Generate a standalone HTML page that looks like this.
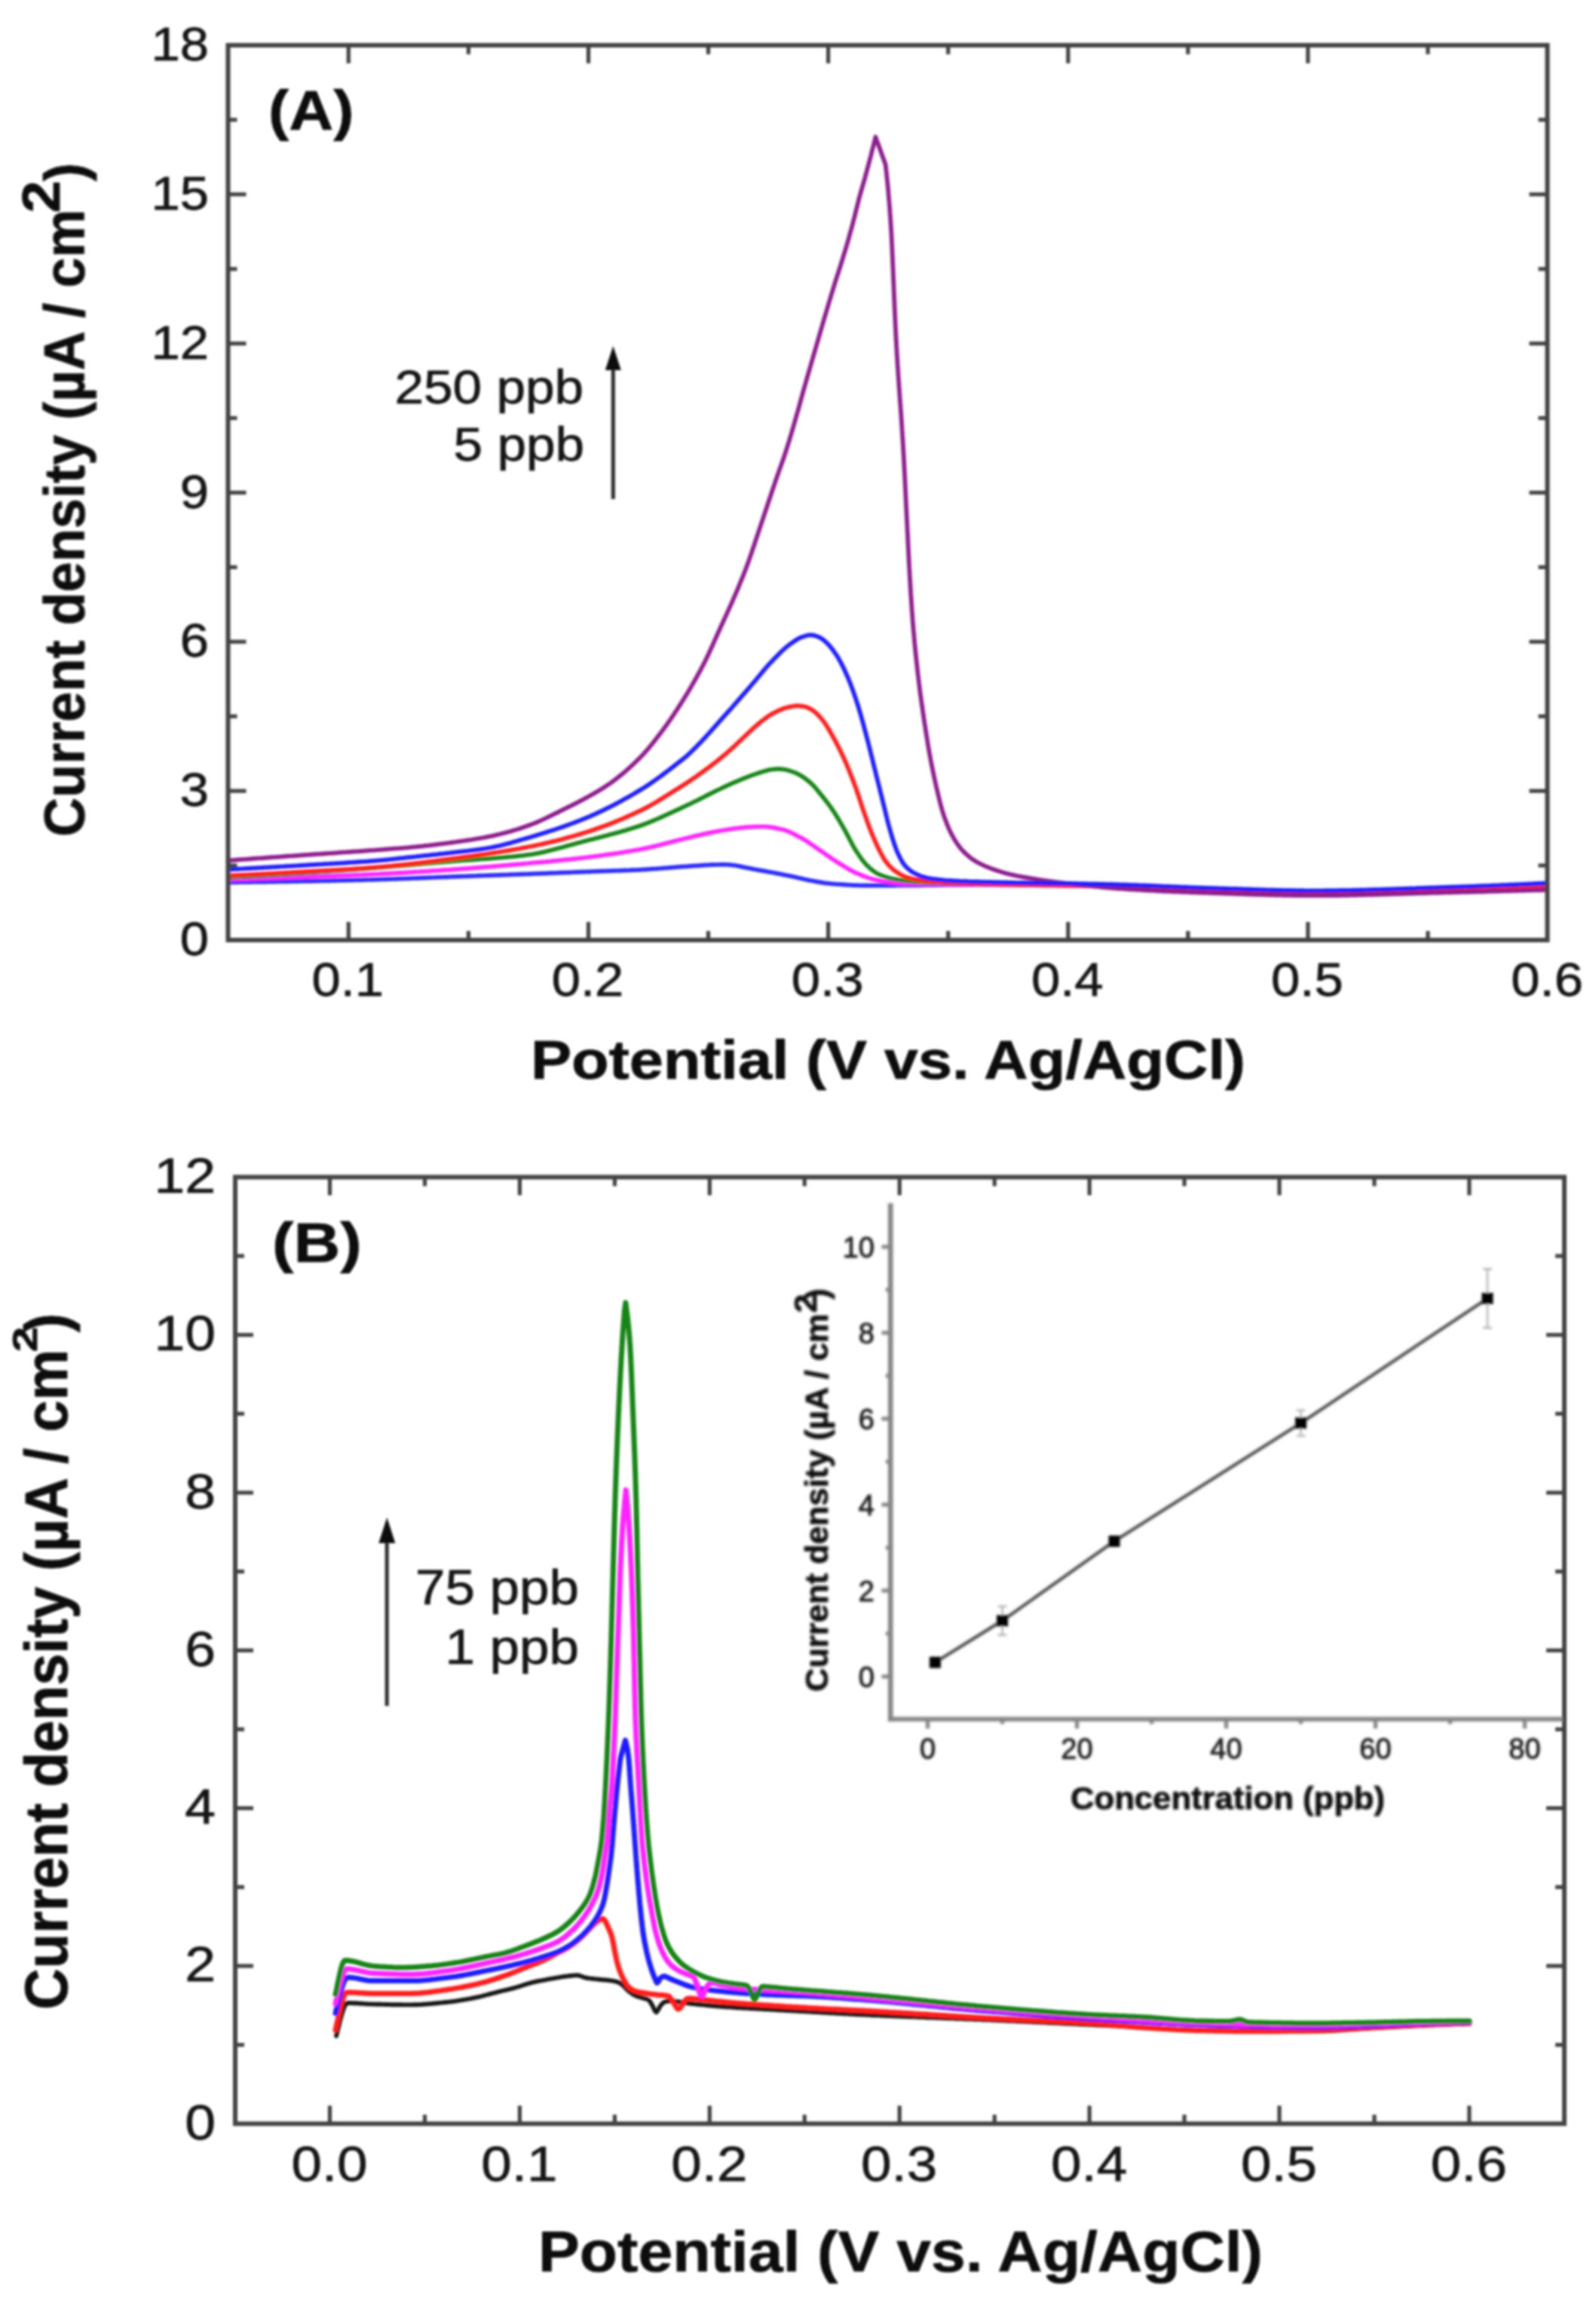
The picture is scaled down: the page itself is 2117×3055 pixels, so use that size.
<!DOCTYPE html>
<html lang="en"><head><meta charset="utf-8"><title>Figure</title>
<style>
html,body{margin:0;padding:0;background:#fff;}
body{width:2117px;height:3055px;overflow:hidden;}
svg{display:block;}
text{font-family:"Liberation Sans",Arial,sans-serif;fill:#141414;stroke:#141414;stroke-width:0.8px;stroke-linejoin:round;}
.b{font-weight:bold;fill:#0a0a0a;stroke:#0a0a0a;stroke-width:0.7px;}
.cv{fill:none;stroke-width:5.7;stroke-linejoin:round;stroke-linecap:round;}
.ax{stroke:#424242;fill:none;}
</style></head><body>
<svg width="2117" height="3055" viewBox="0 0 2117 3055">
<defs><filter id="soft" x="-2%" y="-2%" width="104%" height="104%"><feGaussianBlur stdDeviation="1.55"/></filter><filter id="soft2" x="-5%" y="-5%" width="110%" height="110%"><feGaussianBlur stdDeviation="1.2"/></filter>
<clipPath id="clipB"><rect x="0" y="0" width="2117" height="3030"/></clipPath></defs>
<rect width="2117" height="3055" fill="#fff"/>
<g filter="url(#soft)">
<g id="plotA">
<clipPath id="cA"><rect x="302.5" y="60" width="1750.0" height="1187"/></clipPath><g clip-path="url(#cA)">
<path class="cv" stroke="#2a2aff" d="M302.0,1170.4 L305.0,1170.4 L308.0,1170.3 L311.0,1170.3 L314.0,1170.3 L317.0,1170.2 L320.0,1170.2 L323.0,1170.2 L326.0,1170.1 L329.0,1170.1 L332.0,1170.1 L335.0,1170.0 L338.0,1170.0 L341.0,1169.9 L344.0,1169.9 L347.0,1169.9 L350.0,1169.8 L353.0,1169.8 L356.0,1169.7 L359.0,1169.7 L362.0,1169.6 L365.0,1169.6 L368.0,1169.5 L371.0,1169.5 L374.0,1169.4 L377.0,1169.4 L380.0,1169.3 L383.0,1169.3 L386.0,1169.2 L389.0,1169.2 L392.0,1169.1 L395.0,1169.1 L398.0,1169.0 L401.0,1169.0 L404.0,1168.9 L407.0,1168.9 L410.0,1168.8 L413.0,1168.8 L416.0,1168.7 L419.0,1168.6 L422.0,1168.6 L425.0,1168.5 L428.0,1168.5 L431.0,1168.4 L434.0,1168.3 L437.0,1168.3 L440.0,1168.2 L443.0,1168.1 L446.0,1168.1 L449.0,1168.0 L452.0,1167.9 L455.0,1167.9 L458.0,1167.8 L461.0,1167.7 L464.0,1167.7 L467.0,1167.6 L470.0,1167.5 L473.0,1167.4 L476.0,1167.4 L479.0,1167.3 L482.0,1167.2 L485.0,1167.1 L488.0,1167.0 L491.0,1167.0 L494.0,1166.9 L497.0,1166.8 L500.0,1166.7 L503.0,1166.6 L506.0,1166.5 L509.0,1166.4 L512.0,1166.3 L515.0,1166.2 L518.0,1166.1 L521.0,1166.0 L524.0,1165.9 L526.9,1165.8 L529.9,1165.7 L532.9,1165.6 L535.9,1165.5 L538.9,1165.4 L541.9,1165.3 L544.9,1165.1 L547.9,1165.0 L550.9,1164.9 L553.9,1164.8 L556.9,1164.7 L559.9,1164.6 L562.9,1164.4 L565.9,1164.3 L568.9,1164.2 L571.9,1164.1 L574.9,1164.0 L577.9,1163.8 L580.9,1163.7 L583.9,1163.6 L586.9,1163.5 L589.9,1163.4 L592.9,1163.3 L595.9,1163.2 L598.9,1163.0 L601.9,1162.9 L604.9,1162.8 L607.9,1162.7 L610.9,1162.6 L613.9,1162.5 L616.9,1162.4 L619.9,1162.3 L622.9,1162.2 L625.9,1162.1 L628.9,1162.0 L631.9,1161.9 L634.9,1161.7 L637.9,1161.6 L640.9,1161.5 L643.9,1161.4 L646.9,1161.3 L649.9,1161.2 L652.9,1161.1 L655.9,1161.0 L658.9,1160.9 L661.9,1160.8 L664.9,1160.7 L667.9,1160.6 L670.8,1160.5 L673.8,1160.4 L676.8,1160.2 L679.8,1160.1 L682.8,1160.0 L685.8,1159.9 L688.8,1159.8 L691.8,1159.7 L694.8,1159.6 L697.8,1159.5 L700.8,1159.4 L703.8,1159.3 L706.8,1159.1 L709.8,1159.0 L712.8,1158.9 L715.8,1158.8 L718.8,1158.7 L721.8,1158.6 L724.8,1158.5 L727.8,1158.3 L730.8,1158.2 L733.8,1158.1 L736.8,1158.0 L739.8,1157.9 L742.8,1157.7 L745.8,1157.6 L748.8,1157.5 L751.8,1157.4 L754.8,1157.3 L757.8,1157.2 L760.8,1157.0 L763.8,1156.9 L766.8,1156.8 L769.8,1156.7 L772.8,1156.6 L775.8,1156.5 L778.8,1156.4 L781.8,1156.3 L784.8,1156.1 L787.8,1156.0 L790.8,1155.9 L793.8,1155.8 L796.8,1155.7 L799.8,1155.6 L802.8,1155.5 L805.8,1155.4 L808.8,1155.3 L811.8,1155.2 L814.8,1155.1 L817.7,1155.0 L820.7,1154.9 L823.7,1154.8 L826.7,1154.7 L829.7,1154.6 L832.7,1154.5 L835.7,1154.4 L838.7,1154.2 L841.7,1154.1 L844.7,1154.0 L847.7,1153.8 L850.7,1153.7 L853.7,1153.5 L856.7,1153.3 L859.7,1153.1 L862.7,1152.9 L865.7,1152.7 L868.7,1152.5 L871.7,1152.3 L874.7,1152.0 L877.7,1151.8 L880.6,1151.5 L883.6,1151.3 L886.6,1151.1 L889.6,1150.8 L892.6,1150.6 L895.6,1150.4 L898.6,1150.1 L901.6,1149.9 L904.6,1149.7 L907.6,1149.5 L910.6,1149.3 L913.6,1149.1 L916.5,1148.9 L919.5,1148.7 L922.5,1148.5 L925.5,1148.3 L928.5,1148.1 L931.5,1147.9 L934.5,1147.7 L937.5,1147.5 L940.5,1147.4 L943.5,1147.2 L946.5,1147.1 L949.5,1147.0 L952.5,1147.0 L955.5,1146.9 L958.5,1146.9 L961.5,1146.9 L964.5,1147.0 L967.5,1147.2 L970.5,1147.5 L973.5,1147.8 L976.4,1148.2 L979.4,1148.8 L982.3,1149.4 L985.3,1150.1 L988.2,1150.6 L991.1,1151.2 L994.1,1151.8 L997.0,1152.4 L1000.0,1153.0 L1002.9,1153.5 L1005.9,1154.1 L1008.8,1154.6 L1011.8,1155.1 L1014.7,1155.6 L1017.7,1156.2 L1020.6,1156.7 L1023.6,1157.2 L1026.5,1157.8 L1029.5,1158.4 L1032.4,1158.9 L1035.4,1159.5 L1038.3,1160.1 L1041.2,1160.7 L1044.2,1161.3 L1047.1,1161.9 L1050.1,1162.5 L1053.0,1163.1 L1055.9,1163.8 L1058.9,1164.5 L1061.8,1165.1 L1064.7,1165.8 L1067.6,1166.5 L1070.6,1167.1 L1073.5,1167.7 L1076.4,1168.2 L1079.4,1168.8 L1082.3,1169.4 L1085.3,1169.9 L1088.2,1170.4 L1091.2,1170.9 L1094.2,1171.3 L1097.1,1171.7 L1100.1,1172.0 L1103.1,1172.3 L1106.1,1172.5 L1109.1,1172.8 L1112.1,1173.0 L1115.1,1173.2 L1118.1,1173.4 L1121.0,1173.6 L1124.0,1173.8 L1127.0,1174.0 L1130.0,1174.2 L1133.0,1174.3 L1136.0,1174.4 L1139.0,1174.5 L1142.0,1174.6 L1145.0,1174.7 L1148.0,1174.7 L1151.0,1174.7 L1154.0,1174.7 L1157.0,1174.7 L1160.0,1174.7 L1163.0,1174.7 L1166.0,1174.7 L1169.0,1174.7 L1172.0,1174.6 L1175.0,1174.6 L1178.0,1174.6 L1181.0,1174.6 L1184.0,1174.6 L1187.0,1174.6 L1190.0,1174.5 L1193.0,1174.5 L1196.0,1174.5 L1199.0,1174.5 L1202.0,1174.4 L1205.0,1174.4 L1208.0,1174.4 L1211.0,1174.4 L1214.0,1174.3 L1217.0,1174.3 L1220.0,1174.3 L1223.0,1174.2 L1226.0,1174.2 L1229.0,1174.2 L1232.0,1174.2 L1235.0,1174.1 L1238.0,1174.1 L1241.0,1174.1 L1244.0,1174.1 L1247.0,1174.0 L1250.0,1174.0 L1253.0,1174.0 L1256.0,1174.0 L1259.0,1173.9 L1262.0,1173.9 L1265.0,1173.9 L1268.0,1173.8 L1271.0,1173.8 L1274.0,1173.8 L1277.0,1173.7 L1280.0,1173.7 L1283.0,1173.7 L1286.0,1173.6 L1289.0,1173.6 L1292.0,1173.5 L1295.0,1173.5 L1298.0,1173.5 L1301.0,1173.4 L1304.0,1173.4 L1307.0,1173.3 L1310.0,1173.3 L1313.0,1173.3 L1316.0,1173.2 L1319.0,1173.2 L1322.0,1173.1 L1325.0,1173.1 L1328.0,1173.1 L1331.0,1173.0 L1334.0,1173.0 L1337.0,1172.9 L1340.0,1172.9 L1343.0,1172.9 L1346.0,1172.8 L1349.0,1172.8 L1352.0,1172.8 L1355.0,1172.7 L1358.0,1172.7 L1361.0,1172.7 L1364.0,1172.7 L1367.0,1172.6 L1370.0,1172.6 L1373.0,1172.6 L1376.0,1172.6 L1379.0,1172.6 L1382.0,1172.5 L1385.0,1172.5 L1388.0,1172.5 L1391.0,1172.5 L1394.0,1172.5 L1397.0,1172.5 L1400.0,1172.5 L1403.0,1172.5 L1406.0,1172.5 L1409.0,1172.5 L1412.0,1172.6 L1415.0,1172.6 L1418.0,1172.7 L1421.0,1172.7 L1424.0,1172.8 L1427.0,1172.9 L1430.0,1172.9 L1433.0,1173.0 L1436.0,1173.1 L1439.0,1173.2 L1442.0,1173.3 L1445.0,1173.3 L1448.0,1173.4 L1451.0,1173.5 L1454.0,1173.6 L1457.0,1173.7 L1460.0,1173.8 L1463.0,1173.9 L1466.0,1174.0 L1469.0,1174.1 L1472.0,1174.1 L1475.0,1174.2 L1478.0,1174.3 L1481.0,1174.4 L1484.0,1174.5 L1487.0,1174.6 L1490.0,1174.7 L1493.0,1174.9 L1496.0,1175.0 L1499.0,1175.1 L1502.0,1175.2 L1505.0,1175.3 L1508.0,1175.5 L1511.0,1175.6 L1514.0,1175.7 L1517.0,1175.8 L1520.0,1176.0 L1523.0,1176.1 L1525.9,1176.2 L1528.9,1176.4 L1531.9,1176.5 L1534.9,1176.6 L1537.9,1176.8 L1540.9,1176.9 L1543.9,1177.1 L1546.9,1177.2 L1549.9,1177.3 L1552.9,1177.5 L1555.9,1177.6 L1558.9,1177.7 L1561.9,1177.9 L1564.9,1178.0 L1567.9,1178.1 L1570.9,1178.3 L1573.9,1178.4 L1576.9,1178.5 L1579.9,1178.6 L1582.9,1178.8 L1585.9,1178.9 L1588.9,1179.0 L1591.9,1179.1 L1594.9,1179.2 L1597.9,1179.4 L1600.9,1179.5 L1603.9,1179.6 L1606.9,1179.7 L1609.9,1179.8 L1612.9,1179.9 L1615.9,1180.0 L1618.9,1180.1 L1621.9,1180.1 L1624.9,1180.2 L1627.9,1180.3 L1630.9,1180.4 L1633.9,1180.5 L1636.9,1180.6 L1639.9,1180.7 L1642.9,1180.8 L1645.9,1180.9 L1648.9,1181.0 L1651.9,1181.1 L1654.9,1181.2 L1657.8,1181.3 L1660.8,1181.4 L1663.8,1181.5 L1666.8,1181.6 L1669.8,1181.7 L1672.8,1181.8 L1675.8,1181.8 L1678.8,1181.9 L1681.8,1182.0 L1684.8,1182.1 L1687.8,1182.2 L1690.8,1182.3 L1693.8,1182.3 L1696.8,1182.4 L1699.8,1182.5 L1702.8,1182.5 L1705.8,1182.6 L1708.8,1182.7 L1711.8,1182.7 L1714.8,1182.8 L1717.8,1182.8 L1720.8,1182.8 L1723.8,1182.9 L1726.8,1182.9 L1729.8,1182.9 L1732.8,1183.0 L1735.8,1183.0 L1738.8,1183.0 L1741.8,1183.0 L1744.8,1183.0 L1747.8,1183.0 L1750.8,1183.0 L1753.8,1183.0 L1756.8,1183.0 L1759.8,1182.9 L1762.8,1182.9 L1765.8,1182.9 L1768.8,1182.8 L1771.8,1182.8 L1774.8,1182.8 L1777.8,1182.7 L1780.8,1182.7 L1783.8,1182.6 L1786.8,1182.6 L1789.8,1182.5 L1792.8,1182.4 L1795.8,1182.4 L1798.8,1182.3 L1801.8,1182.2 L1804.8,1182.2 L1807.8,1182.1 L1810.8,1182.0 L1813.8,1181.9 L1816.8,1181.8 L1819.8,1181.8 L1822.8,1181.7 L1825.8,1181.6 L1828.8,1181.5 L1831.8,1181.4 L1834.8,1181.3 L1837.8,1181.2 L1840.8,1181.1 L1843.8,1181.0 L1846.8,1180.9 L1849.8,1180.8 L1852.8,1180.7 L1855.8,1180.6 L1858.8,1180.5 L1861.8,1180.4 L1864.8,1180.3 L1867.8,1180.2 L1870.8,1180.1 L1873.8,1180.0 L1876.8,1179.9 L1879.8,1179.8 L1882.8,1179.7 L1885.8,1179.6 L1888.8,1179.5 L1891.8,1179.4 L1894.8,1179.3 L1897.8,1179.2 L1900.8,1179.1 L1903.8,1179.0 L1906.8,1178.9 L1909.8,1178.8 L1912.8,1178.7 L1915.8,1178.6 L1918.8,1178.5 L1921.8,1178.4 L1924.8,1178.3 L1927.8,1178.2 L1930.8,1178.1 L1933.8,1178.0 L1936.8,1177.9 L1939.7,1177.8 L1942.7,1177.7 L1945.7,1177.6 L1948.7,1177.4 L1951.7,1177.3 L1954.7,1177.2 L1957.7,1177.1 L1960.7,1177.0 L1963.7,1176.9 L1966.7,1176.8 L1969.7,1176.6 L1972.7,1176.5 L1975.7,1176.4 L1978.7,1176.3 L1981.7,1176.1 L1984.7,1176.0 L1987.7,1175.9 L1990.7,1175.8 L1993.7,1175.6 L1996.7,1175.5 L1999.7,1175.4 L2002.7,1175.3 L2005.7,1175.1 L2008.7,1175.0 L2011.7,1174.9 L2014.7,1174.7 L2017.7,1174.6 L2020.7,1174.5 L2023.7,1174.3 L2026.7,1174.2 L2029.7,1174.0 L2032.7,1173.9 L2035.7,1173.8 L2038.7,1173.6 L2041.7,1173.5 L2044.7,1173.3 L2047.7,1173.2 L2050.6,1173.1 L2052.0,1173.0"/>
<path class="cv" stroke="#ff22ff" d="M302.0,1167.0 L305.0,1166.9 L308.0,1166.8 L311.0,1166.7 L314.0,1166.6 L317.0,1166.5 L320.0,1166.4 L323.0,1166.3 L326.0,1166.2 L329.0,1166.1 L332.0,1166.0 L335.0,1165.9 L338.0,1165.8 L341.0,1165.7 L344.0,1165.6 L347.0,1165.4 L350.0,1165.3 L353.0,1165.2 L356.0,1165.1 L359.0,1165.0 L362.0,1164.9 L365.0,1164.8 L368.0,1164.7 L371.0,1164.6 L374.0,1164.5 L377.0,1164.4 L380.0,1164.2 L382.9,1164.1 L385.9,1164.0 L388.9,1163.9 L391.9,1163.8 L394.9,1163.7 L397.9,1163.6 L400.9,1163.5 L403.9,1163.4 L406.9,1163.2 L409.9,1163.1 L412.9,1163.0 L415.9,1162.9 L418.9,1162.8 L421.9,1162.7 L424.9,1162.6 L427.9,1162.5 L430.9,1162.3 L433.9,1162.2 L436.9,1162.1 L439.9,1162.0 L442.9,1161.9 L445.9,1161.8 L448.9,1161.7 L451.9,1161.6 L454.9,1161.4 L457.9,1161.3 L460.9,1161.2 L463.9,1161.1 L466.9,1161.0 L469.9,1160.8 L472.9,1160.7 L475.9,1160.6 L478.9,1160.5 L481.9,1160.3 L484.9,1160.2 L487.9,1160.1 L490.9,1159.9 L493.9,1159.8 L496.9,1159.6 L499.9,1159.5 L502.9,1159.4 L505.9,1159.2 L508.8,1159.1 L511.8,1158.9 L514.8,1158.8 L517.8,1158.6 L520.8,1158.4 L523.8,1158.3 L526.8,1158.1 L529.8,1157.9 L532.8,1157.8 L535.8,1157.6 L538.8,1157.4 L541.8,1157.3 L544.8,1157.1 L547.8,1156.9 L550.8,1156.7 L553.8,1156.5 L556.8,1156.4 L559.8,1156.2 L562.8,1156.0 L565.8,1155.8 L568.7,1155.6 L571.7,1155.4 L574.7,1155.2 L577.7,1155.0 L580.7,1154.8 L583.7,1154.6 L586.7,1154.4 L589.7,1154.2 L592.7,1154.0 L595.7,1153.8 L598.7,1153.6 L601.7,1153.4 L604.7,1153.2 L607.7,1153.0 L610.7,1152.7 L613.6,1152.5 L616.6,1152.3 L619.6,1152.1 L622.6,1151.9 L625.6,1151.6 L628.6,1151.4 L631.6,1151.2 L634.6,1150.9 L637.6,1150.7 L640.6,1150.4 L643.6,1150.2 L646.5,1150.0 L649.5,1149.7 L652.5,1149.5 L655.5,1149.2 L658.5,1149.0 L661.5,1148.7 L664.5,1148.5 L667.5,1148.2 L670.5,1147.9 L673.4,1147.7 L676.4,1147.4 L679.4,1147.1 L682.4,1146.9 L685.4,1146.6 L688.4,1146.3 L691.4,1146.1 L694.4,1145.8 L697.4,1145.5 L700.3,1145.3 L703.3,1145.0 L706.3,1144.7 L709.3,1144.4 L712.3,1144.2 L715.3,1143.9 L718.3,1143.6 L721.3,1143.3 L724.2,1143.1 L727.2,1142.8 L730.2,1142.5 L733.2,1142.2 L736.2,1141.9 L739.2,1141.6 L742.2,1141.3 L745.1,1141.0 L748.1,1140.7 L751.1,1140.4 L754.1,1140.1 L757.1,1139.8 L760.1,1139.4 L763.0,1139.1 L766.0,1138.8 L769.0,1138.4 L772.0,1138.1 L775.0,1137.7 L777.9,1137.3 L780.9,1137.0 L783.9,1136.6 L786.9,1136.2 L789.8,1135.8 L792.8,1135.5 L795.8,1135.1 L798.8,1134.7 L801.7,1134.3 L804.7,1133.8 L807.7,1133.4 L810.7,1133.0 L813.6,1132.6 L816.6,1132.1 L819.6,1131.7 L822.5,1131.2 L825.5,1130.7 L828.4,1130.3 L831.4,1129.8 L834.4,1129.3 L837.3,1128.8 L840.3,1128.3 L843.2,1127.7 L846.2,1127.2 L849.1,1126.7 L852.1,1126.1 L855.0,1125.5 L858.0,1124.9 L860.9,1124.2 L863.8,1123.6 L866.8,1122.9 L869.7,1122.2 L872.6,1121.5 L875.5,1120.7 L878.4,1120.0 L881.3,1119.2 L884.2,1118.5 L887.1,1117.7 L890.0,1117.0 L892.9,1116.3 L895.8,1115.5 L898.8,1114.8 L901.7,1114.1 L904.6,1113.4 L907.5,1112.6 L910.4,1111.9 L913.3,1111.2 L916.2,1110.4 L919.1,1109.7 L922.0,1109.0 L925.0,1108.4 L927.9,1107.7 L930.8,1107.0 L933.7,1106.4 L936.7,1105.7 L939.6,1105.1 L942.5,1104.5 L945.5,1103.9 L948.4,1103.3 L951.4,1102.8 L954.3,1102.2 L957.3,1101.7 L960.2,1101.2 L963.2,1100.7 L966.1,1100.2 L969.1,1099.8 L972.1,1099.4 L975.0,1099.0 L978.0,1098.7 L981.0,1098.3 L984.0,1098.0 L987.0,1097.7 L990.0,1097.4 L993.0,1097.2 L995.9,1097.0 L998.9,1096.8 L1001.9,1096.7 L1004.9,1096.6 L1007.9,1096.5 L1010.9,1096.5 L1013.9,1096.5 L1016.9,1096.7 L1019.9,1097.0 L1022.9,1097.4 L1025.9,1097.9 L1028.8,1098.4 L1031.8,1099.0 L1034.7,1099.7 L1037.6,1100.3 L1040.6,1101.1 L1043.4,1102.0 L1046.2,1103.2 L1049.0,1104.4 L1051.7,1105.7 L1054.4,1107.1 L1057.1,1108.5 L1059.7,1109.9 L1062.4,1111.3 L1065.0,1112.8 L1067.6,1114.3 L1070.2,1115.9 L1072.7,1117.6 L1075.2,1119.3 L1077.6,1121.0 L1080.1,1122.7 L1082.6,1124.5 L1085.0,1126.2 L1087.5,1127.9 L1090.0,1129.5 L1092.5,1131.2 L1094.9,1133.0 L1097.4,1134.7 L1099.8,1136.4 L1102.3,1138.1 L1104.8,1139.8 L1107.3,1141.5 L1109.8,1143.1 L1112.3,1144.7 L1114.8,1146.2 L1117.4,1147.8 L1119.9,1149.4 L1122.5,1150.9 L1125.1,1152.5 L1127.7,1154.0 L1130.3,1155.4 L1132.9,1156.8 L1135.6,1158.0 L1138.3,1159.2 L1141.1,1160.4 L1143.9,1161.5 L1146.7,1162.6 L1149.5,1163.6 L1152.3,1164.6 L1155.1,1165.5 L1158.0,1166.3 L1160.9,1167.0 L1163.9,1167.6 L1166.8,1168.1 L1169.7,1168.7 L1172.7,1169.2 L1175.7,1169.7 L1178.6,1170.1 L1181.6,1170.6 L1184.6,1170.9 L1187.5,1171.3 L1190.5,1171.6 L1193.5,1171.8 L1196.5,1172.0 L1199.5,1172.2 L1202.5,1172.3 L1205.5,1172.3 L1208.5,1172.4 L1211.5,1172.5 L1214.5,1172.5 L1217.5,1172.6 L1220.5,1172.6 L1223.5,1172.7 L1226.5,1172.7 L1229.5,1172.8 L1232.5,1172.8 L1235.5,1172.9 L1238.5,1172.9 L1241.5,1172.9 L1244.5,1173.0 L1247.5,1173.0 L1250.5,1173.0 L1253.5,1173.1 L1256.5,1173.1 L1259.5,1173.1 L1262.5,1173.1 L1265.5,1173.2 L1268.5,1173.2 L1271.5,1173.2 L1274.5,1173.2 L1277.5,1173.3 L1280.5,1173.3 L1283.5,1173.3 L1286.5,1173.4 L1289.5,1173.4 L1292.5,1173.4 L1295.5,1173.4 L1298.5,1173.5 L1301.5,1173.5 L1304.5,1173.6 L1307.5,1173.6 L1310.5,1173.6 L1313.5,1173.7 L1316.5,1173.7 L1319.5,1173.7 L1322.5,1173.8 L1325.5,1173.8 L1328.5,1173.8 L1331.5,1173.9 L1334.5,1173.9 L1337.5,1173.9 L1340.5,1173.9 L1343.5,1174.0 L1346.5,1174.0 L1349.5,1174.0 L1352.5,1174.1 L1355.5,1174.1 L1358.5,1174.1 L1361.5,1174.2 L1364.5,1174.2 L1367.5,1174.2 L1370.5,1174.2 L1373.5,1174.3 L1376.5,1174.3 L1379.5,1174.3 L1382.5,1174.4 L1385.5,1174.4 L1388.5,1174.4 L1391.5,1174.4 L1394.5,1174.5 L1397.5,1174.5 L1400.5,1174.5 L1403.5,1174.6 L1406.5,1174.6 L1409.5,1174.6 L1412.5,1174.7 L1415.5,1174.7 L1418.5,1174.8 L1421.5,1174.8 L1424.5,1174.8 L1427.5,1174.9 L1430.5,1174.9 L1433.5,1175.0 L1436.5,1175.0 L1439.5,1175.0 L1442.5,1175.1 L1445.5,1175.1 L1448.5,1175.2 L1451.5,1175.2 L1454.5,1175.3 L1457.5,1175.3 L1460.5,1175.4 L1463.5,1175.4 L1466.5,1175.5 L1469.5,1175.5 L1472.5,1175.6 L1475.5,1175.7 L1478.5,1175.8 L1481.5,1175.9 L1484.5,1175.9 L1487.5,1176.0 L1490.5,1176.1 L1493.5,1176.3 L1496.5,1176.4 L1499.5,1176.5 L1502.5,1176.6 L1505.5,1176.7 L1508.4,1176.9 L1511.4,1177.0 L1514.4,1177.1 L1517.4,1177.3 L1520.4,1177.4 L1523.4,1177.6 L1526.4,1177.7 L1529.4,1177.9 L1532.4,1178.0 L1535.4,1178.2 L1538.4,1178.3 L1541.4,1178.5 L1544.4,1178.7 L1547.4,1178.8 L1550.4,1179.0 L1553.4,1179.1 L1556.4,1179.3 L1559.4,1179.5 L1562.4,1179.6 L1565.4,1179.8 L1568.4,1179.9 L1571.4,1180.1 L1574.4,1180.2 L1577.4,1180.4 L1580.4,1180.5 L1583.4,1180.7 L1586.4,1180.8 L1589.3,1180.9 L1592.3,1181.1 L1595.3,1181.2 L1598.3,1181.3 L1601.3,1181.4 L1604.3,1181.6 L1607.3,1181.7 L1610.3,1181.8 L1613.3,1181.9 L1616.3,1182.0 L1619.3,1182.1 L1622.3,1182.2 L1625.3,1182.3 L1628.3,1182.4 L1631.3,1182.5 L1634.3,1182.5 L1637.3,1182.6 L1640.3,1182.7 L1643.3,1182.8 L1646.3,1182.9 L1649.3,1183.0 L1652.3,1183.1 L1655.3,1183.2 L1658.3,1183.3 L1661.3,1183.4 L1664.3,1183.5 L1667.3,1183.6 L1670.3,1183.7 L1673.3,1183.8 L1676.3,1183.9 L1679.3,1184.0 L1682.3,1184.0 L1685.3,1184.1 L1688.3,1184.2 L1691.3,1184.3 L1694.3,1184.4 L1697.3,1184.4 L1700.3,1184.5 L1703.3,1184.6 L1706.3,1184.6 L1709.3,1184.7 L1712.3,1184.7 L1715.3,1184.8 L1718.3,1184.8 L1721.3,1184.9 L1724.3,1184.9 L1727.3,1184.9 L1730.3,1184.9 L1733.3,1185.0 L1736.3,1185.0 L1739.3,1185.0 L1742.3,1185.0 L1745.3,1185.0 L1748.3,1185.0 L1751.3,1185.0 L1754.3,1185.0 L1757.3,1185.0 L1760.3,1184.9 L1763.3,1184.9 L1766.3,1184.9 L1769.3,1184.8 L1772.3,1184.8 L1775.3,1184.8 L1778.3,1184.7 L1781.3,1184.7 L1784.3,1184.6 L1787.3,1184.6 L1790.3,1184.5 L1793.3,1184.5 L1796.3,1184.4 L1799.3,1184.4 L1802.3,1184.3 L1805.3,1184.2 L1808.3,1184.2 L1811.3,1184.1 L1814.3,1184.0 L1817.3,1183.9 L1820.3,1183.9 L1823.3,1183.8 L1826.3,1183.7 L1829.3,1183.6 L1832.3,1183.6 L1835.3,1183.5 L1838.3,1183.4 L1841.3,1183.3 L1844.3,1183.2 L1847.3,1183.1 L1850.3,1183.0 L1853.3,1182.9 L1856.3,1182.9 L1859.3,1182.8 L1862.3,1182.7 L1865.3,1182.6 L1868.3,1182.5 L1871.3,1182.4 L1874.3,1182.3 L1877.3,1182.2 L1880.2,1182.1 L1883.2,1182.0 L1886.2,1181.9 L1889.2,1181.8 L1892.2,1181.7 L1895.2,1181.7 L1898.2,1181.6 L1901.2,1181.5 L1904.2,1181.4 L1907.2,1181.3 L1910.2,1181.2 L1913.2,1181.1 L1916.2,1181.0 L1919.2,1181.0 L1922.2,1180.9 L1925.2,1180.8 L1928.2,1180.7 L1931.2,1180.6 L1934.2,1180.5 L1937.2,1180.5 L1940.2,1180.4 L1943.2,1180.3 L1946.2,1180.2 L1949.2,1180.1 L1952.2,1180.0 L1955.2,1179.9 L1958.2,1179.8 L1961.2,1179.7 L1964.2,1179.6 L1967.2,1179.5 L1970.2,1179.4 L1973.2,1179.3 L1976.2,1179.2 L1979.2,1179.1 L1982.2,1179.0 L1985.2,1178.9 L1988.2,1178.8 L1991.2,1178.7 L1994.2,1178.6 L1997.2,1178.5 L2000.2,1178.4 L2003.2,1178.3 L2006.2,1178.2 L2009.2,1178.1 L2012.2,1178.0 L2015.2,1177.9 L2018.2,1177.8 L2021.2,1177.7 L2024.2,1177.5 L2027.2,1177.4 L2030.2,1177.3 L2033.2,1177.2 L2036.2,1177.1 L2039.2,1177.0 L2042.2,1176.9 L2045.2,1176.8 L2048.2,1176.6 L2051.2,1176.5 L2052.0,1176.5"/>
<path class="cv" stroke="#128412" d="M302.0,1164.0 L305.0,1163.9 L308.0,1163.7 L311.0,1163.5 L314.0,1163.4 L317.0,1163.2 L320.0,1163.1 L323.0,1162.9 L326.0,1162.8 L329.0,1162.6 L332.0,1162.4 L335.0,1162.3 L338.0,1162.1 L340.9,1161.9 L343.9,1161.8 L346.9,1161.6 L349.9,1161.4 L352.9,1161.3 L355.9,1161.1 L358.9,1160.9 L361.9,1160.7 L364.9,1160.6 L367.9,1160.4 L370.9,1160.2 L373.9,1160.0 L376.9,1159.8 L379.9,1159.6 L382.9,1159.5 L385.9,1159.3 L388.9,1159.1 L391.9,1158.9 L394.8,1158.7 L397.8,1158.5 L400.8,1158.3 L403.8,1158.1 L406.8,1157.9 L409.8,1157.7 L412.8,1157.5 L415.8,1157.3 L418.8,1157.1 L421.8,1156.9 L424.8,1156.7 L427.8,1156.5 L430.8,1156.3 L433.8,1156.1 L436.8,1155.9 L439.8,1155.7 L442.7,1155.5 L445.7,1155.3 L448.7,1155.1 L451.7,1154.9 L454.7,1154.7 L457.7,1154.4 L460.7,1154.2 L463.7,1154.0 L466.7,1153.8 L469.7,1153.6 L472.7,1153.3 L475.7,1153.1 L478.6,1152.9 L481.6,1152.6 L484.6,1152.4 L487.6,1152.1 L490.6,1151.9 L493.6,1151.7 L496.6,1151.4 L499.6,1151.2 L502.6,1150.9 L505.6,1150.7 L508.5,1150.4 L511.5,1150.2 L514.5,1149.9 L517.5,1149.7 L520.5,1149.4 L523.5,1149.1 L526.5,1148.9 L529.5,1148.6 L532.5,1148.4 L535.4,1148.1 L538.4,1147.8 L541.4,1147.6 L544.4,1147.3 L547.4,1147.1 L550.4,1146.8 L553.4,1146.5 L556.4,1146.3 L559.4,1146.0 L562.3,1145.7 L565.3,1145.5 L568.3,1145.2 L571.3,1145.0 L574.3,1144.7 L577.3,1144.4 L580.3,1144.2 L583.3,1143.9 L586.3,1143.7 L589.2,1143.4 L592.2,1143.2 L595.2,1142.9 L598.2,1142.7 L601.2,1142.4 L604.2,1142.2 L607.2,1141.9 L610.2,1141.7 L613.2,1141.5 L616.2,1141.2 L619.1,1141.0 L622.1,1140.8 L625.1,1140.6 L628.1,1140.4 L631.1,1140.2 L634.1,1139.9 L637.1,1139.7 L640.1,1139.5 L643.1,1139.3 L646.1,1139.1 L649.1,1138.9 L652.1,1138.6 L655.1,1138.4 L658.0,1138.2 L661.0,1138.0 L664.0,1137.7 L667.0,1137.5 L670.0,1137.2 L673.0,1136.9 L676.0,1136.6 L679.0,1136.4 L682.0,1136.1 L684.9,1135.8 L687.9,1135.4 L690.9,1135.1 L693.9,1134.8 L696.9,1134.4 L699.8,1134.0 L702.8,1133.6 L705.8,1133.2 L708.7,1132.7 L711.7,1132.1 L714.7,1131.6 L717.6,1131.0 L720.5,1130.4 L723.5,1129.7 L726.4,1129.0 L729.3,1128.3 L732.2,1127.6 L735.1,1126.8 L738.0,1126.1 L740.9,1125.3 L743.8,1124.5 L746.7,1123.7 L749.6,1122.9 L752.5,1122.1 L755.4,1121.3 L758.3,1120.5 L761.2,1119.7 L764.1,1118.9 L767.0,1118.1 L769.9,1117.4 L772.8,1116.6 L775.7,1115.8 L778.6,1115.1 L781.5,1114.3 L784.4,1113.6 L787.3,1112.9 L790.2,1112.1 L793.1,1111.4 L796.0,1110.6 L798.9,1109.9 L801.8,1109.1 L804.7,1108.4 L807.6,1107.6 L810.5,1106.8 L813.4,1106.1 L816.3,1105.3 L819.2,1104.5 L822.1,1103.7 L825.0,1102.8 L827.9,1102.0 L830.7,1101.2 L833.6,1100.3 L836.5,1099.4 L839.4,1098.5 L842.2,1097.6 L845.1,1096.7 L847.9,1095.7 L850.8,1094.7 L853.6,1093.7 L856.4,1092.7 L859.2,1091.6 L862.0,1090.5 L864.8,1089.3 L867.6,1088.2 L870.3,1087.0 L873.1,1085.8 L875.8,1084.6 L878.6,1083.3 L881.3,1082.1 L884.0,1080.8 L886.8,1079.6 L889.5,1078.3 L892.2,1077.1 L894.9,1075.8 L897.7,1074.6 L900.4,1073.3 L903.1,1072.1 L905.8,1070.8 L908.6,1069.5 L911.3,1068.2 L914.0,1067.0 L916.7,1065.7 L919.4,1064.3 L922.1,1063.0 L924.8,1061.7 L927.5,1060.4 L930.2,1059.0 L932.8,1057.7 L935.5,1056.3 L938.2,1054.9 L940.8,1053.6 L943.5,1052.2 L946.2,1050.9 L948.9,1049.5 L951.6,1048.2 L954.3,1047.0 L957.0,1045.7 L959.7,1044.4 L962.4,1043.1 L965.1,1041.9 L967.9,1040.6 L970.6,1039.4 L973.3,1038.2 L976.1,1037.0 L978.9,1035.9 L981.6,1034.7 L984.4,1033.5 L987.2,1032.4 L989.9,1031.3 L992.7,1030.2 L995.5,1029.1 L998.3,1028.1 L1001.2,1027.1 L1004.0,1026.1 L1006.8,1025.2 L1009.7,1024.3 L1012.6,1023.4 L1015.4,1022.6 L1018.3,1021.8 L1021.2,1021.1 L1024.2,1020.7 L1027.1,1020.3 L1030.1,1020.1 L1033.1,1020.0 L1036.1,1020.2 L1039.1,1020.6 L1042.1,1021.0 L1045.0,1021.7 L1047.9,1022.6 L1050.8,1023.6 L1053.6,1024.6 L1056.4,1025.7 L1059.1,1027.1 L1061.8,1028.6 L1064.4,1030.2 L1066.9,1031.9 L1069.3,1033.7 L1071.7,1035.6 L1074.0,1037.5 L1076.3,1039.5 L1078.5,1041.7 L1080.6,1043.9 L1082.6,1046.3 L1084.5,1048.6 L1086.4,1050.9 L1088.3,1053.3 L1090.2,1055.6 L1092.1,1057.9 L1094.0,1060.3 L1095.8,1062.7 L1097.7,1065.1 L1099.5,1067.5 L1101.3,1069.9 L1103.0,1072.4 L1104.7,1074.9 L1106.4,1077.4 L1108.1,1080.0 L1109.7,1082.5 L1111.2,1085.1 L1112.8,1087.7 L1114.3,1090.3 L1115.8,1092.9 L1117.3,1095.6 L1118.8,1098.2 L1120.3,1100.8 L1121.8,1103.4 L1123.2,1106.1 L1124.6,1108.8 L1126.0,1111.5 L1127.4,1114.1 L1128.8,1116.8 L1130.1,1119.4 L1131.6,1122.0 L1133.0,1124.6 L1134.5,1127.1 L1136.1,1129.5 L1137.7,1132.0 L1139.4,1134.5 L1141.1,1137.0 L1142.8,1139.4 L1144.6,1141.7 L1146.4,1144.0 L1148.3,1146.2 L1150.3,1148.3 L1152.5,1150.4 L1154.7,1152.3 L1157.0,1154.2 L1159.3,1156.0 L1161.7,1157.6 L1164.3,1159.1 L1167.0,1160.3 L1169.7,1161.4 L1172.5,1162.4 L1175.4,1163.4 L1178.2,1164.2 L1181.1,1165.0 L1184.0,1165.7 L1187.0,1166.2 L1189.9,1166.7 L1192.9,1167.2 L1195.8,1167.6 L1198.8,1168.0 L1201.8,1168.4 L1204.8,1168.7 L1207.8,1169.0 L1210.7,1169.3 L1213.7,1169.6 L1216.7,1169.9 L1219.7,1170.1 L1222.7,1170.2 L1225.7,1170.4 L1228.7,1170.5 L1231.7,1170.7 L1234.7,1170.8 L1237.7,1170.9 L1240.7,1171.0 L1243.7,1171.1 L1246.7,1171.2 L1249.7,1171.3 L1252.7,1171.4 L1255.7,1171.5 L1258.7,1171.6 L1261.7,1171.7 L1264.7,1171.8 L1267.7,1171.8 L1270.7,1171.9 L1273.7,1172.0 L1276.7,1172.0 L1279.7,1172.1 L1282.7,1172.2 L1285.7,1172.2 L1288.7,1172.3 L1291.7,1172.3 L1294.7,1172.4 L1297.7,1172.5 L1300.7,1172.5 L1303.7,1172.6 L1306.7,1172.6 L1309.7,1172.7 L1312.7,1172.7 L1315.7,1172.8 L1318.7,1172.8 L1321.7,1172.9 L1324.7,1172.9 L1327.7,1173.0 L1330.7,1173.0 L1333.7,1173.1 L1336.7,1173.1 L1339.7,1173.2 L1342.7,1173.2 L1345.7,1173.2 L1348.7,1173.3 L1351.7,1173.3 L1354.7,1173.4 L1357.7,1173.4 L1360.7,1173.4 L1363.7,1173.5 L1366.7,1173.5 L1369.7,1173.5 L1372.7,1173.6 L1375.7,1173.6 L1378.6,1173.6 L1381.6,1173.7 L1384.6,1173.7 L1387.6,1173.7 L1390.6,1173.8 L1393.6,1173.8 L1396.6,1173.9 L1399.6,1173.9 L1402.6,1173.9 L1405.6,1174.0 L1408.6,1174.0 L1411.6,1174.0 L1414.6,1174.1 L1417.6,1174.1 L1420.6,1174.2 L1423.6,1174.2 L1426.6,1174.3 L1429.6,1174.3 L1432.6,1174.3 L1435.6,1174.4 L1438.6,1174.4 L1441.6,1174.5 L1444.6,1174.5 L1447.6,1174.6 L1450.6,1174.7 L1453.6,1174.7 L1456.6,1174.8 L1459.6,1174.8 L1462.6,1174.9 L1465.6,1175.0 L1468.6,1175.0 L1471.6,1175.1 L1474.6,1175.2 L1477.6,1175.3 L1480.6,1175.4 L1483.6,1175.5 L1486.6,1175.6 L1489.6,1175.7 L1492.6,1175.8 L1495.6,1176.0 L1498.6,1176.1 L1501.6,1176.2 L1504.6,1176.4 L1507.6,1176.5 L1510.6,1176.7 L1513.6,1176.8 L1516.6,1177.0 L1519.6,1177.1 L1522.6,1177.3 L1525.6,1177.4 L1528.6,1177.6 L1531.6,1177.8 L1534.6,1177.9 L1537.6,1178.1 L1540.6,1178.3 L1543.6,1178.4 L1546.6,1178.6 L1549.6,1178.8 L1552.5,1178.9 L1555.5,1179.1 L1558.5,1179.3 L1561.5,1179.4 L1564.5,1179.6 L1567.5,1179.8 L1570.5,1179.9 L1573.5,1180.1 L1576.5,1180.3 L1579.5,1180.4 L1582.5,1180.6 L1585.5,1180.7 L1588.5,1180.9 L1591.5,1181.0 L1594.5,1181.1 L1597.5,1181.3 L1600.5,1181.4 L1603.5,1181.5 L1606.5,1181.6 L1609.5,1181.7 L1612.5,1181.9 L1615.5,1182.0 L1618.5,1182.0 L1621.5,1182.1 L1624.5,1182.2 L1627.5,1182.3 L1630.5,1182.4 L1633.5,1182.5 L1636.5,1182.6 L1639.5,1182.7 L1642.5,1182.8 L1645.5,1182.9 L1648.5,1183.0 L1651.5,1183.1 L1654.5,1183.2 L1657.4,1183.3 L1660.4,1183.4 L1663.4,1183.5 L1666.4,1183.6 L1669.4,1183.7 L1672.4,1183.8 L1675.4,1183.9 L1678.4,1183.9 L1681.4,1184.0 L1684.4,1184.1 L1687.4,1184.2 L1690.4,1184.3 L1693.4,1184.3 L1696.4,1184.4 L1699.4,1184.5 L1702.4,1184.5 L1705.4,1184.6 L1708.4,1184.7 L1711.4,1184.7 L1714.4,1184.8 L1717.4,1184.8 L1720.4,1184.8 L1723.4,1184.9 L1726.4,1184.9 L1729.4,1184.9 L1732.4,1185.0 L1735.4,1185.0 L1738.4,1185.0 L1741.4,1185.0 L1744.4,1185.0 L1747.4,1185.0 L1750.4,1185.0 L1753.4,1185.0 L1756.4,1185.0 L1759.4,1184.9 L1762.4,1184.9 L1765.4,1184.9 L1768.4,1184.9 L1771.4,1184.8 L1774.4,1184.8 L1777.4,1184.7 L1780.4,1184.7 L1783.4,1184.7 L1786.4,1184.6 L1789.4,1184.6 L1792.4,1184.5 L1795.4,1184.4 L1798.4,1184.4 L1801.4,1184.3 L1804.4,1184.3 L1807.4,1184.2 L1810.4,1184.1 L1813.4,1184.0 L1816.4,1184.0 L1819.4,1183.9 L1822.4,1183.8 L1825.4,1183.7 L1828.4,1183.7 L1831.4,1183.6 L1834.4,1183.5 L1837.4,1183.4 L1840.4,1183.3 L1843.4,1183.2 L1846.4,1183.1 L1849.4,1183.1 L1852.4,1183.0 L1855.4,1182.9 L1858.4,1182.8 L1861.4,1182.7 L1864.4,1182.6 L1867.4,1182.5 L1870.4,1182.4 L1873.4,1182.3 L1876.4,1182.2 L1879.4,1182.1 L1882.4,1182.0 L1885.4,1182.0 L1888.4,1181.9 L1891.4,1181.8 L1894.4,1181.7 L1897.4,1181.6 L1900.4,1181.5 L1903.4,1181.4 L1906.4,1181.3 L1909.4,1181.2 L1912.4,1181.2 L1915.4,1181.1 L1918.4,1181.0 L1921.4,1180.9 L1924.4,1180.8 L1927.4,1180.7 L1930.4,1180.7 L1933.4,1180.6 L1936.4,1180.5 L1939.4,1180.4 L1942.4,1180.3 L1945.4,1180.2 L1948.4,1180.1 L1951.4,1180.0 L1954.4,1179.9 L1957.4,1179.8 L1960.4,1179.7 L1963.4,1179.6 L1966.4,1179.5 L1969.4,1179.5 L1972.4,1179.4 L1975.3,1179.3 L1978.3,1179.2 L1981.3,1179.1 L1984.3,1179.0 L1987.3,1178.9 L1990.3,1178.7 L1993.3,1178.6 L1996.3,1178.5 L1999.3,1178.4 L2002.3,1178.3 L2005.3,1178.2 L2008.3,1178.1 L2011.3,1178.0 L2014.3,1177.9 L2017.3,1177.8 L2020.3,1177.7 L2023.3,1177.6 L2026.3,1177.5 L2029.3,1177.4 L2032.3,1177.2 L2035.3,1177.1 L2038.3,1177.0 L2041.3,1176.9 L2044.3,1176.8 L2047.3,1176.7 L2050.3,1176.6 L2052.0,1176.5"/>
<path class="cv" stroke="#ff1a1a" d="M302.0,1161.6 L305.0,1161.5 L308.0,1161.3 L311.0,1161.2 L314.0,1161.0 L317.0,1160.9 L320.0,1160.8 L323.0,1160.6 L326.0,1160.5 L329.0,1160.3 L332.0,1160.2 L335.0,1160.0 L338.0,1159.9 L341.0,1159.7 L344.0,1159.6 L346.9,1159.4 L349.9,1159.3 L352.9,1159.1 L355.9,1159.0 L358.9,1158.8 L361.9,1158.7 L364.9,1158.5 L367.9,1158.3 L370.9,1158.2 L373.9,1158.0 L376.9,1157.9 L379.9,1157.7 L382.9,1157.5 L385.9,1157.4 L388.9,1157.2 L391.9,1157.1 L394.9,1156.9 L397.9,1156.7 L400.9,1156.6 L403.9,1156.4 L406.9,1156.2 L409.9,1156.1 L412.9,1155.9 L415.8,1155.7 L418.8,1155.6 L421.8,1155.4 L424.8,1155.2 L427.8,1155.1 L430.8,1154.9 L433.8,1154.7 L436.8,1154.6 L439.8,1154.4 L442.8,1154.2 L445.8,1154.0 L448.8,1153.9 L451.8,1153.7 L454.8,1153.5 L457.8,1153.3 L460.8,1153.2 L463.8,1153.0 L466.8,1152.8 L469.8,1152.6 L472.8,1152.4 L475.7,1152.2 L478.7,1152.0 L481.7,1151.8 L484.7,1151.6 L487.7,1151.3 L490.7,1151.1 L493.7,1150.9 L496.7,1150.7 L499.7,1150.4 L502.7,1150.2 L505.7,1149.9 L508.7,1149.7 L511.6,1149.4 L514.6,1149.1 L517.6,1148.8 L520.6,1148.5 L523.6,1148.2 L526.6,1147.9 L529.6,1147.6 L532.5,1147.3 L535.5,1147.0 L538.5,1146.7 L541.5,1146.3 L544.5,1146.0 L547.4,1145.6 L550.4,1145.3 L553.4,1144.9 L556.4,1144.6 L559.4,1144.2 L562.3,1143.8 L565.3,1143.5 L568.3,1143.1 L571.3,1142.7 L574.2,1142.3 L577.2,1142.0 L580.2,1141.6 L583.2,1141.2 L586.1,1140.8 L589.1,1140.4 L592.1,1140.0 L595.1,1139.6 L598.0,1139.3 L601.0,1138.9 L604.0,1138.5 L607.0,1138.1 L609.9,1137.7 L612.9,1137.3 L615.9,1136.9 L618.9,1136.5 L621.8,1136.1 L624.8,1135.7 L627.8,1135.3 L630.8,1134.9 L633.7,1134.4 L636.7,1134.0 L639.7,1133.6 L642.6,1133.2 L645.6,1132.7 L648.6,1132.3 L651.5,1131.8 L654.5,1131.4 L657.5,1130.9 L660.4,1130.5 L663.4,1130.0 L666.4,1129.5 L669.3,1129.0 L672.3,1128.6 L675.2,1128.1 L678.2,1127.6 L681.2,1127.1 L684.1,1126.5 L687.1,1126.0 L690.0,1125.5 L693.0,1124.9 L695.9,1124.4 L698.9,1123.8 L701.8,1123.2 L704.8,1122.7 L707.7,1122.1 L710.6,1121.5 L713.6,1120.8 L716.5,1120.2 L719.4,1119.6 L722.4,1118.9 L725.3,1118.2 L728.2,1117.5 L731.1,1116.8 L734.1,1116.1 L737.0,1115.4 L739.9,1114.7 L742.8,1113.9 L745.7,1113.2 L748.6,1112.4 L751.5,1111.6 L754.4,1110.8 L757.3,1110.0 L760.2,1109.2 L763.0,1108.4 L765.9,1107.5 L768.8,1106.7 L771.7,1105.8 L774.6,1104.9 L777.4,1104.0 L780.3,1103.1 L783.1,1102.2 L786.0,1101.3 L788.8,1100.3 L791.7,1099.3 L794.5,1098.3 L797.3,1097.3 L800.2,1096.3 L803.0,1095.2 L805.8,1094.2 L808.6,1093.1 L811.4,1092.0 L814.2,1090.9 L816.9,1089.7 L819.7,1088.6 L822.5,1087.4 L825.3,1086.3 L828.0,1085.1 L830.8,1083.9 L833.5,1082.6 L836.2,1081.4 L839.0,1080.2 L841.7,1078.9 L844.4,1077.6 L847.1,1076.4 L849.9,1075.1 L852.6,1073.7 L855.2,1072.4 L857.9,1071.0 L860.6,1069.6 L863.2,1068.1 L865.8,1066.6 L868.4,1065.1 L871.0,1063.6 L873.6,1062.0 L876.1,1060.5 L878.7,1058.9 L881.3,1057.3 L883.8,1055.7 L886.3,1054.1 L888.9,1052.5 L891.4,1050.9 L894.0,1049.3 L896.5,1047.7 L899.0,1046.1 L901.6,1044.5 L904.1,1042.9 L906.6,1041.3 L909.2,1039.7 L911.7,1038.0 L914.2,1036.4 L916.7,1034.7 L919.2,1033.0 L921.6,1031.3 L924.1,1029.6 L926.6,1027.8 L929.0,1026.1 L931.4,1024.3 L933.9,1022.6 L936.3,1020.8 L938.7,1019.0 L941.1,1017.2 L943.5,1015.4 L945.9,1013.6 L948.3,1011.7 L950.7,1009.9 L953.0,1008.0 L955.4,1006.1 L957.7,1004.2 L960.0,1002.3 L962.3,1000.4 L964.6,998.4 L966.9,996.4 L969.1,994.4 L971.3,992.4 L973.5,990.3 L975.7,988.3 L977.9,986.2 L980.1,984.1 L982.3,982.1 L984.4,980.0 L986.6,978.0 L988.8,975.9 L991.0,973.8 L993.2,971.7 L995.3,969.7 L997.5,967.6 L999.7,965.6 L1001.9,963.6 L1004.2,961.7 L1006.5,959.8 L1008.8,957.9 L1011.1,956.0 L1013.5,954.2 L1015.8,952.4 L1018.3,950.7 L1020.7,949.0 L1023.2,947.5 L1025.8,946.1 L1028.5,944.7 L1031.2,943.4 L1033.9,942.1 L1036.6,941.0 L1039.4,939.9 L1042.2,939.0 L1045.1,938.3 L1048.1,937.6 L1051.0,937.0 L1053.9,936.5 L1056.9,936.2 L1059.9,936.3 L1062.9,936.6 L1065.9,937.1 L1068.8,937.7 L1071.7,938.7 L1074.4,940.1 L1077.1,941.7 L1079.6,943.4 L1082.0,945.4 L1084.2,947.5 L1086.3,949.7 L1088.4,952.0 L1090.4,954.3 L1092.3,956.7 L1094.1,959.2 L1095.8,961.8 L1097.5,964.4 L1099.0,967.0 L1100.6,969.6 L1102.0,972.2 L1103.5,974.8 L1105.0,977.5 L1106.5,980.1 L1107.9,982.7 L1109.3,985.4 L1110.7,988.1 L1112.1,990.8 L1113.5,993.5 L1114.8,996.2 L1116.1,998.9 L1117.4,1001.7 L1118.7,1004.4 L1119.9,1007.2 L1121.2,1009.9 L1122.4,1012.7 L1123.6,1015.5 L1124.7,1018.3 L1125.9,1021.1 L1127.0,1023.9 L1128.1,1026.7 L1129.2,1029.5 L1130.3,1032.3 L1131.4,1035.1 L1132.5,1037.9 L1133.5,1040.8 L1134.6,1043.6 L1135.6,1046.4 L1136.6,1049.3 L1137.6,1052.2 L1138.6,1055.0 L1139.5,1057.9 L1140.4,1060.8 L1141.4,1063.6 L1142.3,1066.5 L1143.2,1069.3 L1144.2,1072.1 L1145.1,1074.9 L1146.1,1077.8 L1147.1,1080.6 L1148.1,1083.4 L1149.1,1086.2 L1150.1,1089.1 L1151.1,1091.9 L1152.1,1094.7 L1153.1,1097.4 L1154.2,1100.2 L1155.3,1103.0 L1156.4,1105.7 L1157.5,1108.5 L1158.7,1111.2 L1159.9,1113.9 L1161.1,1116.6 L1162.3,1119.3 L1163.5,1122.0 L1164.8,1124.7 L1166.2,1127.3 L1167.5,1130.0 L1168.9,1132.6 L1170.3,1135.2 L1171.7,1137.8 L1173.2,1140.3 L1174.8,1142.7 L1176.6,1144.9 L1178.5,1147.2 L1180.5,1149.3 L1182.5,1151.4 L1184.7,1153.4 L1187.0,1155.2 L1189.4,1156.8 L1191.9,1158.5 L1194.5,1160.0 L1197.1,1161.4 L1199.7,1162.7 L1202.5,1163.8 L1205.3,1164.6 L1208.2,1165.3 L1211.1,1166.0 L1214.1,1166.6 L1217.0,1167.1 L1220.0,1167.6 L1222.9,1168.1 L1225.9,1168.5 L1228.9,1168.9 L1231.9,1169.2 L1234.8,1169.4 L1237.8,1169.7 L1240.8,1169.9 L1243.8,1170.1 L1246.8,1170.3 L1249.8,1170.5 L1252.8,1170.6 L1255.8,1170.8 L1258.8,1171.0 L1261.8,1171.1 L1264.8,1171.2 L1267.8,1171.4 L1270.8,1171.5 L1273.8,1171.6 L1276.8,1171.7 L1279.8,1171.8 L1282.8,1171.9 L1285.8,1172.0 L1288.8,1172.1 L1291.8,1172.2 L1294.8,1172.3 L1297.8,1172.4 L1300.8,1172.5 L1303.8,1172.6 L1306.8,1172.7 L1309.7,1172.8 L1312.7,1172.8 L1315.7,1172.9 L1318.7,1173.0 L1321.7,1173.1 L1324.7,1173.1 L1327.7,1173.2 L1330.7,1173.3 L1333.7,1173.3 L1336.7,1173.4 L1339.7,1173.5 L1342.7,1173.5 L1345.7,1173.6 L1348.7,1173.7 L1351.7,1173.7 L1354.7,1173.8 L1357.7,1173.8 L1360.7,1173.9 L1363.7,1173.9 L1366.7,1174.0 L1369.7,1174.0 L1372.7,1174.1 L1375.7,1174.1 L1378.7,1174.2 L1381.7,1174.2 L1384.7,1174.3 L1387.7,1174.3 L1390.7,1174.4 L1393.7,1174.4 L1396.7,1174.5 L1399.7,1174.5 L1402.7,1174.6 L1405.7,1174.6 L1408.7,1174.7 L1411.7,1174.7 L1414.7,1174.8 L1417.7,1174.9 L1420.7,1174.9 L1423.7,1175.0 L1426.7,1175.0 L1429.7,1175.1 L1432.7,1175.2 L1435.7,1175.2 L1438.7,1175.3 L1441.7,1175.3 L1444.7,1175.4 L1447.7,1175.5 L1450.7,1175.6 L1453.7,1175.6 L1456.7,1175.7 L1459.7,1175.8 L1462.7,1175.9 L1465.7,1176.0 L1468.7,1176.1 L1471.7,1176.1 L1474.7,1176.2 L1477.7,1176.3 L1480.7,1176.5 L1483.7,1176.6 L1486.7,1176.7 L1489.7,1176.8 L1492.7,1176.9 L1495.7,1177.1 L1498.7,1177.2 L1501.7,1177.4 L1504.7,1177.5 L1507.7,1177.6 L1510.7,1177.8 L1513.7,1177.9 L1516.7,1178.1 L1519.7,1178.3 L1522.7,1178.4 L1525.7,1178.6 L1528.7,1178.7 L1531.7,1178.9 L1534.6,1179.1 L1537.6,1179.2 L1540.6,1179.4 L1543.6,1179.6 L1546.6,1179.7 L1549.6,1179.9 L1552.6,1180.0 L1555.6,1180.2 L1558.6,1180.4 L1561.6,1180.5 L1564.6,1180.7 L1567.6,1180.8 L1570.6,1181.0 L1573.6,1181.2 L1576.6,1181.3 L1579.6,1181.5 L1582.6,1181.6 L1585.6,1181.7 L1588.6,1181.9 L1591.6,1182.0 L1594.6,1182.2 L1597.6,1182.3 L1600.6,1182.4 L1603.6,1182.5 L1606.6,1182.6 L1609.6,1182.8 L1612.6,1182.9 L1615.5,1183.0 L1618.5,1183.0 L1621.5,1183.1 L1624.5,1183.2 L1627.5,1183.3 L1630.5,1183.4 L1633.5,1183.5 L1636.5,1183.6 L1639.5,1183.7 L1642.5,1183.8 L1645.5,1183.9 L1648.5,1184.0 L1651.5,1184.1 L1654.5,1184.2 L1657.5,1184.3 L1660.5,1184.4 L1663.5,1184.5 L1666.5,1184.6 L1669.5,1184.7 L1672.5,1184.8 L1675.5,1184.9 L1678.5,1185.0 L1681.5,1185.0 L1684.5,1185.1 L1687.5,1185.2 L1690.5,1185.3 L1693.5,1185.3 L1696.5,1185.4 L1699.5,1185.5 L1702.5,1185.5 L1705.5,1185.6 L1708.5,1185.7 L1711.5,1185.7 L1714.5,1185.8 L1717.5,1185.8 L1720.5,1185.9 L1723.5,1185.9 L1726.5,1185.9 L1729.5,1185.9 L1732.5,1186.0 L1735.5,1186.0 L1738.5,1186.0 L1741.5,1186.0 L1744.5,1186.0 L1747.5,1186.0 L1750.5,1186.0 L1753.5,1186.0 L1756.5,1186.0 L1759.5,1185.9 L1762.5,1185.9 L1765.5,1185.9 L1768.5,1185.9 L1771.5,1185.8 L1774.5,1185.8 L1777.5,1185.7 L1780.5,1185.7 L1783.5,1185.7 L1786.5,1185.6 L1789.5,1185.6 L1792.5,1185.5 L1795.5,1185.4 L1798.5,1185.4 L1801.5,1185.3 L1804.5,1185.2 L1807.5,1185.2 L1810.5,1185.1 L1813.5,1185.0 L1816.5,1185.0 L1819.5,1184.9 L1822.5,1184.8 L1825.5,1184.7 L1828.5,1184.7 L1831.5,1184.6 L1834.5,1184.5 L1837.5,1184.4 L1840.5,1184.3 L1843.5,1184.2 L1846.5,1184.1 L1849.5,1184.1 L1852.5,1184.0 L1855.5,1183.9 L1858.5,1183.8 L1861.5,1183.7 L1864.5,1183.6 L1867.5,1183.5 L1870.5,1183.4 L1873.5,1183.3 L1876.5,1183.2 L1879.5,1183.1 L1882.5,1183.0 L1885.5,1183.0 L1888.5,1182.9 L1891.5,1182.8 L1894.5,1182.7 L1897.5,1182.6 L1900.5,1182.5 L1903.5,1182.4 L1906.5,1182.3 L1909.5,1182.2 L1912.5,1182.2 L1915.5,1182.1 L1918.5,1182.0 L1921.5,1181.9 L1924.5,1181.8 L1927.5,1181.7 L1930.4,1181.6 L1933.4,1181.6 L1936.4,1181.5 L1939.4,1181.4 L1942.4,1181.3 L1945.4,1181.2 L1948.4,1181.1 L1951.4,1181.0 L1954.4,1180.9 L1957.4,1180.8 L1960.4,1180.7 L1963.4,1180.6 L1966.4,1180.5 L1969.4,1180.4 L1972.4,1180.4 L1975.4,1180.3 L1978.4,1180.2 L1981.4,1180.1 L1984.4,1180.0 L1987.4,1179.8 L1990.4,1179.7 L1993.4,1179.6 L1996.4,1179.5 L1999.4,1179.4 L2002.4,1179.3 L2005.4,1179.2 L2008.4,1179.1 L2011.4,1179.0 L2014.4,1178.9 L2017.4,1178.8 L2020.4,1178.7 L2023.4,1178.6 L2026.4,1178.5 L2029.4,1178.4 L2032.4,1178.2 L2035.4,1178.1 L2038.4,1178.0 L2041.4,1177.9 L2044.4,1177.8 L2047.4,1177.7 L2050.4,1177.6 L2052.0,1177.5"/>
<path class="cv" stroke="#8c1a8c" d="M302.0,1141.5 L305.0,1141.3 L308.0,1141.1 L311.0,1140.9 L314.0,1140.6 L317.0,1140.4 L320.0,1140.2 L322.9,1140.0 L325.9,1139.8 L328.9,1139.6 L331.9,1139.3 L334.9,1139.1 L337.9,1138.9 L340.9,1138.7 L343.9,1138.5 L346.9,1138.3 L349.9,1138.1 L352.9,1137.8 L355.9,1137.6 L358.9,1137.4 L361.8,1137.2 L364.8,1137.0 L367.8,1136.8 L370.8,1136.6 L373.8,1136.4 L376.8,1136.1 L379.8,1135.9 L382.8,1135.7 L385.8,1135.5 L388.8,1135.3 L391.8,1135.1 L394.8,1134.9 L397.8,1134.7 L400.7,1134.4 L403.7,1134.2 L406.7,1134.0 L409.7,1133.8 L412.7,1133.6 L415.7,1133.4 L418.7,1133.2 L421.7,1133.0 L424.7,1132.8 L427.7,1132.6 L430.7,1132.4 L433.7,1132.2 L436.7,1132.0 L439.7,1131.8 L442.6,1131.6 L445.6,1131.4 L448.6,1131.1 L451.6,1130.9 L454.6,1130.7 L457.6,1130.5 L460.6,1130.3 L463.6,1130.1 L466.6,1129.9 L469.6,1129.7 L472.6,1129.5 L475.6,1129.3 L478.6,1129.1 L481.6,1128.9 L484.5,1128.6 L487.5,1128.4 L490.5,1128.2 L493.5,1128.0 L496.5,1127.8 L499.5,1127.5 L502.5,1127.3 L505.5,1127.1 L508.5,1126.9 L511.5,1126.6 L514.5,1126.4 L517.5,1126.2 L520.4,1126.0 L523.4,1125.7 L526.4,1125.5 L529.4,1125.3 L532.4,1125.0 L535.4,1124.8 L538.4,1124.5 L541.4,1124.3 L544.4,1124.0 L547.4,1123.7 L550.3,1123.5 L553.3,1123.2 L556.3,1122.9 L559.3,1122.6 L562.3,1122.2 L565.3,1121.9 L568.2,1121.6 L571.2,1121.2 L574.2,1120.9 L577.2,1120.5 L580.2,1120.1 L583.1,1119.7 L586.1,1119.4 L589.1,1119.0 L592.1,1118.6 L595.0,1118.2 L598.0,1117.8 L601.0,1117.4 L604.0,1117.0 L606.9,1116.5 L609.9,1116.1 L612.9,1115.7 L615.8,1115.3 L618.8,1114.9 L621.8,1114.4 L624.7,1114.0 L627.7,1113.5 L630.7,1113.0 L633.6,1112.5 L636.6,1112.0 L639.5,1111.5 L642.5,1111.0 L645.4,1110.4 L648.4,1109.8 L651.3,1109.2 L654.3,1108.6 L657.2,1107.9 L660.1,1107.3 L663.0,1106.6 L666.0,1105.8 L668.9,1105.1 L671.8,1104.3 L674.7,1103.5 L677.6,1102.7 L680.4,1101.8 L683.3,1101.0 L686.2,1100.1 L689.0,1099.2 L691.9,1098.2 L694.7,1097.3 L697.6,1096.3 L700.4,1095.3 L703.3,1094.3 L706.1,1093.2 L708.9,1092.1 L711.6,1091.0 L714.4,1089.8 L717.1,1088.5 L719.9,1087.3 L722.6,1086.0 L725.3,1084.7 L728.0,1083.4 L730.7,1082.1 L733.4,1080.8 L736.1,1079.4 L738.8,1078.1 L741.5,1076.7 L744.1,1075.4 L746.8,1074.1 L749.5,1072.7 L752.2,1071.4 L754.9,1070.1 L757.6,1068.8 L760.3,1067.4 L763.0,1066.1 L765.6,1064.7 L768.3,1063.3 L771.0,1061.9 L773.6,1060.5 L776.2,1059.0 L778.9,1057.6 L781.5,1056.1 L784.1,1054.7 L786.7,1053.2 L789.3,1051.7 L791.9,1050.2 L794.5,1048.7 L797.1,1047.1 L799.7,1045.5 L802.2,1043.9 L804.7,1042.2 L807.2,1040.5 L809.7,1038.8 L812.1,1037.1 L814.6,1035.3 L817.0,1033.4 L819.3,1031.6 L821.7,1029.7 L824.0,1027.8 L826.4,1025.9 L828.7,1024.0 L830.9,1022.0 L833.2,1020.0 L835.4,1018.0 L837.7,1015.9 L839.9,1013.9 L842.1,1011.8 L844.2,1009.7 L846.4,1007.6 L848.5,1005.5 L850.6,1003.4 L852.7,1001.2 L854.8,998.9 L856.8,996.7 L858.8,994.4 L860.7,992.1 L862.6,989.8 L864.5,987.4 L866.4,985.1 L868.3,982.7 L870.1,980.3 L872.0,977.9 L873.8,975.6 L875.6,973.2 L877.4,970.8 L879.3,968.4 L881.0,965.9 L882.8,963.5 L884.6,961.1 L886.3,958.6 L888.1,956.1 L889.8,953.7 L891.5,951.2 L893.2,948.7 L894.8,946.2 L896.5,943.7 L898.2,941.2 L899.8,938.6 L901.4,936.1 L903.0,933.6 L904.6,931.0 L906.2,928.5 L907.8,925.9 L909.4,923.3 L911.0,920.8 L912.5,918.2 L914.1,915.6 L915.6,913.0 L917.1,910.4 L918.6,907.8 L920.1,905.2 L921.6,902.6 L923.1,900.0 L924.5,897.3 L926.0,894.7 L927.4,892.0 L928.9,889.4 L930.3,886.7 L931.7,884.1 L933.1,881.4 L934.5,878.7 L935.8,876.0 L937.2,873.3 L938.5,870.6 L939.8,867.8 L941.0,865.1 L942.3,862.4 L943.5,859.6 L944.8,856.9 L946.0,854.1 L947.2,851.4 L948.5,848.6 L949.7,845.9 L950.9,843.2 L952.1,840.4 L953.3,837.7 L954.6,835.0 L955.8,832.2 L957.0,829.5 L958.3,826.8 L959.5,824.1 L960.8,821.3 L962.0,818.6 L963.3,815.9 L964.5,813.1 L965.8,810.4 L967.0,807.7 L968.2,804.9 L969.5,802.2 L970.7,799.4 L971.9,796.7 L973.1,793.9 L974.3,791.2 L975.5,788.4 L976.7,785.6 L977.9,782.8 L979.0,780.1 L980.2,777.3 L981.3,774.5 L982.5,771.7 L983.6,768.9 L984.8,766.2 L985.9,763.3 L987.0,760.5 L988.1,757.7 L989.2,754.9 L990.2,752.1 L991.3,749.3 L992.3,746.4 L993.3,743.6 L994.3,740.7 L995.3,737.9 L996.3,735.0 L997.3,732.2 L998.2,729.3 L999.2,726.5 L1000.2,723.6 L1001.1,720.8 L1002.0,717.9 L1003.0,715.1 L1003.9,712.2 L1004.9,709.4 L1005.8,706.5 L1006.8,703.7 L1007.7,700.8 L1008.7,698.0 L1009.6,695.2 L1010.6,692.3 L1011.5,689.5 L1012.5,686.6 L1013.4,683.8 L1014.4,680.9 L1015.3,678.1 L1016.3,675.2 L1017.2,672.4 L1018.2,669.5 L1019.1,666.7 L1020.1,663.8 L1021.0,661.0 L1022.0,658.2 L1022.9,655.3 L1023.9,652.5 L1024.8,649.6 L1025.8,646.8 L1026.8,644.0 L1027.7,641.1 L1028.7,638.3 L1029.6,635.4 L1030.6,632.6 L1031.6,629.8 L1032.6,627.0 L1033.5,624.2 L1034.6,621.3 L1035.6,618.5 L1036.6,615.7 L1037.6,612.9 L1038.6,610.0 L1039.6,607.2 L1040.6,604.3 L1041.5,601.4 L1042.5,598.5 L1043.4,595.7 L1044.3,592.8 L1045.2,589.9 L1046.1,587.0 L1047.0,584.1 L1047.8,581.3 L1048.7,578.4 L1049.6,575.5 L1050.4,572.6 L1051.3,569.7 L1052.1,566.8 L1052.9,563.9 L1053.8,561.0 L1054.6,558.1 L1055.4,555.3 L1056.2,552.4 L1057.0,549.5 L1057.9,546.6 L1058.7,543.7 L1059.5,540.8 L1060.3,537.9 L1061.1,535.0 L1061.9,532.1 L1062.7,529.2 L1063.5,526.3 L1064.3,523.5 L1065.1,520.6 L1065.9,517.7 L1066.7,514.8 L1067.5,511.9 L1068.4,509.0 L1069.2,506.1 L1070.0,503.3 L1070.8,500.4 L1071.6,497.5 L1072.5,494.6 L1073.3,491.8 L1074.1,488.9 L1075.0,486.0 L1075.8,483.1 L1076.6,480.2 L1077.5,477.3 L1078.3,474.5 L1079.1,471.6 L1080.0,468.7 L1080.8,465.8 L1081.6,462.9 L1082.5,460.0 L1083.3,457.2 L1084.1,454.3 L1085.0,451.4 L1085.8,448.5 L1086.6,445.6 L1087.5,442.8 L1088.3,439.9 L1089.1,437.0 L1090.0,434.1 L1090.8,431.2 L1091.6,428.4 L1092.5,425.5 L1093.3,422.6 L1094.2,419.7 L1095.0,416.9 L1095.9,414.0 L1096.7,411.1 L1097.6,408.2 L1098.4,405.4 L1099.3,402.5 L1100.1,399.6 L1101.0,396.8 L1101.8,393.9 L1102.7,391.0 L1103.6,388.2 L1104.5,385.3 L1105.4,382.5 L1106.2,379.6 L1107.1,376.7 L1108.0,373.9 L1108.9,371.0 L1109.8,368.2 L1110.7,365.3 L1111.7,362.5 L1112.6,359.6 L1113.5,356.7 L1114.4,353.9 L1115.3,351.0 L1116.2,348.1 L1117.1,345.3 L1118.0,342.4 L1118.8,339.5 L1119.7,336.6 L1120.6,333.8 L1121.5,330.9 L1122.3,328.0 L1123.2,325.1 L1124.0,322.2 L1124.9,319.3 L1125.7,316.4 L1126.5,313.5 L1127.3,310.6 L1128.1,307.7 L1128.9,304.8 L1129.7,301.9 L1130.5,298.9 L1131.3,296.0 L1132.0,293.1 L1132.8,290.2 L1133.5,287.3 L1134.3,284.4 L1135.0,281.4 L1135.7,278.5 L1136.5,275.6 L1137.2,272.7 L1137.9,269.8 L1138.6,266.9 L1139.3,263.9 L1139.8,262.0 L1139.8,262.0 L1140.7,259.1 L1141.5,256.2 L1142.3,253.3 L1143.2,250.4 L1144.0,247.5 L1144.8,244.6 L1145.7,241.8 L1146.5,238.9 L1147.3,236.0 L1148.1,233.0 L1148.9,230.1 L1149.7,227.2 L1150.4,224.3 L1151.2,221.4 L1152.0,218.5 L1152.8,215.6 L1153.5,212.7 L1154.3,209.8 L1155.1,206.9 L1155.8,204.0 L1156.5,201.0 L1157.3,198.1 L1158.0,195.2 L1158.8,192.3 L1159.5,189.4 L1160.2,186.5 L1160.9,183.5 L1161.4,181.6 L1161.4,181.6 L1162.4,184.4 L1163.4,187.2 L1164.4,190.1 L1165.5,192.9 L1166.5,195.7 L1167.5,198.5 L1168.5,201.4 L1169.5,204.2 L1170.5,207.0 L1171.6,209.8 L1172.6,212.7 L1173.6,215.5 L1174.6,218.3 L1174.6,218.3 L1174.6,218.3 L1175.0,221.4 L1175.3,224.4 L1175.7,227.4 L1176.0,230.5 L1176.3,233.5 L1176.6,236.5 L1176.9,239.6 L1177.2,242.6 L1177.5,245.6 L1177.8,248.6 L1178.1,251.6 L1178.4,254.6 L1178.6,257.7 L1178.9,260.7 L1179.1,263.7 L1179.4,266.7 L1179.6,269.8 L1179.9,272.9 L1180.1,276.1 L1180.4,279.5 L1180.6,282.9 L1180.9,286.4 L1181.1,290.0 L1181.4,293.7 L1181.6,297.6 L1181.9,301.6 L1182.1,305.8 L1182.4,310.3 L1182.6,315.0 L1182.9,320.0 L1183.1,325.1 L1183.4,330.4 L1183.6,335.9 L1183.9,341.5 L1184.1,347.3 L1184.4,353.1 L1184.6,359.1 L1184.9,365.1 L1185.1,371.1 L1185.4,377.2 L1185.6,383.2 L1185.9,389.3 L1186.1,395.4 L1186.4,401.4 L1186.6,407.3 L1186.9,413.1 L1187.1,418.9 L1187.4,424.5 L1187.6,429.9 L1187.9,435.3 L1188.1,440.4 L1188.4,445.3 L1188.6,450.0 L1188.9,454.6 L1189.1,459.0 L1189.4,463.3 L1189.6,467.5 L1189.9,471.7 L1190.1,475.8 L1190.4,479.8 L1190.6,483.7 L1190.9,487.6 L1191.1,491.4 L1191.4,495.2 L1191.6,498.9 L1191.9,502.6 L1192.1,506.2 L1192.4,509.8 L1192.6,513.4 L1192.9,516.9 L1193.1,520.4 L1193.4,523.9 L1193.6,527.4 L1193.9,531.0 L1194.1,534.5 L1194.4,538.0 L1194.6,541.5 L1194.9,545.0 L1195.1,548.6 L1195.4,552.2 L1195.6,555.8 L1195.9,559.5 L1196.1,563.2 L1196.4,566.9 L1196.6,570.7 L1196.9,574.6 L1197.1,578.5 L1197.4,582.5 L1197.6,586.5 L1197.9,590.7 L1198.1,594.9 L1198.4,599.2 L1198.6,603.6 L1198.9,608.1 L1199.1,612.8 L1199.4,617.5 L1199.6,622.3 L1199.9,627.3 L1200.1,632.2 L1200.4,637.3 L1200.6,642.3 L1200.9,647.4 L1201.1,652.5 L1201.4,657.7 L1201.6,662.8 L1201.9,667.9 L1202.1,672.9 L1202.4,678.0 L1202.6,682.9 L1202.9,688.0 L1203.1,693.1 L1203.4,698.2 L1203.6,703.4 L1203.9,708.5 L1204.1,713.7 L1204.4,718.8 L1204.6,723.9 L1204.9,728.9 L1205.1,733.8 L1205.4,738.7 L1205.6,743.5 L1205.9,748.1 L1206.1,752.7 L1206.4,757.2 L1206.6,761.6 L1206.9,766.0 L1207.1,770.3 L1207.4,774.6 L1207.6,778.8 L1207.9,782.9 L1208.1,787.0 L1208.4,790.9 L1208.6,794.8 L1208.9,798.5 L1209.1,802.1 L1209.4,805.7 L1209.6,809.2 L1209.9,812.7 L1210.1,816.1 L1210.4,819.5 L1210.6,822.7 L1210.9,826.0 L1211.1,829.1 L1211.4,832.2 L1211.6,835.2 L1211.9,838.2 L1212.2,841.1 L1212.4,844.1 L1212.7,847.0 L1213.0,850.0 L1213.2,853.0 L1213.5,855.9 L1213.8,858.9 L1214.1,861.8 L1214.4,864.8 L1214.7,867.8 L1215.0,870.7 L1215.3,873.7 L1215.6,876.7 L1216.0,879.6 L1216.3,882.6 L1216.6,885.5 L1216.9,888.5 L1217.3,891.5 L1217.6,894.4 L1218.0,897.4 L1218.3,900.3 L1218.7,903.3 L1219.0,906.3 L1219.4,909.2 L1219.8,912.2 L1220.1,915.1 L1220.5,918.1 L1220.9,921.0 L1221.3,924.0 L1221.7,926.9 L1222.1,929.9 L1222.5,932.8 L1222.9,935.8 L1223.4,938.7 L1223.8,941.7 L1224.2,944.6 L1224.7,947.6 L1225.1,950.5 L1225.5,953.5 L1226.0,956.5 L1226.4,959.4 L1226.9,962.4 L1227.4,965.3 L1227.8,968.3 L1228.3,971.2 L1228.7,974.2 L1229.2,977.1 L1229.7,980.1 L1230.2,983.0 L1230.6,986.0 L1231.1,988.9 L1231.6,991.9 L1232.1,994.8 L1232.6,997.7 L1233.2,1000.7 L1233.7,1003.6 L1234.2,1006.5 L1234.8,1009.4 L1235.3,1012.3 L1235.9,1015.3 L1236.5,1018.2 L1237.1,1021.1 L1237.7,1024.0 L1238.3,1026.9 L1238.9,1029.8 L1239.5,1032.7 L1240.2,1035.6 L1240.8,1038.6 L1241.5,1041.5 L1242.1,1044.4 L1242.8,1047.2 L1243.5,1050.2 L1244.2,1053.1 L1244.9,1056.0 L1245.6,1058.9 L1246.3,1061.8 L1247.0,1064.7 L1247.8,1067.5 L1248.5,1070.4 L1249.3,1073.2 L1250.1,1076.0 L1251.0,1078.8 L1251.9,1081.6 L1252.8,1084.4 L1253.8,1087.1 L1254.9,1089.9 L1255.9,1092.7 L1257.0,1095.4 L1258.2,1098.1 L1259.4,1100.8 L1260.6,1103.4 L1261.9,1106.1 L1263.3,1108.7 L1264.7,1111.2 L1266.2,1113.7 L1267.7,1116.3 L1269.4,1118.7 L1271.0,1121.1 L1272.8,1123.5 L1274.6,1125.8 L1276.5,1128.0 L1278.6,1130.1 L1280.7,1132.1 L1282.9,1134.1 L1285.1,1136.1 L1287.4,1137.9 L1289.8,1139.7 L1292.2,1141.3 L1294.8,1142.9 L1297.3,1144.3 L1300.0,1145.7 L1302.7,1147.0 L1305.4,1148.3 L1308.1,1149.5 L1310.9,1150.6 L1313.6,1151.7 L1316.4,1152.8 L1319.3,1153.7 L1322.1,1154.7 L1324.9,1155.6 L1327.8,1156.5 L1330.7,1157.4 L1333.6,1158.2 L1336.5,1159.0 L1339.4,1159.7 L1342.3,1160.4 L1345.2,1161.0 L1348.1,1161.7 L1351.1,1162.3 L1354.0,1162.8 L1357.0,1163.4 L1359.9,1163.9 L1362.9,1164.4 L1365.8,1164.9 L1368.8,1165.3 L1371.7,1165.8 L1374.7,1166.3 L1377.7,1166.8 L1380.6,1167.2 L1383.6,1167.7 L1386.6,1168.1 L1389.5,1168.6 L1392.5,1169.0 L1395.5,1169.4 L1398.4,1169.8 L1401.4,1170.2 L1404.4,1170.5 L1407.4,1170.9 L1410.4,1171.2 L1413.3,1171.6 L1416.3,1171.9 L1419.3,1172.2 L1422.3,1172.5 L1425.3,1172.9 L1428.2,1173.2 L1431.2,1173.5 L1434.2,1173.8 L1437.2,1174.1 L1440.2,1174.4 L1443.2,1174.7 L1446.2,1175.1 L1449.1,1175.4 L1452.1,1175.8 L1455.1,1176.1 L1458.1,1176.5 L1461.0,1176.9 L1464.0,1177.2 L1467.0,1177.5 L1470.0,1177.7 L1473.0,1178.0 L1476.0,1178.2 L1479.0,1178.4 L1482.0,1178.6 L1485.0,1178.8 L1487.9,1179.0 L1490.9,1179.2 L1493.9,1179.4 L1496.9,1179.6 L1499.9,1179.8 L1502.9,1180.0 L1505.9,1180.2 L1508.9,1180.4 L1511.9,1180.5 L1514.9,1180.7 L1517.9,1180.9 L1520.9,1181.1 L1523.9,1181.2 L1526.9,1181.4 L1529.9,1181.5 L1532.9,1181.7 L1535.9,1181.8 L1538.9,1182.0 L1541.9,1182.1 L1544.9,1182.3 L1547.8,1182.4 L1550.8,1182.5 L1553.8,1182.7 L1556.8,1182.8 L1559.8,1182.9 L1562.8,1183.0 L1565.8,1183.2 L1568.8,1183.3 L1571.8,1183.4 L1574.8,1183.5 L1577.8,1183.6 L1580.8,1183.8 L1583.8,1183.9 L1586.8,1184.0 L1589.8,1184.1 L1592.8,1184.2 L1595.8,1184.3 L1598.8,1184.4 L1601.8,1184.5 L1604.8,1184.6 L1607.8,1184.7 L1610.8,1184.8 L1613.8,1184.9 L1616.8,1185.0 L1619.8,1185.1 L1622.8,1185.2 L1625.8,1185.3 L1628.8,1185.4 L1631.8,1185.5 L1634.8,1185.6 L1637.8,1185.7 L1640.8,1185.8 L1643.8,1185.9 L1646.8,1186.0 L1649.8,1186.1 L1652.8,1186.2 L1655.8,1186.3 L1658.8,1186.4 L1661.8,1186.5 L1664.8,1186.6 L1667.8,1186.6 L1670.8,1186.7 L1673.8,1186.8 L1676.8,1186.9 L1679.8,1187.0 L1682.8,1187.1 L1685.8,1187.2 L1688.8,1187.2 L1691.8,1187.3 L1694.8,1187.4 L1697.8,1187.4 L1700.8,1187.5 L1703.8,1187.6 L1706.8,1187.6 L1709.8,1187.7 L1712.8,1187.7 L1715.8,1187.8 L1718.8,1187.8 L1721.8,1187.9 L1724.8,1187.9 L1727.8,1187.9 L1730.8,1188.0 L1733.8,1188.0 L1736.8,1188.0 L1739.8,1188.0 L1742.8,1188.0 L1745.8,1188.0 L1748.8,1188.0 L1751.8,1188.0 L1754.8,1188.0 L1757.8,1187.9 L1760.8,1187.9 L1763.8,1187.9 L1766.8,1187.9 L1769.8,1187.8 L1772.8,1187.8 L1775.8,1187.8 L1778.8,1187.7 L1781.8,1187.7 L1784.8,1187.6 L1787.8,1187.6 L1790.8,1187.5 L1793.8,1187.4 L1796.8,1187.4 L1799.8,1187.3 L1802.7,1187.2 L1805.7,1187.2 L1808.7,1187.1 L1811.7,1187.0 L1814.7,1187.0 L1817.7,1186.9 L1820.7,1186.8 L1823.7,1186.7 L1826.7,1186.6 L1829.7,1186.6 L1832.7,1186.5 L1835.7,1186.4 L1838.7,1186.3 L1841.7,1186.2 L1844.7,1186.1 L1847.7,1186.0 L1850.7,1185.9 L1853.7,1185.9 L1856.7,1185.8 L1859.7,1185.7 L1862.7,1185.6 L1865.7,1185.5 L1868.7,1185.4 L1871.7,1185.3 L1874.7,1185.2 L1877.7,1185.1 L1880.7,1185.0 L1883.7,1184.9 L1886.7,1184.9 L1889.7,1184.8 L1892.7,1184.7 L1895.7,1184.6 L1898.7,1184.5 L1901.7,1184.4 L1904.7,1184.3 L1907.7,1184.3 L1910.7,1184.2 L1913.7,1184.1 L1916.7,1184.0 L1919.7,1184.0 L1922.7,1183.9 L1925.7,1183.8 L1928.7,1183.7 L1931.7,1183.7 L1934.7,1183.6 L1937.7,1183.5 L1940.7,1183.4 L1943.7,1183.4 L1946.7,1183.3 L1949.7,1183.2 L1952.7,1183.1 L1955.7,1183.1 L1958.7,1183.0 L1961.7,1182.9 L1964.7,1182.8 L1967.7,1182.8 L1970.7,1182.7 L1973.7,1182.6 L1976.7,1182.5 L1979.7,1182.4 L1982.7,1182.4 L1985.7,1182.3 L1988.7,1182.2 L1991.7,1182.1 L1994.7,1182.0 L1997.7,1182.0 L2000.7,1181.9 L2003.7,1181.8 L2006.7,1181.7 L2009.7,1181.6 L2012.7,1181.6 L2015.7,1181.5 L2018.7,1181.4 L2021.7,1181.3 L2024.7,1181.2 L2027.7,1181.2 L2030.7,1181.1 L2033.7,1181.0 L2036.7,1180.9 L2039.7,1180.8 L2042.7,1180.8 L2045.7,1180.7 L2048.7,1180.6 L2051.7,1180.5 L2052.0,1180.5"/>
<path class="cv" stroke="#1a1aff" d="M302.0,1153.5 L305.0,1153.3 L308.0,1153.2 L311.0,1153.0 L314.0,1152.9 L317.0,1152.7 L320.0,1152.5 L323.0,1152.4 L326.0,1152.2 L329.0,1152.1 L332.0,1151.9 L335.0,1151.7 L337.9,1151.6 L340.9,1151.4 L343.9,1151.2 L346.9,1151.1 L349.9,1150.9 L352.9,1150.7 L355.9,1150.6 L358.9,1150.4 L361.9,1150.2 L364.9,1150.1 L367.9,1149.9 L370.9,1149.7 L373.9,1149.5 L376.9,1149.4 L379.9,1149.2 L382.9,1149.0 L385.9,1148.8 L388.9,1148.7 L391.9,1148.5 L394.9,1148.3 L397.9,1148.1 L400.8,1147.9 L403.8,1147.8 L406.8,1147.6 L409.8,1147.4 L412.8,1147.2 L415.8,1147.1 L418.8,1146.9 L421.8,1146.7 L424.8,1146.5 L427.8,1146.4 L430.8,1146.2 L433.8,1146.0 L436.8,1145.9 L439.8,1145.7 L442.8,1145.5 L445.8,1145.3 L448.8,1145.1 L451.8,1145.0 L454.8,1144.8 L457.7,1144.6 L460.7,1144.4 L463.7,1144.2 L466.7,1144.0 L469.7,1143.8 L472.7,1143.6 L475.7,1143.4 L478.7,1143.2 L481.7,1143.0 L484.7,1142.8 L487.7,1142.6 L490.7,1142.3 L493.7,1142.1 L496.7,1141.9 L499.6,1141.6 L502.6,1141.4 L505.6,1141.1 L508.6,1140.9 L511.6,1140.6 L514.6,1140.3 L517.6,1140.0 L520.6,1139.7 L523.5,1139.4 L526.5,1139.0 L529.5,1138.7 L532.5,1138.4 L535.5,1138.1 L538.5,1137.7 L541.4,1137.4 L544.4,1137.1 L547.4,1136.8 L550.4,1136.5 L553.4,1136.1 L556.3,1135.8 L559.3,1135.5 L562.3,1135.2 L565.3,1134.9 L568.3,1134.6 L571.3,1134.2 L574.2,1133.9 L577.2,1133.6 L580.2,1133.3 L583.2,1132.9 L586.2,1132.6 L589.2,1132.3 L592.1,1131.9 L595.1,1131.6 L598.1,1131.2 L601.1,1130.9 L604.1,1130.5 L607.0,1130.2 L610.0,1129.8 L613.0,1129.5 L616.0,1129.2 L619.0,1128.8 L621.9,1128.5 L624.9,1128.1 L627.9,1127.7 L630.9,1127.4 L633.8,1127.0 L636.8,1126.6 L639.8,1126.1 L642.8,1125.7 L645.7,1125.2 L648.7,1124.7 L651.6,1124.2 L654.6,1123.6 L657.5,1123.0 L660.5,1122.4 L663.4,1121.7 L666.3,1121.0 L669.2,1120.3 L672.1,1119.5 L675.0,1118.7 L677.9,1117.9 L680.8,1117.1 L683.7,1116.3 L686.6,1115.4 L689.5,1114.6 L692.3,1113.8 L695.2,1112.9 L698.1,1112.1 L701.0,1111.2 L703.9,1110.4 L706.7,1109.5 L709.6,1108.7 L712.5,1107.8 L715.4,1106.9 L718.2,1106.0 L721.1,1105.1 L723.9,1104.2 L726.8,1103.3 L729.7,1102.4 L732.5,1101.5 L735.4,1100.6 L738.2,1099.6 L741.1,1098.6 L743.9,1097.7 L746.7,1096.7 L749.6,1095.7 L752.4,1094.7 L755.2,1093.6 L758.0,1092.6 L760.9,1091.6 L763.7,1090.5 L766.5,1089.4 L769.3,1088.3 L772.0,1087.2 L774.8,1086.1 L777.6,1084.9 L780.4,1083.8 L783.1,1082.6 L785.9,1081.4 L788.6,1080.1 L791.4,1078.9 L794.1,1077.6 L796.8,1076.4 L799.5,1075.1 L802.2,1073.8 L804.9,1072.4 L807.6,1071.1 L810.3,1069.7 L813.0,1068.4 L815.6,1067.0 L818.3,1065.6 L820.9,1064.1 L823.6,1062.7 L826.2,1061.3 L828.8,1059.8 L831.5,1058.3 L834.1,1056.9 L836.7,1055.4 L839.3,1053.9 L841.9,1052.4 L844.5,1050.8 L847.0,1049.3 L849.6,1047.7 L852.2,1046.2 L854.7,1044.6 L857.3,1042.9 L859.8,1041.3 L862.3,1039.6 L864.8,1037.9 L867.2,1036.2 L869.7,1034.5 L872.1,1032.7 L874.6,1031.0 L877.0,1029.2 L879.4,1027.4 L881.8,1025.6 L884.2,1023.8 L886.6,1022.0 L889.0,1020.1 L891.4,1018.3 L893.7,1016.5 L896.1,1014.6 L898.5,1012.8 L900.8,1010.9 L903.2,1009.1 L905.6,1007.2 L907.9,1005.3 L910.2,1003.3 L912.5,1001.3 L914.7,999.3 L916.9,997.2 L919.1,995.1 L921.2,993.0 L923.3,990.9 L925.5,988.7 L927.5,986.5 L929.6,984.4 L931.7,982.2 L933.7,980.0 L935.8,977.8 L937.8,975.5 L939.8,973.3 L941.8,971.1 L943.8,968.8 L945.8,966.6 L947.8,964.4 L949.8,962.1 L951.8,959.9 L953.8,957.6 L955.8,955.4 L957.8,953.2 L959.8,950.9 L961.8,948.7 L963.8,946.5 L965.8,944.2 L967.8,942.0 L969.8,939.8 L971.8,937.5 L973.8,935.2 L975.8,933.0 L977.7,930.7 L979.7,928.5 L981.7,926.2 L983.7,923.9 L985.6,921.7 L987.6,919.4 L989.6,917.1 L991.5,914.9 L993.5,912.6 L995.4,910.3 L997.4,908.0 L999.3,905.8 L1001.3,903.5 L1003.2,901.2 L1005.2,898.8 L1007.1,896.5 L1009.0,894.2 L1010.9,891.9 L1012.8,889.6 L1014.7,887.3 L1016.6,885.0 L1018.6,882.8 L1020.6,880.6 L1022.7,878.5 L1024.7,876.3 L1026.8,874.1 L1028.9,872.0 L1031.0,869.8 L1033.1,867.7 L1035.2,865.6 L1037.3,863.5 L1039.5,861.5 L1041.7,859.5 L1044.0,857.6 L1046.3,855.7 L1048.6,854.0 L1051.1,852.3 L1053.5,850.6 L1056.0,849.0 L1058.6,847.5 L1061.2,846.1 L1063.9,845.0 L1066.8,844.1 L1069.6,843.2 L1072.5,842.5 L1075.5,842.3 L1078.5,842.6 L1081.4,843.4 L1084.3,844.4 L1087.1,845.5 L1089.8,847.1 L1092.3,848.9 L1094.6,850.9 L1096.9,853.0 L1099.0,855.2 L1101.1,857.5 L1103.0,859.9 L1104.9,862.3 L1106.6,864.8 L1108.4,867.3 L1110.0,869.8 L1111.7,872.4 L1113.2,875.1 L1114.7,877.7 L1116.1,880.4 L1117.5,883.2 L1118.9,885.9 L1120.1,888.6 L1121.4,891.4 L1122.6,894.2 L1123.9,896.9 L1125.1,899.7 L1126.2,902.5 L1127.4,905.3 L1128.5,908.2 L1129.5,911.0 L1130.6,913.9 L1131.6,916.7 L1132.6,919.6 L1133.6,922.5 L1134.6,925.3 L1135.5,928.2 L1136.4,931.1 L1137.4,933.9 L1138.3,936.8 L1139.2,939.7 L1140.0,942.6 L1140.9,945.5 L1141.7,948.4 L1142.6,951.3 L1143.4,954.3 L1144.2,957.2 L1145.0,960.1 L1145.8,963.0 L1146.5,965.9 L1147.3,968.8 L1148.1,971.7 L1148.8,974.6 L1149.6,977.5 L1150.4,980.4 L1151.1,983.3 L1151.9,986.3 L1152.6,989.2 L1153.4,992.1 L1154.1,995.0 L1154.8,997.9 L1155.5,1000.9 L1156.3,1003.8 L1157.0,1006.7 L1157.7,1009.6 L1158.4,1012.5 L1159.1,1015.4 L1159.8,1018.3 L1160.6,1021.2 L1161.3,1024.2 L1162.0,1027.1 L1162.7,1030.0 L1163.5,1032.9 L1164.2,1035.8 L1164.9,1038.7 L1165.6,1041.6 L1166.4,1044.5 L1167.1,1047.4 L1167.8,1050.4 L1168.5,1053.3 L1169.3,1056.2 L1170.0,1059.1 L1170.7,1062.0 L1171.4,1064.9 L1172.2,1067.9 L1172.9,1070.8 L1173.6,1073.7 L1174.3,1076.6 L1175.0,1079.5 L1175.7,1082.4 L1176.4,1085.3 L1177.1,1088.2 L1177.9,1091.1 L1178.6,1094.0 L1179.4,1096.8 L1180.2,1099.6 L1181.0,1102.5 L1181.8,1105.3 L1182.7,1108.2 L1183.5,1111.1 L1184.4,1113.9 L1185.3,1116.7 L1186.2,1119.5 L1187.2,1122.3 L1188.2,1125.1 L1189.2,1127.8 L1190.3,1130.4 L1191.5,1133.1 L1192.8,1135.8 L1194.1,1138.4 L1195.5,1141.0 L1196.9,1143.5 L1198.5,1145.9 L1200.2,1148.1 L1202.2,1150.2 L1204.3,1152.2 L1206.5,1154.1 L1208.8,1155.9 L1211.3,1157.5 L1213.9,1158.8 L1216.6,1160.1 L1219.3,1161.3 L1222.1,1162.4 L1224.9,1163.3 L1227.8,1164.1 L1230.7,1164.7 L1233.6,1165.2 L1236.6,1165.7 L1239.6,1166.1 L1242.5,1166.5 L1245.5,1166.9 L1248.5,1167.2 L1251.5,1167.5 L1254.5,1167.8 L1257.4,1168.0 L1260.4,1168.2 L1263.4,1168.4 L1266.4,1168.6 L1269.4,1168.7 L1272.4,1168.9 L1275.4,1169.0 L1278.4,1169.1 L1281.4,1169.2 L1284.4,1169.4 L1287.4,1169.5 L1290.4,1169.6 L1293.4,1169.7 L1296.4,1169.7 L1299.4,1169.8 L1302.4,1169.9 L1305.4,1170.0 L1308.4,1170.1 L1311.4,1170.2 L1314.4,1170.2 L1317.4,1170.3 L1320.4,1170.4 L1323.4,1170.4 L1326.4,1170.5 L1329.4,1170.6 L1332.4,1170.7 L1335.4,1170.7 L1338.4,1170.8 L1341.4,1170.8 L1344.4,1170.9 L1347.4,1171.0 L1350.4,1171.0 L1353.4,1171.1 L1356.4,1171.1 L1359.4,1171.2 L1362.4,1171.2 L1365.4,1171.3 L1368.4,1171.3 L1371.4,1171.4 L1374.4,1171.4 L1377.4,1171.5 L1380.4,1171.5 L1383.4,1171.6 L1386.4,1171.6 L1389.4,1171.7 L1392.4,1171.7 L1395.4,1171.7 L1398.4,1171.8 L1401.4,1171.8 L1404.4,1171.9 L1407.4,1171.9 L1410.4,1172.0 L1413.4,1172.0 L1416.4,1172.1 L1419.4,1172.1 L1422.4,1172.1 L1425.4,1172.2 L1428.4,1172.2 L1431.4,1172.3 L1434.4,1172.3 L1437.4,1172.4 L1440.4,1172.4 L1443.4,1172.5 L1446.4,1172.6 L1449.4,1172.6 L1452.4,1172.7 L1455.4,1172.7 L1458.4,1172.8 L1461.4,1172.9 L1464.4,1172.9 L1467.4,1173.0 L1470.4,1173.1 L1473.4,1173.2 L1476.4,1173.2 L1479.4,1173.3 L1482.4,1173.4 L1485.4,1173.5 L1488.4,1173.6 L1491.4,1173.7 L1494.4,1173.8 L1497.4,1173.9 L1500.4,1174.0 L1503.4,1174.1 L1506.3,1174.2 L1509.3,1174.3 L1512.3,1174.5 L1515.3,1174.6 L1518.3,1174.7 L1521.3,1174.8 L1524.3,1174.9 L1527.3,1175.1 L1530.3,1175.2 L1533.3,1175.3 L1536.3,1175.4 L1539.3,1175.5 L1542.3,1175.7 L1545.3,1175.8 L1548.3,1175.9 L1551.3,1176.0 L1554.3,1176.2 L1557.3,1176.3 L1560.3,1176.4 L1563.3,1176.5 L1566.3,1176.7 L1569.3,1176.8 L1572.3,1176.9 L1575.3,1177.0 L1578.3,1177.2 L1581.3,1177.3 L1584.3,1177.4 L1587.3,1177.5 L1590.3,1177.6 L1593.3,1177.7 L1596.3,1177.8 L1599.3,1177.9 L1602.3,1178.0 L1605.3,1178.1 L1608.3,1178.2 L1611.3,1178.3 L1614.3,1178.4 L1617.3,1178.5 L1620.3,1178.6 L1623.3,1178.7 L1626.3,1178.8 L1629.3,1178.9 L1632.3,1179.0 L1635.3,1179.1 L1638.3,1179.1 L1641.3,1179.2 L1644.3,1179.3 L1647.3,1179.4 L1650.2,1179.5 L1653.2,1179.6 L1656.2,1179.7 L1659.2,1179.8 L1662.2,1179.9 L1665.2,1180.0 L1668.2,1180.1 L1671.2,1180.2 L1674.2,1180.3 L1677.2,1180.4 L1680.2,1180.5 L1683.2,1180.5 L1686.2,1180.6 L1689.2,1180.7 L1692.2,1180.8 L1695.2,1180.9 L1698.2,1180.9 L1701.2,1181.0 L1704.2,1181.1 L1707.2,1181.1 L1710.2,1181.2 L1713.2,1181.2 L1716.2,1181.3 L1719.2,1181.3 L1722.2,1181.4 L1725.2,1181.4 L1728.2,1181.4 L1731.2,1181.5 L1734.2,1181.5 L1737.2,1181.5 L1740.2,1181.5 L1743.2,1181.5 L1746.2,1181.5 L1749.2,1181.5 L1752.2,1181.5 L1755.2,1181.5 L1758.2,1181.4 L1761.2,1181.4 L1764.2,1181.4 L1767.2,1181.4 L1770.2,1181.3 L1773.2,1181.3 L1776.2,1181.2 L1779.2,1181.2 L1782.2,1181.1 L1785.2,1181.1 L1788.2,1181.0 L1791.2,1181.0 L1794.2,1180.9 L1797.2,1180.8 L1800.2,1180.8 L1803.2,1180.7 L1806.2,1180.6 L1809.2,1180.6 L1812.2,1180.5 L1815.2,1180.4 L1818.2,1180.3 L1821.2,1180.2 L1824.2,1180.1 L1827.2,1180.0 L1830.2,1180.0 L1833.2,1179.9 L1836.2,1179.8 L1839.2,1179.7 L1842.2,1179.6 L1845.2,1179.5 L1848.2,1179.4 L1851.2,1179.3 L1854.2,1179.2 L1857.2,1179.1 L1860.2,1179.0 L1863.2,1178.9 L1866.2,1178.8 L1869.2,1178.7 L1872.2,1178.6 L1875.2,1178.5 L1878.2,1178.4 L1881.2,1178.2 L1884.2,1178.1 L1887.2,1178.0 L1890.2,1177.9 L1893.2,1177.8 L1896.2,1177.7 L1899.2,1177.6 L1902.2,1177.5 L1905.2,1177.4 L1908.2,1177.3 L1911.2,1177.2 L1914.2,1177.1 L1917.2,1177.0 L1920.2,1176.9 L1923.2,1176.8 L1926.2,1176.7 L1929.2,1176.6 L1932.1,1176.5 L1935.1,1176.4 L1938.1,1176.3 L1941.1,1176.2 L1944.1,1176.1 L1947.1,1176.0 L1950.1,1175.9 L1953.1,1175.8 L1956.1,1175.7 L1959.1,1175.5 L1962.1,1175.4 L1965.1,1175.3 L1968.1,1175.2 L1971.1,1175.1 L1974.1,1175.0 L1977.1,1174.8 L1980.1,1174.7 L1983.1,1174.6 L1986.1,1174.5 L1989.1,1174.3 L1992.1,1174.2 L1995.1,1174.1 L1998.1,1174.0 L2001.1,1173.8 L2004.1,1173.7 L2007.1,1173.6 L2010.1,1173.4 L2013.1,1173.3 L2016.1,1173.2 L2019.1,1173.0 L2022.1,1172.9 L2025.1,1172.8 L2028.1,1172.6 L2031.1,1172.5 L2034.1,1172.3 L2037.1,1172.2 L2040.1,1172.1 L2043.1,1171.9 L2046.1,1171.8 L2049.0,1171.6 L2052.0,1171.5"/>
</g>
<rect class="ax" x="302.5" y="60" width="1750.0" height="1187" stroke-width="6"/>
<line x1="462.3" y1="1247.0" x2="462.3" y2="1223.0" stroke="#424242" stroke-width="5.2"/>
<line x1="462.3" y1="60.0" x2="462.3" y2="84.0" stroke="#424242" stroke-width="5.2"/>
<line x1="621.4" y1="1247.0" x2="621.4" y2="1235.0" stroke="#424242" stroke-width="5.2"/>
<line x1="621.4" y1="60.0" x2="621.4" y2="72.0" stroke="#424242" stroke-width="5.2"/>
<line x1="780.5" y1="1247.0" x2="780.5" y2="1223.0" stroke="#424242" stroke-width="5.2"/>
<line x1="780.5" y1="60.0" x2="780.5" y2="84.0" stroke="#424242" stroke-width="5.2"/>
<line x1="939.5" y1="1247.0" x2="939.5" y2="1235.0" stroke="#424242" stroke-width="5.2"/>
<line x1="939.5" y1="60.0" x2="939.5" y2="72.0" stroke="#424242" stroke-width="5.2"/>
<line x1="1098.6" y1="1247.0" x2="1098.6" y2="1223.0" stroke="#424242" stroke-width="5.2"/>
<line x1="1098.6" y1="60.0" x2="1098.6" y2="84.0" stroke="#424242" stroke-width="5.2"/>
<line x1="1257.7" y1="1247.0" x2="1257.7" y2="1235.0" stroke="#424242" stroke-width="5.2"/>
<line x1="1257.7" y1="60.0" x2="1257.7" y2="72.0" stroke="#424242" stroke-width="5.2"/>
<line x1="1416.8" y1="1247.0" x2="1416.8" y2="1223.0" stroke="#424242" stroke-width="5.2"/>
<line x1="1416.8" y1="60.0" x2="1416.8" y2="84.0" stroke="#424242" stroke-width="5.2"/>
<line x1="1575.8" y1="1247.0" x2="1575.8" y2="1235.0" stroke="#424242" stroke-width="5.2"/>
<line x1="1575.8" y1="60.0" x2="1575.8" y2="72.0" stroke="#424242" stroke-width="5.2"/>
<line x1="1734.9" y1="1247.0" x2="1734.9" y2="1223.0" stroke="#424242" stroke-width="5.2"/>
<line x1="1734.9" y1="60.0" x2="1734.9" y2="84.0" stroke="#424242" stroke-width="5.2"/>
<line x1="1894.0" y1="1247.0" x2="1894.0" y2="1235.0" stroke="#424242" stroke-width="5.2"/>
<line x1="1894.0" y1="60.0" x2="1894.0" y2="72.0" stroke="#424242" stroke-width="5.2"/>
<line x1="302.5" y1="1148.1" x2="314.5" y2="1148.1" stroke="#424242" stroke-width="5.2"/>
<line x1="2052.5" y1="1148.1" x2="2040.5" y2="1148.1" stroke="#424242" stroke-width="5.2"/>
<line x1="302.5" y1="1049.2" x2="326.5" y2="1049.2" stroke="#424242" stroke-width="5.2"/>
<line x1="2052.5" y1="1049.2" x2="2028.5" y2="1049.2" stroke="#424242" stroke-width="5.2"/>
<line x1="302.5" y1="950.2" x2="314.5" y2="950.2" stroke="#424242" stroke-width="5.2"/>
<line x1="2052.5" y1="950.2" x2="2040.5" y2="950.2" stroke="#424242" stroke-width="5.2"/>
<line x1="302.5" y1="851.3" x2="326.5" y2="851.3" stroke="#424242" stroke-width="5.2"/>
<line x1="2052.5" y1="851.3" x2="2028.5" y2="851.3" stroke="#424242" stroke-width="5.2"/>
<line x1="302.5" y1="752.4" x2="314.5" y2="752.4" stroke="#424242" stroke-width="5.2"/>
<line x1="2052.5" y1="752.4" x2="2040.5" y2="752.4" stroke="#424242" stroke-width="5.2"/>
<line x1="302.5" y1="653.5" x2="326.5" y2="653.5" stroke="#424242" stroke-width="5.2"/>
<line x1="2052.5" y1="653.5" x2="2028.5" y2="653.5" stroke="#424242" stroke-width="5.2"/>
<line x1="302.5" y1="554.6" x2="314.5" y2="554.6" stroke="#424242" stroke-width="5.2"/>
<line x1="2052.5" y1="554.6" x2="2040.5" y2="554.6" stroke="#424242" stroke-width="5.2"/>
<line x1="302.5" y1="455.7" x2="326.5" y2="455.7" stroke="#424242" stroke-width="5.2"/>
<line x1="2052.5" y1="455.7" x2="2028.5" y2="455.7" stroke="#424242" stroke-width="5.2"/>
<line x1="302.5" y1="356.8" x2="314.5" y2="356.8" stroke="#424242" stroke-width="5.2"/>
<line x1="2052.5" y1="356.8" x2="2040.5" y2="356.8" stroke="#424242" stroke-width="5.2"/>
<line x1="302.5" y1="257.8" x2="326.5" y2="257.8" stroke="#424242" stroke-width="5.2"/>
<line x1="2052.5" y1="257.8" x2="2028.5" y2="257.8" stroke="#424242" stroke-width="5.2"/>
<line x1="302.5" y1="158.9" x2="314.5" y2="158.9" stroke="#424242" stroke-width="5.2"/>
<line x1="2052.5" y1="158.9" x2="2040.5" y2="158.9" stroke="#424242" stroke-width="5.2"/>
<text transform="translate(277,1267.0) scale(1.1,1)" font-size="62.5" text-anchor="end">0</text>
<text transform="translate(277,1069.2) scale(1.1,1)" font-size="62.5" text-anchor="end">3</text>
<text transform="translate(277,871.3) scale(1.1,1)" font-size="62.5" text-anchor="end">6</text>
<text transform="translate(277,673.5) scale(1.1,1)" font-size="62.5" text-anchor="end">9</text>
<text transform="translate(277,475.7) scale(1.1,1)" font-size="62.5" text-anchor="end">12</text>
<text transform="translate(277,277.8) scale(1.1,1)" font-size="62.5" text-anchor="end">15</text>
<text transform="translate(277,80.0) scale(1.1,1)" font-size="62.5" text-anchor="end">18</text>
<text transform="translate(461.3,1321) scale(1.1,1)" font-size="62.5" text-anchor="middle">0.1</text>
<text transform="translate(779.5,1321) scale(1.1,1)" font-size="62.5" text-anchor="middle">0.2</text>
<text transform="translate(1097.6,1321) scale(1.1,1)" font-size="62.5" text-anchor="middle">0.3</text>
<text transform="translate(1415.8,1321) scale(1.1,1)" font-size="62.5" text-anchor="middle">0.4</text>
<text transform="translate(1733.9,1321) scale(1.1,1)" font-size="62.5" text-anchor="middle">0.5</text>
<text transform="translate(2052.1,1321) scale(1.1,1)" font-size="62.5" text-anchor="middle">0.6</text>
<text class="b" transform="translate(356,172) scale(1.09,1)" font-size="75">(A)</text>
<text transform="translate(774,535) scale(1.10,1)" font-size="63" text-anchor="end">250 ppb</text>
<text transform="translate(775,610.5) scale(1.10,1)" font-size="63" text-anchor="end">5 ppb</text>
<line x1="813.3" y1="662.0" x2="813.3" y2="485.0" stroke="#333" stroke-width="5.2"/>
<polygon points="813.3,459 823.8,491 802.8,491" fill="#0a0a0a"/>
<text class="b" x="704" y="1431" font-size="72" textLength="948" lengthAdjust="spacingAndGlyphs">Potential (V vs. Ag/AgCl)</text>
<text class="b" transform="translate(111.5,1110) rotate(-90)" font-size="76" textLength="832.5" lengthAdjust="spacingAndGlyphs">Current density (µA / cm</text>
<text class="b" transform="translate(79,282.5) rotate(-90)" font-size="71" textLength="43" lengthAdjust="spacingAndGlyphs">2</text>
<text class="b" transform="translate(111.5,240.5) rotate(-90)" font-size="76" textLength="24.5" lengthAdjust="spacingAndGlyphs">)</text>
</g>
<g id="plotB">
<path class="cv" style="stroke-width:5.9" stroke="#141414" d="M446.0,2700.7 L446.8,2697.8 L447.5,2694.8 L448.2,2691.9 L449.0,2689.0 L449.7,2686.1 L450.4,2683.2 L451.1,2680.3 L451.9,2677.4 L452.7,2674.6 L453.5,2671.8 L454.3,2669.0 L455.2,2666.3 L456.2,2663.6 L457.3,2661.1 L458.6,2658.8 L460.3,2657.1 L463.1,2657.0 L466.1,2657.1 L469.1,2657.2 L472.1,2657.3 L475.1,2657.5 L478.1,2657.7 L481.1,2657.9 L484.0,2658.1 L487.0,2658.3 L490.0,2658.4 L493.0,2658.5 L496.0,2658.6 L499.0,2658.7 L502.0,2658.8 L505.0,2658.8 L508.0,2658.9 L511.0,2659.0 L514.0,2659.0 L517.0,2659.1 L520.0,2659.2 L523.0,2659.2 L526.0,2659.3 L529.0,2659.3 L532.0,2659.3 L535.0,2659.4 L538.0,2659.4 L541.0,2659.4 L544.0,2659.4 L547.0,2659.4 L550.0,2659.3 L553.0,2659.3 L556.0,2659.1 L559.0,2659.0 L562.0,2658.8 L565.0,2658.6 L568.0,2658.3 L571.0,2658.1 L574.0,2657.8 L577.0,2657.5 L579.9,2657.2 L582.9,2656.9 L585.9,2656.6 L588.9,2656.3 L591.9,2656.0 L594.9,2655.7 L597.9,2655.3 L600.8,2655.0 L603.8,2654.6 L606.8,2654.1 L609.7,2653.7 L612.7,2653.2 L615.7,2652.7 L618.6,2652.2 L621.6,2651.6 L624.5,2651.1 L627.5,2650.5 L630.4,2649.9 L633.4,2649.3 L636.3,2648.7 L639.2,2648.0 L642.1,2647.2 L645.0,2646.5 L647.9,2645.7 L650.8,2644.9 L653.7,2644.1 L656.6,2643.4 L659.5,2642.6 L662.4,2641.9 L665.3,2641.2 L668.3,2640.5 L671.2,2639.8 L674.1,2639.1 L677.0,2638.4 L679.9,2637.6 L682.8,2636.8 L685.7,2636.0 L688.6,2635.2 L691.5,2634.2 L694.3,2633.3 L697.2,2632.4 L700.0,2631.5 L702.9,2630.6 L705.8,2629.8 L708.7,2629.1 L711.6,2628.5 L714.5,2627.9 L717.5,2627.3 L720.4,2626.8 L723.4,2626.3 L726.3,2625.7 L729.3,2625.2 L732.3,2624.7 L735.2,2624.2 L738.2,2623.7 L741.1,2623.1 L744.1,2622.6 L747.0,2622.1 L750.0,2621.7 L753.0,2621.4 L755.9,2621.0 L758.9,2620.7 L761.9,2620.4 L764.9,2620.3 L767.9,2620.5 L770.8,2621.5 L773.6,2622.6 L776.4,2623.5 L779.4,2624.0 L782.3,2624.4 L785.3,2624.8 L788.3,2625.1 L791.3,2625.4 L794.2,2625.7 L797.2,2626.0 L800.2,2626.2 L803.2,2626.5 L806.2,2626.8 L809.2,2627.2 L812.1,2627.6 L815.1,2628.2 L818.0,2628.9 L820.9,2629.9 L823.6,2631.6 L826.0,2633.5 L828.4,2635.6 L830.5,2637.9 L832.5,2640.0 L834.6,2641.9 L837.0,2643.7 L839.4,2645.4 L841.9,2646.8 L844.6,2647.9 L847.4,2648.9 L850.2,2649.8 L853.1,2650.7 L856.0,2651.3 L858.9,2652.2 L861.7,2654.4 L863.5,2657.2 L865.0,2659.8 L866.6,2662.9 L867.8,2665.6 L869.0,2668.0 L870.6,2669.3 L873.6,2665.2 L874.9,2662.5 L876.3,2660.3 L878.3,2658.2 L880.4,2656.2 L882.8,2655.2 L885.7,2654.7 L888.7,2654.5 L891.7,2654.5 L894.7,2654.7 L897.7,2655.1 L900.6,2655.5 L903.6,2656.0 L906.6,2656.5 L909.5,2657.0 L912.5,2657.4 L915.5,2657.7 L918.5,2658.0 L921.4,2658.4 L924.4,2658.7 L927.4,2659.0 L930.4,2659.3 L933.4,2659.6 L936.4,2659.9 L939.3,2660.2 L942.3,2660.5 L945.3,2660.8 L948.3,2661.0 L951.3,2661.3 L954.3,2661.5 L957.3,2661.8 L960.3,2662.0 L963.3,2662.2 L966.3,2662.4 L969.2,2662.6 L972.2,2662.8 L975.2,2663.0 L978.2,2663.2 L981.2,2663.3 L984.2,2663.5 L987.2,2663.7 L990.2,2663.9 L993.2,2664.0 L996.2,2664.2 L999.2,2664.4 L1002.2,2664.5 L1005.2,2664.7 L1008.2,2664.9 L1011.2,2665.1 L1014.2,2665.2 L1017.2,2665.4 L1020.2,2665.6 L1023.2,2665.8 L1026.1,2665.9 L1029.1,2666.1 L1032.1,2666.3 L1035.1,2666.5 L1038.1,2666.6 L1041.1,2666.8 L1044.1,2667.0 L1047.1,2667.1 L1050.1,2667.3 L1053.1,2667.5 L1056.1,2667.6 L1059.1,2667.8 L1062.1,2668.0 L1065.1,2668.1 L1068.1,2668.3 L1071.1,2668.5 L1074.1,2668.6 L1077.1,2668.8 L1080.1,2669.0 L1083.1,2669.1 L1086.1,2669.3 L1089.0,2669.5 L1092.0,2669.7 L1095.0,2669.8 L1098.0,2670.0 L1101.0,2670.2 L1104.0,2670.3 L1107.0,2670.5 L1110.0,2670.7 L1113.0,2670.9 L1116.0,2671.0 L1119.0,2671.2 L1122.0,2671.4 L1125.0,2671.5 L1128.0,2671.7 L1131.0,2671.8 L1134.0,2672.0 L1137.0,2672.2 L1140.0,2672.3 L1143.0,2672.5 L1146.0,2672.6 L1149.0,2672.7 L1152.0,2672.9 L1154.9,2673.0 L1157.9,2673.2 L1160.9,2673.3 L1163.9,2673.4 L1166.9,2673.6 L1169.9,2673.7 L1172.9,2673.8 L1175.9,2674.0 L1178.9,2674.1 L1181.9,2674.2 L1184.9,2674.4 L1187.9,2674.5 L1190.9,2674.6 L1193.9,2674.7 L1196.9,2674.9 L1199.9,2675.0 L1202.9,2675.1 L1205.9,2675.2 L1208.9,2675.3 L1211.9,2675.4 L1214.9,2675.6 L1217.9,2675.7 L1220.9,2675.8 L1223.9,2675.9 L1226.9,2676.0 L1229.9,2676.2 L1232.9,2676.3 L1235.9,2676.4 L1238.9,2676.5 L1241.9,2676.6 L1244.9,2676.7 L1247.9,2676.8 L1250.9,2677.0 L1253.9,2677.1 L1256.9,2677.2 L1259.9,2677.3 L1262.9,2677.4 L1265.9,2677.6 L1268.9,2677.7 L1271.9,2677.8 L1274.8,2677.9 L1277.8,2678.0 L1280.8,2678.2 L1283.8,2678.3 L1286.8,2678.4 L1289.8,2678.5 L1292.8,2678.7 L1295.8,2678.8 L1298.8,2678.9 L1301.8,2679.0 L1304.8,2679.2 L1307.8,2679.3 L1310.8,2679.4 L1313.8,2679.6 L1316.8,2679.7 L1319.8,2679.8 L1322.8,2680.0 L1325.8,2680.1 L1328.8,2680.3 L1331.8,2680.4 L1334.8,2680.5 L1337.8,2680.7 L1340.8,2680.8 L1343.8,2680.9 L1346.8,2681.1 L1349.8,2681.2 L1352.8,2681.4 L1355.8,2681.5 L1358.8,2681.6 L1361.8,2681.8 L1364.8,2681.9 L1367.8,2682.1 L1370.8,2682.2 L1373.8,2682.3 L1376.7,2682.5 L1379.7,2682.6 L1382.7,2682.8 L1385.7,2682.9 L1388.7,2683.1 L1391.7,2683.2 L1394.7,2683.3 L1397.7,2683.5 L1400.7,2683.6 L1403.7,2683.8 L1406.7,2683.9 L1409.7,2684.0 L1412.7,2684.2 L1415.7,2684.3 L1418.7,2684.5 L1421.7,2684.6 L1424.7,2684.8 L1427.7,2684.9 L1430.7,2685.0 L1433.7,2685.2 L1436.7,2685.3 L1439.7,2685.5 L1442.7,2685.6 L1445.7,2685.8 L1448.7,2685.9 L1451.7,2686.0 L1454.7,2686.2 L1457.7,2686.3 L1460.7,2686.5 L1463.6,2686.6 L1466.6,2686.8 L1469.6,2686.9 L1472.6,2687.1 L1475.6,2687.3 L1478.6,2687.4 L1481.6,2687.6 L1484.6,2687.8 L1487.6,2687.9 L1490.6,2688.1 L1493.6,2688.3 L1496.6,2688.4 L1499.6,2688.6 L1502.6,2688.8 L1505.6,2688.9 L1508.6,2689.1 L1511.6,2689.3 L1514.6,2689.4 L1517.6,2689.6 L1520.6,2689.8 L1523.6,2689.9 L1526.6,2690.1 L1529.5,2690.3 L1532.5,2690.4 L1535.5,2690.6 L1538.5,2690.7 L1541.5,2690.9 L1544.5,2691.0 L1547.5,2691.2 L1550.5,2691.3 L1553.5,2691.5 L1556.5,2691.6 L1559.5,2691.7 L1562.5,2691.9 L1565.5,2692.0 L1568.5,2692.1 L1571.5,2692.2 L1574.5,2692.3 L1577.5,2692.4 L1580.5,2692.5 L1583.5,2692.6 L1586.5,2692.7 L1589.5,2692.8 L1592.5,2692.8 L1595.5,2692.9 L1598.5,2693.0 L1601.5,2693.0 L1604.5,2693.1 L1607.5,2693.1 L1610.5,2693.2 L1613.5,2693.2 L1616.5,2693.3 L1619.5,2693.3 L1622.5,2693.4 L1625.5,2693.4 L1628.5,2693.5 L1631.5,2693.5 L1634.5,2693.6 L1637.5,2693.6 L1640.5,2693.6 L1643.5,2693.7 L1646.5,2693.7 L1649.5,2693.8 L1652.5,2693.8 L1655.5,2693.9 L1658.5,2693.9 L1661.5,2693.9 L1664.5,2694.0 L1667.5,2694.0 L1670.5,2694.0 L1673.5,2694.1 L1676.5,2694.1 L1679.5,2694.1 L1682.5,2694.2 L1685.5,2694.2 L1688.5,2694.2 L1691.5,2694.3 L1694.5,2694.3 L1697.5,2694.3 L1700.5,2694.3 L1703.5,2694.4 L1706.5,2694.4 L1709.5,2694.4 L1712.5,2694.4 L1715.5,2694.4 L1718.5,2694.4 L1721.5,2694.5 L1724.5,2694.5 L1727.5,2694.5 L1730.5,2694.5 L1733.5,2694.5 L1736.5,2694.5 L1739.5,2694.5 L1742.5,2694.5 L1745.5,2694.5 L1748.5,2694.5 L1751.5,2694.4 L1754.5,2694.3 L1757.5,2694.2 L1760.5,2694.1 L1763.5,2694.0 L1766.5,2693.8 L1769.5,2693.7 L1772.5,2693.5 L1775.5,2693.3 L1778.4,2693.1 L1781.4,2692.9 L1784.4,2692.7 L1787.4,2692.5 L1790.4,2692.3 L1793.4,2692.1 L1796.4,2691.9 L1799.4,2691.7 L1802.4,2691.5 L1805.4,2691.3 L1808.4,2691.1 L1811.4,2690.9 L1814.4,2690.7 L1817.4,2690.5 L1820.4,2690.4 L1823.4,2690.2 L1826.3,2690.0 L1829.3,2689.9 L1832.3,2689.7 L1835.3,2689.5 L1838.3,2689.4 L1841.3,2689.2 L1844.3,2689.0 L1847.3,2688.9 L1850.3,2688.7 L1853.3,2688.5 L1856.3,2688.3 L1859.3,2688.2 L1862.3,2688.0 L1865.3,2687.9 L1868.3,2687.7 L1871.3,2687.5 L1874.3,2687.4 L1877.3,2687.2 L1880.3,2687.1 L1883.3,2686.9 L1886.3,2686.8 L1889.3,2686.7 L1892.3,2686.5 L1895.3,2686.4 L1898.2,2686.3 L1901.2,2686.2 L1904.2,2686.0 L1907.2,2685.9 L1910.2,2685.8 L1913.2,2685.7 L1916.2,2685.6 L1919.2,2685.5 L1922.2,2685.4 L1925.2,2685.3 L1928.2,2685.1 L1931.2,2685.0 L1934.2,2684.9 L1937.2,2684.9 L1940.2,2684.8 L1943.2,2684.7 L1946.2,2684.6 L1949.0,2684.5"/>
<path class="cv" style="stroke-width:7.0" stroke="#ff1a1a" d="M445.0,2693.0 L445.7,2690.0 L446.3,2687.1 L447.0,2684.1 L447.6,2681.2 L448.3,2678.3 L448.9,2675.3 L449.5,2672.4 L450.2,2669.5 L450.9,2666.6 L451.5,2663.8 L452.2,2660.9 L453.0,2658.1 L453.7,2655.3 L454.6,2652.5 L455.5,2649.8 L456.5,2647.3 L457.7,2644.9 L459.3,2643.2 L461.9,2643.0 L464.9,2643.1 L467.9,2643.2 L470.9,2643.3 L473.9,2643.5 L476.9,2643.7 L479.9,2643.8 L482.9,2644.0 L485.9,2644.2 L488.9,2644.3 L491.9,2644.4 L494.9,2644.4 L497.9,2644.4 L500.9,2644.4 L503.9,2644.4 L506.9,2644.4 L509.9,2644.4 L512.9,2644.4 L515.9,2644.4 L518.9,2644.4 L521.9,2644.4 L524.9,2644.4 L527.9,2644.4 L530.9,2644.4 L533.9,2644.4 L536.9,2644.4 L539.9,2644.4 L542.9,2644.4 L545.9,2644.4 L548.9,2644.3 L551.9,2644.2 L554.9,2644.1 L557.9,2643.9 L560.9,2643.6 L563.8,2643.3 L566.8,2643.0 L569.8,2642.6 L572.8,2642.2 L575.8,2641.8 L578.7,2641.4 L581.7,2641.0 L584.7,2640.6 L587.6,2640.1 L590.6,2639.7 L593.6,2639.3 L596.5,2638.8 L599.5,2638.4 L602.5,2637.9 L605.4,2637.4 L608.4,2636.9 L611.4,2636.4 L614.3,2635.8 L617.2,2635.2 L620.2,2634.6 L623.1,2634.0 L626.1,2633.4 L629.0,2632.7 L631.9,2632.1 L634.8,2631.4 L637.7,2630.6 L640.7,2629.9 L643.6,2629.1 L646.4,2628.3 L649.3,2627.4 L652.2,2626.6 L655.1,2625.7 L657.9,2624.7 L660.8,2623.8 L663.6,2622.9 L666.5,2621.9 L669.3,2620.9 L672.2,2620.0 L675.0,2618.9 L677.8,2617.8 L680.6,2616.7 L683.4,2615.6 L686.1,2614.4 L688.9,2613.3 L691.7,2612.1 L694.5,2611.0 L697.2,2609.9 L700.0,2608.8 L702.8,2607.7 L705.6,2606.7 L708.4,2605.6 L711.2,2604.5 L714.0,2603.4 L716.8,2602.2 L719.6,2601.1 L722.3,2599.8 L725.0,2598.5 L727.7,2597.1 L730.4,2595.7 L733.0,2594.3 L735.7,2592.8 L738.3,2591.4 L740.9,2590.0 L743.6,2588.6 L746.3,2587.3 L748.9,2585.9 L751.6,2584.4 L754.2,2582.9 L756.7,2581.2 L759.2,2579.5 L761.7,2577.7 L764.0,2575.8 L766.4,2573.9 L768.6,2571.9 L770.9,2569.9 L773.1,2567.8 L775.2,2565.6 L777.3,2563.4 L779.3,2561.1 L781.4,2559.0 L783.4,2556.9 L785.6,2554.8 L787.7,2552.7 L789.9,2550.7 L792.1,2548.9 L794.6,2547.2 L797.1,2546.0 L799.9,2545.3 L802.9,2548.4 L804.3,2551.4 L805.5,2554.1 L806.7,2556.8 L808.0,2559.6 L809.3,2562.5 L810.4,2565.4 L811.4,2568.5 L812.2,2571.6 L812.9,2574.9 L813.5,2578.0 L814.1,2580.9 L814.6,2583.8 L815.1,2586.7 L815.7,2589.7 L816.3,2592.6 L816.9,2595.5 L817.5,2598.4 L818.1,2601.1 L818.8,2603.9 L819.6,2606.7 L820.4,2609.5 L821.3,2612.2 L822.3,2614.9 L823.3,2617.6 L824.5,2620.3 L825.7,2622.9 L827.0,2625.5 L828.4,2628.0 L829.9,2630.6 L831.4,2633.0 L833.0,2635.2 L835.1,2637.1 L837.4,2638.8 L839.8,2640.3 L842.5,2641.3 L845.4,2642.1 L848.3,2642.7 L851.3,2643.2 L854.2,2643.7 L857.2,2644.2 L860.2,2644.7 L863.1,2645.1 L866.1,2645.5 L869.1,2645.8 L872.0,2646.2 L875.0,2646.4 L878.0,2646.6 L881.0,2646.9 L884.0,2647.3 L887.0,2648.0 L889.6,2650.8 L891.3,2653.3 L892.9,2655.7 L894.7,2658.5 L896.1,2661.2 L897.6,2663.5 L899.4,2665.2 L902.2,2663.8 L904.0,2660.9 L905.5,2658.2 L907.0,2655.9 L908.8,2653.8 L910.8,2651.8 L913.1,2650.9 L916.1,2651.0 L919.0,2651.2 L922.0,2651.5 L925.0,2651.8 L928.0,2652.2 L931.0,2652.5 L934.0,2652.8 L936.9,2653.1 L939.9,2653.4 L942.9,2653.7 L945.9,2654.0 L948.9,2654.4 L951.9,2654.7 L954.8,2655.0 L957.8,2655.3 L960.8,2655.6 L963.8,2655.9 L966.8,2656.2 L969.8,2656.5 L972.8,2656.7 L975.8,2657.0 L978.7,2657.2 L981.7,2657.5 L984.7,2657.7 L987.7,2657.9 L990.7,2658.2 L993.7,2658.4 L996.7,2658.6 L999.7,2658.8 L1002.7,2659.1 L1005.7,2659.3 L1008.7,2659.5 L1011.6,2659.7 L1014.6,2659.9 L1017.6,2660.1 L1020.6,2660.3 L1023.6,2660.5 L1026.6,2660.7 L1029.6,2660.9 L1032.6,2661.1 L1035.6,2661.3 L1038.6,2661.5 L1041.6,2661.7 L1044.6,2661.9 L1047.6,2662.1 L1050.6,2662.3 L1053.6,2662.4 L1056.6,2662.6 L1059.5,2662.8 L1062.5,2663.0 L1065.5,2663.1 L1068.5,2663.3 L1071.5,2663.5 L1074.5,2663.7 L1077.5,2663.8 L1080.5,2664.0 L1083.5,2664.1 L1086.5,2664.3 L1089.5,2664.4 L1092.5,2664.6 L1095.5,2664.8 L1098.5,2664.9 L1101.5,2665.1 L1104.5,2665.2 L1107.5,2665.3 L1110.5,2665.5 L1113.5,2665.6 L1116.5,2665.8 L1119.5,2665.9 L1122.5,2666.1 L1125.5,2666.2 L1128.5,2666.4 L1131.4,2666.5 L1134.4,2666.7 L1137.4,2666.8 L1140.4,2667.0 L1143.4,2667.1 L1146.4,2667.3 L1149.4,2667.5 L1152.4,2667.6 L1155.4,2667.8 L1158.4,2668.0 L1161.4,2668.1 L1164.4,2668.3 L1167.4,2668.5 L1170.4,2668.7 L1173.4,2668.8 L1176.4,2669.0 L1179.4,2669.2 L1182.4,2669.4 L1185.4,2669.5 L1188.4,2669.7 L1191.4,2669.9 L1194.3,2670.1 L1197.3,2670.3 L1200.3,2670.5 L1203.3,2670.6 L1206.3,2670.8 L1209.3,2671.0 L1212.3,2671.2 L1215.3,2671.4 L1218.3,2671.6 L1221.3,2671.8 L1224.3,2671.9 L1227.3,2672.1 L1230.3,2672.3 L1233.3,2672.5 L1236.3,2672.7 L1239.3,2672.9 L1242.3,2673.1 L1245.3,2673.2 L1248.2,2673.4 L1251.2,2673.6 L1254.2,2673.8 L1257.2,2674.0 L1260.2,2674.2 L1263.2,2674.3 L1266.2,2674.5 L1269.2,2674.7 L1272.2,2674.9 L1275.2,2675.0 L1278.2,2675.2 L1281.2,2675.4 L1284.2,2675.6 L1287.2,2675.7 L1290.2,2675.9 L1293.2,2676.1 L1296.2,2676.2 L1299.2,2676.4 L1302.2,2676.6 L1305.1,2676.7 L1308.1,2676.9 L1311.1,2677.0 L1314.1,2677.2 L1317.1,2677.3 L1320.1,2677.5 L1323.1,2677.6 L1326.1,2677.8 L1329.1,2677.9 L1332.1,2678.1 L1335.1,2678.2 L1338.1,2678.3 L1341.1,2678.5 L1344.1,2678.6 L1347.1,2678.8 L1350.1,2678.9 L1353.1,2679.0 L1356.1,2679.2 L1359.1,2679.3 L1362.1,2679.4 L1365.1,2679.6 L1368.1,2679.7 L1371.1,2679.8 L1374.1,2680.0 L1377.1,2680.1 L1380.1,2680.2 L1383.1,2680.4 L1386.1,2680.5 L1389.1,2680.6 L1392.1,2680.8 L1395.0,2680.9 L1398.0,2681.1 L1401.0,2681.2 L1404.0,2681.4 L1407.0,2681.5 L1410.0,2681.7 L1413.0,2681.8 L1416.0,2682.0 L1419.0,2682.1 L1422.0,2682.3 L1425.0,2682.4 L1428.0,2682.6 L1431.0,2682.8 L1434.0,2682.9 L1437.0,2683.1 L1440.0,2683.3 L1443.0,2683.5 L1446.0,2683.7 L1449.0,2683.9 L1452.0,2684.1 L1455.0,2684.3 L1457.9,2684.5 L1460.9,2684.7 L1463.9,2685.0 L1466.9,2685.2 L1469.9,2685.5 L1472.9,2685.8 L1475.9,2686.1 L1478.9,2686.4 L1481.9,2686.7 L1484.8,2686.9 L1487.8,2687.2 L1490.8,2687.5 L1493.8,2687.8 L1496.8,2688.1 L1499.8,2688.4 L1502.8,2688.6 L1505.7,2688.9 L1508.7,2689.1 L1511.7,2689.3 L1514.7,2689.5 L1517.7,2689.7 L1520.7,2689.9 L1523.7,2690.1 L1526.7,2690.3 L1529.7,2690.5 L1532.7,2690.7 L1535.7,2690.9 L1538.7,2691.1 L1541.7,2691.3 L1544.7,2691.4 L1547.7,2691.6 L1550.7,2691.8 L1553.6,2691.9 L1556.6,2692.1 L1559.6,2692.3 L1562.6,2692.4 L1565.6,2692.6 L1568.6,2692.7 L1571.6,2692.8 L1574.6,2692.9 L1577.6,2693.1 L1580.6,2693.2 L1583.6,2693.3 L1586.6,2693.4 L1589.6,2693.4 L1592.6,2693.5 L1595.6,2693.6 L1598.6,2693.6 L1601.6,2693.7 L1604.6,2693.8 L1607.6,2693.8 L1610.6,2693.9 L1613.6,2694.0 L1616.6,2694.0 L1619.6,2694.1 L1622.6,2694.1 L1625.6,2694.2 L1628.6,2694.2 L1631.6,2694.3 L1634.6,2694.3 L1637.6,2694.4 L1640.6,2694.4 L1643.6,2694.5 L1646.6,2694.5 L1649.6,2694.5 L1652.6,2694.5 L1655.6,2694.6 L1658.6,2694.6 L1661.6,2694.6 L1664.6,2694.6 L1667.6,2694.6 L1670.6,2694.6 L1673.6,2694.6 L1676.6,2694.6 L1679.6,2694.6 L1682.6,2694.5 L1685.6,2694.5 L1688.6,2694.5 L1691.6,2694.4 L1694.6,2694.4 L1697.6,2694.4 L1700.6,2694.3 L1703.6,2694.3 L1706.6,2694.2 L1709.6,2694.2 L1712.6,2694.1 L1715.6,2694.1 L1718.6,2694.0 L1721.6,2694.0 L1724.6,2693.9 L1727.6,2693.8 L1730.6,2693.8 L1733.6,2693.7 L1736.6,2693.6 L1739.6,2693.6 L1742.6,2693.5 L1745.6,2693.4 L1748.6,2693.3 L1751.6,2693.2 L1754.6,2693.1 L1757.6,2693.0 L1760.6,2692.9 L1763.6,2692.7 L1766.6,2692.6 L1769.6,2692.4 L1772.6,2692.3 L1775.6,2692.1 L1778.6,2692.0 L1781.6,2691.8 L1784.5,2691.6 L1787.5,2691.4 L1790.5,2691.2 L1793.5,2691.1 L1796.5,2690.9 L1799.5,2690.7 L1802.5,2690.5 L1805.5,2690.4 L1808.5,2690.2 L1811.5,2690.0 L1814.5,2689.9 L1817.5,2689.7 L1820.5,2689.6 L1823.5,2689.4 L1826.5,2689.3 L1829.5,2689.1 L1832.5,2689.0 L1835.5,2688.8 L1838.5,2688.6 L1841.5,2688.5 L1844.5,2688.3 L1847.5,2688.2 L1850.5,2688.0 L1853.4,2687.9 L1856.4,2687.7 L1859.4,2687.6 L1862.4,2687.4 L1865.4,2687.3 L1868.4,2687.1 L1871.4,2687.0 L1874.4,2686.8 L1877.4,2686.7 L1880.4,2686.5 L1883.4,2686.4 L1886.4,2686.3 L1889.4,2686.2 L1892.4,2686.0 L1895.4,2685.9 L1898.4,2685.8 L1901.4,2685.7 L1904.4,2685.5 L1907.4,2685.4 L1910.4,2685.3 L1913.4,2685.2 L1916.4,2685.1 L1919.4,2685.0 L1922.4,2684.9 L1925.4,2684.8 L1928.4,2684.7 L1931.4,2684.6 L1934.4,2684.5 L1937.4,2684.4 L1940.4,2684.3 L1943.4,2684.2 L1946.4,2684.1 L1949.0,2684.0"/>
<path class="cv" style="stroke-width:7.0" stroke="#1a1aff" d="M445.0,2670.7 L445.7,2667.8 L446.4,2664.8 L447.2,2661.9 L447.9,2659.0 L448.6,2656.1 L449.3,2653.2 L450.0,2650.3 L450.7,2647.4 L451.5,2644.5 L452.2,2641.7 L453.0,2638.9 L453.8,2636.1 L454.7,2633.3 L455.7,2630.6 L456.7,2628.0 L458.0,2625.6 L459.5,2623.7 L461.8,2623.0 L464.8,2623.2 L467.8,2623.5 L470.7,2623.9 L473.7,2624.4 L476.6,2625.0 L479.6,2625.6 L482.5,2626.2 L485.5,2626.7 L488.4,2627.2 L491.4,2627.5 L494.4,2627.6 L497.4,2627.6 L500.4,2627.6 L503.4,2627.6 L506.4,2627.6 L509.4,2627.6 L512.4,2627.6 L515.4,2627.6 L518.4,2627.6 L521.4,2627.6 L524.4,2627.6 L527.4,2627.6 L530.4,2627.6 L533.4,2627.6 L536.4,2627.6 L539.4,2627.6 L542.4,2627.6 L545.4,2627.6 L548.4,2627.6 L551.4,2627.5 L554.4,2627.4 L557.4,2627.2 L560.4,2627.0 L563.4,2626.7 L566.4,2626.5 L569.3,2626.2 L572.3,2625.8 L575.3,2625.5 L578.3,2625.1 L581.3,2624.8 L584.2,2624.4 L587.2,2624.0 L590.2,2623.6 L593.2,2623.3 L596.2,2622.9 L599.1,2622.5 L602.1,2622.1 L605.1,2621.7 L608.0,2621.2 L611.0,2620.7 L614.0,2620.2 L616.9,2619.6 L619.9,2619.1 L622.8,2618.5 L625.8,2618.0 L628.7,2617.4 L631.6,2616.8 L634.6,2616.2 L637.5,2615.6 L640.5,2615.0 L643.4,2614.4 L646.3,2613.9 L649.3,2613.3 L652.2,2612.7 L655.2,2612.1 L658.1,2611.5 L661.1,2610.9 L664.0,2610.3 L666.9,2609.6 L669.9,2609.0 L672.8,2608.4 L675.7,2607.7 L678.7,2607.1 L681.6,2606.4 L684.5,2605.7 L687.4,2605.0 L690.3,2604.3 L693.3,2603.6 L696.2,2602.9 L699.1,2602.1 L702.0,2601.3 L704.9,2600.5 L707.8,2599.7 L710.6,2598.9 L713.5,2598.0 L716.4,2597.1 L719.3,2596.2 L722.1,2595.3 L725.0,2594.4 L727.8,2593.5 L730.7,2592.5 L733.5,2591.5 L736.3,2590.5 L739.1,2589.4 L741.9,2588.2 L744.6,2586.9 L747.3,2585.5 L750.0,2584.1 L752.6,2582.5 L755.2,2581.0 L757.7,2579.3 L760.2,2577.5 L762.6,2575.7 L765.0,2573.8 L767.3,2571.8 L769.5,2569.8 L771.8,2567.8 L774.0,2565.7 L776.1,2563.5 L778.2,2561.3 L780.2,2559.0 L782.2,2556.7 L784.1,2554.3 L785.9,2551.9 L787.8,2549.5 L789.5,2547.0 L791.2,2544.4 L792.7,2541.7 L794.2,2539.0 L795.6,2536.2 L796.9,2533.4 L798.1,2530.5 L799.2,2527.5 L800.2,2524.5 L801.0,2521.3 L801.8,2518.2 L802.4,2515.1 L802.9,2512.0 L803.5,2509.0 L804.0,2506.1 L804.5,2503.1 L805.0,2500.1 L805.5,2497.1 L806.0,2494.1 L806.4,2491.1 L806.9,2488.1 L807.3,2485.1 L807.7,2482.1 L808.2,2479.1 L808.6,2476.1 L809.0,2473.1 L809.4,2470.1 L809.8,2467.1 L810.2,2464.0 L810.6,2461.0 L810.9,2457.9 L811.2,2454.7 L811.5,2451.6 L811.8,2448.6 L812.1,2445.5 L812.3,2442.5 L812.6,2439.3 L812.8,2436.1 L813.1,2432.9 L813.3,2429.7 L813.6,2426.5 L813.8,2423.4 L814.1,2420.3 L814.3,2417.3 L814.6,2414.4 L814.8,2411.4 L815.1,2408.4 L815.3,2405.4 L815.6,2402.4 L815.9,2399.5 L816.2,2396.5 L816.4,2393.5 L816.7,2390.5 L817.0,2387.6 L817.2,2384.6 L817.5,2381.6 L817.8,2378.6 L818.1,2375.7 L818.4,2372.7 L818.7,2369.8 L819.0,2366.8 L819.3,2363.9 L819.6,2360.9 L819.9,2357.9 L820.3,2355.0 L820.6,2352.0 L820.9,2349.1 L821.3,2346.1 L821.6,2343.2 L822.0,2340.2 L822.3,2337.3 L822.7,2334.3 L823.0,2332.0 L823.0,2332.0 L823.8,2329.1 L824.6,2326.2 L825.4,2323.3 L826.2,2320.4 L827.0,2317.5 L827.8,2314.7 L828.6,2311.8 L829.4,2308.9 L829.5,2308.6 L829.5,2308.6 L832.2,2319.8 L832.6,2322.8 L833.0,2325.9 L833.4,2328.9 L833.8,2331.9 L834.2,2335.4 L834.4,2338.6 L834.7,2341.9 L834.9,2345.4 L835.2,2349.1 L835.4,2352.8 L835.7,2356.6 L835.9,2360.3 L836.2,2363.9 L836.4,2367.3 L836.7,2370.5 L836.9,2373.8 L837.2,2376.9 L837.4,2380.1 L837.7,2383.3 L837.9,2386.4 L838.2,2389.6 L838.4,2392.7 L838.7,2395.9 L838.9,2399.1 L839.2,2402.2 L839.4,2405.5 L839.7,2408.7 L839.9,2412.0 L840.2,2415.4 L840.4,2418.7 L840.7,2422.1 L840.9,2425.5 L841.2,2428.9 L841.4,2432.3 L841.7,2435.8 L841.9,2439.2 L842.2,2442.6 L842.4,2446.0 L842.7,2449.4 L842.9,2452.9 L843.2,2456.3 L843.4,2459.8 L843.7,2463.2 L843.9,2466.5 L844.2,2469.8 L844.4,2473.1 L844.7,2476.3 L844.9,2479.5 L845.2,2482.7 L845.4,2485.9 L845.7,2489.0 L845.9,2492.1 L846.2,2495.2 L846.4,2498.2 L846.7,2501.2 L846.9,2504.1 L847.2,2507.1 L847.4,2510.1 L847.7,2513.1 L848.0,2516.1 L848.2,2519.0 L848.5,2522.0 L848.7,2525.0 L849.0,2527.9 L849.3,2530.8 L849.6,2533.8 L849.9,2536.7 L850.2,2539.7 L850.5,2542.7 L850.8,2545.6 L851.1,2548.6 L851.5,2551.5 L851.8,2554.4 L852.2,2557.4 L852.5,2560.2 L852.9,2563.1 L853.3,2565.9 L853.8,2568.8 L854.3,2571.7 L854.8,2574.6 L855.3,2577.5 L855.9,2580.3 L856.5,2583.2 L857.1,2586.1 L857.7,2589.0 L858.4,2591.8 L859.1,2594.7 L859.8,2597.6 L860.5,2600.4 L861.3,2603.2 L862.1,2606.0 L863.0,2608.8 L863.9,2611.6 L864.8,2614.4 L865.8,2617.2 L866.8,2619.9 L867.9,2622.6 L869.1,2625.2 L870.3,2628.3 L871.4,2630.4 L873.5,2628.5 L874.7,2625.7 L876.0,2624.1 L878.3,2622.4 L880.9,2621.5 L883.9,2622.3 L886.6,2623.8 L889.2,2625.0 L892.0,2626.2 L894.8,2627.4 L897.5,2628.5 L900.3,2629.6 L903.1,2630.7 L905.9,2631.8 L908.7,2632.9 L911.5,2633.9 L914.3,2634.9 L917.2,2635.7 L920.1,2636.4 L923.0,2637.0 L926.0,2637.5 L928.9,2638.0 L931.9,2638.5 L934.8,2638.9 L937.8,2639.3 L940.8,2639.7 L943.8,2640.0 L946.7,2640.4 L949.7,2640.7 L952.7,2641.0 L955.7,2641.3 L958.7,2641.6 L961.7,2641.9 L964.7,2642.2 L967.6,2642.5 L970.6,2642.7 L973.6,2643.0 L976.6,2643.2 L979.6,2643.5 L982.6,2643.7 L985.6,2643.9 L988.6,2644.2 L991.6,2644.4 L994.6,2644.6 L997.5,2644.7 L1000.5,2644.9 L1003.5,2645.1 L1006.5,2645.3 L1009.5,2645.4 L1012.5,2645.6 L1015.5,2645.7 L1018.5,2645.9 L1021.5,2646.0 L1024.5,2646.1 L1027.5,2646.3 L1030.5,2646.4 L1033.5,2646.5 L1036.5,2646.6 L1039.5,2646.7 L1042.5,2646.8 L1045.5,2646.9 L1048.5,2647.0 L1051.5,2647.1 L1054.5,2647.2 L1057.5,2647.3 L1060.5,2647.4 L1063.5,2647.5 L1066.5,2647.6 L1069.5,2647.7 L1072.5,2647.8 L1075.5,2647.9 L1078.5,2648.1 L1081.5,2648.2 L1084.5,2648.4 L1087.5,2648.6 L1090.5,2648.7 L1093.4,2648.9 L1096.4,2649.1 L1099.4,2649.3 L1102.4,2649.5 L1105.4,2649.7 L1108.4,2649.9 L1111.4,2650.1 L1114.4,2650.3 L1117.4,2650.5 L1120.4,2650.8 L1123.4,2651.0 L1126.4,2651.2 L1129.4,2651.4 L1132.4,2651.7 L1135.3,2651.9 L1138.3,2652.1 L1141.3,2652.3 L1144.3,2652.6 L1147.3,2652.8 L1150.3,2653.0 L1153.3,2653.3 L1156.3,2653.5 L1159.3,2653.7 L1162.3,2654.0 L1165.3,2654.2 L1168.2,2654.5 L1171.2,2654.7 L1174.2,2655.0 L1177.2,2655.3 L1180.2,2655.5 L1183.2,2655.8 L1186.2,2656.1 L1189.2,2656.4 L1192.1,2656.6 L1195.1,2656.9 L1198.1,2657.2 L1201.1,2657.5 L1204.1,2657.8 L1207.1,2658.1 L1210.1,2658.4 L1213.1,2658.7 L1216.0,2659.0 L1219.0,2659.3 L1222.0,2659.6 L1225.0,2659.8 L1228.0,2660.1 L1231.0,2660.4 L1233.9,2660.7 L1236.9,2661.0 L1239.9,2661.3 L1242.9,2661.6 L1245.9,2661.9 L1248.9,2662.2 L1251.9,2662.5 L1254.8,2662.8 L1257.8,2663.1 L1260.8,2663.4 L1263.8,2663.7 L1266.8,2664.0 L1269.8,2664.2 L1272.8,2664.5 L1275.7,2664.8 L1278.7,2665.1 L1281.7,2665.4 L1284.7,2665.6 L1287.7,2665.9 L1290.7,2666.1 L1293.7,2666.4 L1296.7,2666.7 L1299.7,2666.9 L1302.6,2667.2 L1305.6,2667.4 L1308.6,2667.6 L1311.6,2667.9 L1314.6,2668.1 L1317.6,2668.4 L1320.6,2668.6 L1323.6,2668.8 L1326.6,2669.1 L1329.6,2669.3 L1332.5,2669.6 L1335.5,2669.8 L1338.5,2670.0 L1341.5,2670.3 L1344.5,2670.5 L1347.5,2670.7 L1350.5,2671.0 L1353.5,2671.2 L1356.5,2671.4 L1359.5,2671.6 L1362.5,2671.9 L1365.5,2672.1 L1368.4,2672.3 L1371.4,2672.5 L1374.4,2672.8 L1377.4,2673.0 L1380.4,2673.2 L1383.4,2673.4 L1386.4,2673.6 L1389.4,2673.9 L1392.4,2674.1 L1395.4,2674.3 L1398.4,2674.5 L1401.4,2674.7 L1404.3,2674.9 L1407.3,2675.1 L1410.3,2675.3 L1413.3,2675.5 L1416.3,2675.7 L1419.3,2675.9 L1422.3,2676.1 L1425.3,2676.3 L1428.3,2676.5 L1431.3,2676.7 L1434.3,2676.9 L1437.3,2677.1 L1440.3,2677.3 L1443.3,2677.5 L1446.3,2677.7 L1449.2,2677.9 L1452.2,2678.1 L1455.2,2678.3 L1458.2,2678.5 L1461.2,2678.6 L1464.2,2678.8 L1467.2,2679.0 L1470.2,2679.2 L1473.2,2679.4 L1476.2,2679.6 L1479.2,2679.8 L1482.2,2680.0 L1485.2,2680.1 L1488.2,2680.3 L1491.2,2680.5 L1494.2,2680.7 L1497.2,2680.9 L1500.1,2681.1 L1503.1,2681.3 L1506.1,2681.4 L1509.1,2681.6 L1512.1,2681.8 L1515.1,2682.0 L1518.1,2682.2 L1521.1,2682.3 L1524.1,2682.5 L1527.1,2682.7 L1530.1,2682.9 L1533.1,2683.0 L1536.1,2683.2 L1539.1,2683.4 L1542.1,2683.5 L1545.1,2683.7 L1548.1,2683.8 L1551.1,2684.0 L1554.1,2684.1 L1557.1,2684.3 L1560.1,2684.4 L1563.1,2684.6 L1566.0,2684.7 L1569.0,2684.8 L1572.0,2685.0 L1575.0,2685.1 L1578.0,2685.2 L1581.0,2685.3 L1584.0,2685.5 L1587.0,2685.6 L1590.0,2685.7 L1593.0,2685.8 L1596.0,2685.9 L1599.0,2686.0 L1602.0,2686.1 L1605.0,2686.2 L1608.0,2686.2 L1611.0,2686.3 L1614.0,2686.4 L1617.0,2686.5 L1620.0,2686.6 L1623.0,2686.7 L1626.0,2686.8 L1629.0,2686.9 L1632.0,2687.0 L1635.0,2687.1 L1638.0,2687.1 L1641.0,2687.2 L1644.0,2687.3 L1647.0,2687.4 L1650.0,2687.5 L1653.0,2687.6 L1656.0,2687.6 L1659.0,2687.7 L1662.0,2687.8 L1665.0,2687.9 L1668.0,2688.0 L1671.0,2688.0 L1674.0,2688.1 L1677.0,2688.2 L1680.0,2688.2 L1683.0,2688.3 L1686.0,2688.4 L1689.0,2688.4 L1692.0,2688.5 L1695.0,2688.5 L1698.0,2688.6 L1701.0,2688.6 L1704.0,2688.7 L1707.0,2688.7 L1710.0,2688.8 L1713.0,2688.8 L1716.0,2688.8 L1719.0,2688.9 L1722.0,2688.9 L1725.0,2688.9 L1728.0,2689.0 L1731.0,2689.0 L1734.0,2689.0 L1737.0,2689.0 L1740.0,2689.0 L1743.0,2689.0 L1746.0,2689.0 L1749.0,2689.0 L1752.0,2688.9 L1755.0,2688.9 L1758.0,2688.9 L1761.0,2688.8 L1764.0,2688.7 L1767.0,2688.7 L1770.0,2688.6 L1773.0,2688.5 L1776.0,2688.4 L1779.0,2688.3 L1782.0,2688.2 L1785.0,2688.1 L1788.0,2688.0 L1791.0,2687.9 L1794.0,2687.8 L1797.0,2687.7 L1800.0,2687.6 L1803.0,2687.5 L1806.0,2687.4 L1809.0,2687.3 L1812.0,2687.2 L1815.0,2687.1 L1818.0,2687.0 L1821.0,2686.9 L1824.0,2686.8 L1826.9,2686.7 L1829.9,2686.6 L1832.9,2686.5 L1835.9,2686.3 L1838.9,2686.2 L1841.9,2686.1 L1844.9,2686.0 L1847.9,2685.8 L1850.9,2685.7 L1853.9,2685.6 L1856.9,2685.4 L1859.9,2685.3 L1862.9,2685.2 L1865.9,2685.0 L1868.9,2684.9 L1871.9,2684.8 L1874.9,2684.7 L1877.9,2684.5 L1880.9,2684.4 L1883.9,2684.3 L1886.9,2684.2 L1889.9,2684.1 L1892.9,2684.0 L1895.9,2683.9 L1898.9,2683.8 L1901.9,2683.7 L1904.9,2683.6 L1907.9,2683.5 L1910.9,2683.5 L1913.9,2683.4 L1916.9,2683.3 L1919.9,2683.2 L1922.9,2683.1 L1925.9,2683.0 L1928.9,2683.0 L1931.9,2682.9 L1934.9,2682.8 L1937.9,2682.7 L1940.9,2682.7 L1943.9,2682.6 L1946.9,2682.5 L1949.0,2682.5"/>
<path class="cv" style="stroke-width:7.0" stroke="#ff22ff" d="M445.0,2658.0 L445.7,2655.1 L446.4,2652.1 L447.1,2649.2 L447.8,2646.3 L448.5,2643.3 L449.2,2640.4 L449.9,2637.5 L450.6,2634.7 L451.3,2631.8 L452.1,2628.9 L452.8,2626.1 L453.7,2623.3 L454.5,2620.6 L455.5,2618.0 L456.6,2615.4 L457.9,2613.2 L459.7,2611.8 L462.7,2611.9 L465.7,2612.2 L468.7,2612.6 L471.6,2613.1 L474.6,2613.8 L477.5,2614.4 L480.4,2615.1 L483.3,2615.7 L486.3,2616.4 L489.2,2616.9 L492.2,2617.3 L495.2,2617.5 L498.2,2617.7 L501.2,2617.8 L504.1,2618.0 L507.1,2618.1 L510.1,2618.2 L513.1,2618.3 L516.1,2618.4 L519.1,2618.6 L522.1,2618.6 L525.1,2618.7 L528.1,2618.8 L531.1,2618.9 L534.1,2618.9 L537.1,2619.0 L540.1,2619.0 L543.1,2619.0 L546.1,2619.0 L549.1,2618.9 L552.1,2618.8 L555.1,2618.7 L558.1,2618.5 L561.1,2618.3 L564.1,2618.0 L567.1,2617.7 L570.1,2617.3 L573.1,2617.0 L576.0,2616.6 L579.0,2616.2 L582.0,2615.8 L584.9,2615.4 L587.9,2615.0 L590.9,2614.6 L593.9,2614.2 L596.8,2613.8 L599.8,2613.4 L602.8,2612.9 L605.7,2612.4 L608.7,2611.9 L611.6,2611.3 L614.6,2610.7 L617.5,2610.1 L620.5,2609.5 L623.4,2608.9 L626.3,2608.2 L629.3,2607.6 L632.2,2606.9 L635.1,2606.3 L638.0,2605.6 L641.0,2605.0 L643.9,2604.4 L646.8,2603.7 L649.8,2603.1 L652.7,2602.5 L655.6,2601.9 L658.6,2601.2 L661.5,2600.6 L664.4,2600.0 L667.4,2599.3 L670.3,2598.6 L673.2,2597.9 L676.1,2597.2 L679.1,2596.5 L682.0,2595.8 L684.9,2595.0 L687.8,2594.2 L690.7,2593.4 L693.5,2592.5 L696.4,2591.7 L699.3,2590.8 L702.1,2589.9 L705.0,2589.0 L707.9,2588.0 L710.7,2587.1 L713.5,2586.1 L716.4,2585.1 L719.2,2584.1 L722.0,2583.1 L724.8,2582.0 L727.7,2581.0 L730.5,2579.9 L733.2,2578.7 L736.0,2577.5 L738.7,2576.2 L741.4,2574.7 L744.0,2573.1 L746.5,2571.4 L748.9,2569.5 L751.3,2567.7 L753.6,2565.7 L755.9,2563.7 L758.1,2561.7 L760.3,2559.6 L762.5,2557.5 L764.6,2555.2 L766.6,2553.0 L768.6,2550.7 L770.5,2548.4 L772.4,2546.0 L774.3,2543.5 L776.0,2541.1 L777.8,2538.5 L779.4,2536.0 L781.0,2533.4 L782.6,2530.8 L784.1,2528.1 L785.5,2525.5 L787.0,2522.7 L788.3,2520.0 L789.6,2517.2 L790.8,2514.3 L791.9,2511.4 L793.0,2508.4 L793.9,2505.4 L794.8,2502.4 L795.6,2499.4 L796.3,2496.4 L797.0,2493.4 L797.7,2490.4 L798.3,2487.4 L798.9,2484.3 L799.5,2481.2 L799.9,2478.1 L800.4,2475.1 L800.9,2472.1 L801.3,2469.1 L801.7,2466.1 L802.1,2463.2 L802.6,2460.3 L803.0,2457.4 L803.5,2454.4 L804.0,2451.4 L804.4,2448.4 L804.9,2445.2 L805.3,2442.1 L805.6,2438.9 L805.9,2435.7 L806.2,2432.5 L806.4,2429.2 L806.7,2425.7 L806.9,2422.1 L807.2,2418.4 L807.4,2414.7 L807.7,2411.0 L807.9,2407.5 L808.2,2404.1 L808.4,2400.9 L808.7,2398.0 L808.9,2395.2 L809.2,2392.3 L809.5,2389.3 L809.9,2386.4 L810.2,2383.4 L810.5,2380.4 L810.8,2377.3 L811.1,2374.2 L811.4,2371.1 L811.6,2367.9 L811.9,2364.5 L812.1,2360.6 L812.4,2356.4 L812.6,2352.0 L812.9,2347.2 L813.1,2342.3 L813.4,2337.2 L813.6,2332.1 L813.9,2326.9 L814.1,2321.7 L814.4,2316.6 L814.6,2311.5 L814.9,2306.2 L815.1,2300.8 L815.4,2295.3 L815.6,2289.5 L815.9,2283.4 L816.1,2277.0 L816.4,2270.1 L816.6,2262.7 L816.9,2255.0 L817.1,2247.1 L817.4,2239.1 L817.6,2231.0 L817.9,2223.1 L818.1,2215.5 L818.4,2208.1 L818.6,2201.0 L818.9,2194.1 L819.1,2187.2 L819.4,2180.4 L819.6,2173.7 L819.9,2166.9 L820.1,2160.1 L820.4,2153.2 L820.6,2146.1 L820.9,2138.7 L821.1,2131.3 L821.4,2123.7 L821.6,2116.2 L821.9,2108.8 L822.1,2101.5 L822.4,2094.5 L822.6,2087.8 L822.9,2081.5 L823.1,2075.7 L823.4,2070.4 L823.6,2065.3 L823.9,2060.3 L824.1,2055.4 L824.4,2050.6 L824.6,2046.0 L824.9,2041.5 L825.1,2037.1 L825.4,2032.9 L825.6,2028.8 L825.9,2024.9 L826.1,2021.3 L826.4,2017.8 L826.6,2014.6 L826.9,2011.5 L827.1,2008.7 L827.4,2005.9 L827.5,2005.0 L827.5,2005.0 L827.8,2002.0 L828.1,1999.0 L828.3,1996.0 L828.6,1993.1 L828.9,1990.1 L829.2,1987.1 L829.5,1984.1 L829.8,1981.1 L830.0,1978.1 L830.2,1976.5 L830.2,1976.5 L830.6,1979.7 L831.0,1982.8 L831.3,1985.9 L831.6,1989.0 L831.9,1992.0 L832.2,1995.1 L832.4,1998.1 L832.7,2001.2 L832.9,2004.2 L833.2,2007.4 L833.4,2010.8 L833.7,2014.3 L833.9,2017.9 L834.2,2021.8 L834.4,2025.7 L834.7,2029.8 L834.9,2034.0 L835.2,2038.4 L835.4,2042.9 L835.7,2047.5 L835.9,2052.3 L836.2,2057.2 L836.4,2062.2 L836.7,2067.3 L836.9,2072.5 L837.2,2078.0 L837.4,2083.6 L837.7,2089.4 L837.9,2095.5 L838.2,2101.8 L838.4,2108.4 L838.7,2115.2 L838.9,2122.2 L839.2,2129.5 L839.4,2137.1 L839.7,2144.9 L839.9,2153.0 L840.2,2161.7 L840.4,2171.7 L840.7,2182.7 L840.9,2194.4 L841.2,2206.6 L841.4,2219.0 L841.7,2231.2 L841.9,2243.1 L842.2,2254.3 L842.4,2264.6 L842.7,2273.6 L842.9,2281.1 L843.2,2287.8 L843.4,2294.1 L843.7,2300.0 L843.9,2305.6 L844.2,2311.0 L844.4,2316.0 L844.7,2320.9 L844.9,2325.6 L845.2,2330.1 L845.4,2334.5 L845.7,2338.8 L845.9,2343.1 L846.2,2347.4 L846.4,2351.6 L846.7,2355.9 L846.9,2360.3 L847.2,2364.8 L847.4,2369.4 L847.7,2374.1 L847.9,2378.9 L848.2,2383.7 L848.4,2388.5 L848.7,2393.2 L848.9,2398.0 L849.2,2402.7 L849.4,2407.4 L849.7,2411.9 L849.9,2416.3 L850.2,2420.6 L850.4,2424.7 L850.7,2428.7 L850.9,2432.4 L851.2,2436.0 L851.4,2439.3 L851.7,2442.3 L851.9,2445.2 L852.2,2448.1 L852.5,2451.1 L852.8,2454.0 L853.1,2456.9 L853.4,2459.8 L853.7,2462.8 L854.1,2465.7 L854.4,2468.7 L854.7,2471.7 L855.1,2474.6 L855.4,2477.5 L855.8,2480.5 L856.2,2483.4 L856.6,2486.4 L856.9,2489.3 L857.3,2492.3 L857.7,2495.2 L858.2,2498.1 L858.6,2501.1 L859.0,2504.0 L859.5,2506.9 L859.9,2509.9 L860.4,2512.8 L860.9,2515.7 L861.3,2518.7 L861.8,2521.6 L862.3,2524.5 L862.9,2527.4 L863.4,2530.4 L863.9,2533.3 L864.4,2536.3 L865.0,2539.2 L865.5,2542.2 L866.1,2545.1 L866.6,2548.0 L867.2,2550.9 L867.7,2553.8 L868.3,2556.7 L868.9,2559.5 L869.6,2562.4 L870.3,2565.1 L871.1,2568.0 L871.9,2570.8 L872.7,2573.6 L873.6,2576.4 L874.5,2579.2 L875.4,2581.9 L876.5,2584.6 L877.6,2587.2 L878.8,2589.9 L880.1,2592.5 L881.5,2595.1 L882.9,2597.6 L884.5,2600.1 L886.1,2602.4 L888.0,2604.5 L890.0,2606.6 L892.2,2608.6 L894.5,2610.4 L896.9,2612.1 L899.4,2613.6 L902.0,2615.0 L904.7,2616.3 L907.4,2617.4 L910.2,2618.5 L913.0,2619.7 L915.8,2620.6 L918.6,2621.8 L921.3,2624.6 L922.5,2627.8 L923.5,2630.5 L924.7,2633.4 L925.7,2636.4 L926.6,2639.3 L927.4,2642.1 L928.4,2644.8 L929.4,2647.1 L931.0,2648.3 L933.9,2643.7 L935.0,2640.8 L936.1,2638.1 L937.3,2635.8 L938.9,2633.6 L940.7,2631.4 L942.8,2630.2 L945.8,2630.4 L948.7,2631.0 L951.6,2631.8 L954.5,2632.6 L957.4,2633.2 L960.4,2633.8 L963.3,2634.4 L966.3,2635.0 L969.2,2635.6 L972.1,2636.1 L975.1,2636.7 L978.1,2637.1 L981.0,2637.5 L984.0,2637.8 L987.0,2638.1 L990.0,2638.3 L993.0,2638.6 L996.0,2638.8 L999.0,2639.0 L1002.0,2639.1 L1004.9,2639.3 L1007.9,2639.5 L1010.9,2639.6 L1013.9,2639.8 L1016.9,2640.0 L1019.9,2640.2 L1022.9,2640.4 L1025.9,2640.5 L1028.9,2640.7 L1031.9,2640.9 L1034.9,2641.1 L1037.9,2641.3 L1040.9,2641.5 L1043.9,2641.6 L1046.9,2641.8 L1049.9,2642.0 L1052.9,2642.2 L1055.9,2642.4 L1058.9,2642.6 L1061.8,2642.7 L1064.8,2642.9 L1067.8,2643.1 L1070.8,2643.4 L1073.8,2643.6 L1076.8,2643.8 L1079.8,2644.0 L1082.8,2644.2 L1085.8,2644.5 L1088.8,2644.7 L1091.8,2645.0 L1094.8,2645.2 L1097.7,2645.4 L1100.7,2645.7 L1103.7,2645.9 L1106.7,2646.2 L1109.7,2646.4 L1112.7,2646.7 L1115.7,2647.0 L1118.7,2647.2 L1121.7,2647.5 L1124.6,2647.7 L1127.6,2648.0 L1130.6,2648.3 L1133.6,2648.5 L1136.6,2648.8 L1139.6,2649.1 L1142.6,2649.3 L1145.6,2649.6 L1148.6,2649.9 L1151.5,2650.1 L1154.5,2650.4 L1157.5,2650.7 L1160.5,2651.0 L1163.5,2651.2 L1166.5,2651.5 L1169.5,2651.8 L1172.5,2652.1 L1175.4,2652.4 L1178.4,2652.7 L1181.4,2652.9 L1184.4,2653.2 L1187.4,2653.5 L1190.4,2653.8 L1193.4,2654.1 L1196.3,2654.4 L1199.3,2654.7 L1202.3,2655.0 L1205.3,2655.3 L1208.3,2655.6 L1211.3,2655.9 L1214.2,2656.2 L1217.2,2656.5 L1220.2,2656.8 L1223.2,2657.1 L1226.2,2657.4 L1229.2,2657.7 L1232.2,2658.0 L1235.1,2658.3 L1238.1,2658.6 L1241.1,2658.9 L1244.1,2659.2 L1247.1,2659.5 L1250.1,2659.8 L1253.1,2660.1 L1256.0,2660.4 L1259.0,2660.7 L1262.0,2661.0 L1265.0,2661.3 L1268.0,2661.6 L1271.0,2661.8 L1274.0,2662.1 L1276.9,2662.4 L1279.9,2662.7 L1282.9,2662.9 L1285.9,2663.2 L1288.9,2663.5 L1291.9,2663.7 L1294.9,2664.0 L1297.9,2664.3 L1300.9,2664.5 L1303.8,2664.8 L1306.8,2665.0 L1309.8,2665.2 L1312.8,2665.5 L1315.8,2665.7 L1318.8,2666.0 L1321.8,2666.2 L1324.8,2666.5 L1327.8,2666.7 L1330.8,2666.9 L1333.7,2667.2 L1336.7,2667.4 L1339.7,2667.6 L1342.7,2667.9 L1345.7,2668.1 L1348.7,2668.3 L1351.7,2668.6 L1354.7,2668.8 L1357.7,2669.0 L1360.7,2669.2 L1363.7,2669.5 L1366.6,2669.7 L1369.6,2669.9 L1372.6,2670.1 L1375.6,2670.3 L1378.6,2670.6 L1381.6,2670.8 L1384.6,2671.0 L1387.6,2671.2 L1390.6,2671.4 L1393.6,2671.6 L1396.6,2671.8 L1399.6,2672.1 L1402.6,2672.3 L1405.5,2672.5 L1408.5,2672.7 L1411.5,2672.9 L1414.5,2673.1 L1417.5,2673.3 L1420.5,2673.5 L1423.5,2673.7 L1426.5,2673.9 L1429.5,2674.1 L1432.5,2674.3 L1435.5,2674.5 L1438.5,2674.7 L1441.5,2674.9 L1444.5,2675.1 L1447.5,2675.3 L1450.4,2675.5 L1453.4,2675.7 L1456.4,2675.9 L1459.4,2676.0 L1462.4,2676.2 L1465.4,2676.4 L1468.4,2676.6 L1471.4,2676.8 L1474.4,2677.0 L1477.4,2677.2 L1480.4,2677.4 L1483.4,2677.6 L1486.4,2677.8 L1489.4,2678.0 L1492.4,2678.2 L1495.3,2678.4 L1498.3,2678.6 L1501.3,2678.8 L1504.3,2679.0 L1507.3,2679.2 L1510.3,2679.4 L1513.3,2679.6 L1516.3,2679.8 L1519.3,2680.0 L1522.3,2680.2 L1525.3,2680.4 L1528.3,2680.5 L1531.3,2680.7 L1534.3,2680.9 L1537.3,2681.1 L1540.3,2681.3 L1543.3,2681.4 L1546.2,2681.6 L1549.2,2681.8 L1552.2,2681.9 L1555.2,2682.1 L1558.2,2682.2 L1561.2,2682.4 L1564.2,2682.6 L1567.2,2682.7 L1570.2,2682.8 L1573.2,2683.0 L1576.2,2683.1 L1579.2,2683.2 L1582.2,2683.4 L1585.2,2683.5 L1588.2,2683.6 L1591.2,2683.7 L1594.2,2683.8 L1597.2,2683.9 L1600.2,2684.0 L1603.2,2684.1 L1606.2,2684.2 L1609.2,2684.3 L1612.2,2684.4 L1615.2,2684.5 L1618.2,2684.6 L1621.2,2684.6 L1624.2,2684.7 L1627.2,2684.8 L1630.2,2684.9 L1633.2,2685.0 L1636.2,2685.1 L1639.2,2685.2 L1642.2,2685.3 L1645.2,2685.4 L1648.2,2685.4 L1651.2,2685.5 L1654.2,2685.6 L1657.2,2685.7 L1660.2,2685.8 L1663.2,2685.8 L1666.2,2685.9 L1669.2,2686.0 L1672.2,2686.1 L1675.2,2686.1 L1678.2,2686.2 L1681.2,2686.3 L1684.2,2686.3 L1687.2,2686.4 L1690.2,2686.5 L1693.2,2686.5 L1696.2,2686.6 L1699.2,2686.6 L1702.2,2686.7 L1705.2,2686.7 L1708.2,2686.8 L1711.2,2686.8 L1714.2,2686.8 L1717.2,2686.9 L1720.2,2686.9 L1723.2,2686.9 L1726.2,2686.9 L1729.2,2687.0 L1732.2,2687.0 L1735.2,2687.0 L1738.2,2687.0 L1741.2,2687.0 L1744.2,2687.0 L1747.2,2687.0 L1750.2,2687.0 L1753.2,2686.9 L1756.2,2686.9 L1759.2,2686.8 L1762.2,2686.8 L1765.2,2686.7 L1768.1,2686.6 L1771.1,2686.5 L1774.1,2686.4 L1777.1,2686.3 L1780.1,2686.3 L1783.1,2686.2 L1786.1,2686.0 L1789.1,2685.9 L1792.1,2685.8 L1795.1,2685.7 L1798.1,2685.6 L1801.1,2685.5 L1804.1,2685.4 L1807.1,2685.3 L1810.1,2685.2 L1813.1,2685.1 L1816.1,2685.0 L1819.1,2685.0 L1822.1,2684.9 L1825.1,2684.8 L1828.1,2684.7 L1831.1,2684.6 L1834.1,2684.6 L1837.1,2684.5 L1840.1,2684.4 L1843.1,2684.3 L1846.1,2684.2 L1849.1,2684.1 L1852.1,2684.0 L1855.1,2684.0 L1858.1,2683.9 L1861.1,2683.8 L1864.1,2683.7 L1867.1,2683.6 L1870.1,2683.5 L1873.1,2683.5 L1876.1,2683.4 L1879.1,2683.3 L1882.1,2683.2 L1885.1,2683.2 L1888.1,2683.1 L1891.1,2683.0 L1894.1,2683.0 L1897.1,2682.9 L1900.1,2682.9 L1903.1,2682.8 L1906.1,2682.7 L1909.1,2682.7 L1912.1,2682.6 L1915.1,2682.6 L1918.1,2682.5 L1921.1,2682.4 L1924.1,2682.4 L1927.1,2682.3 L1930.1,2682.3 L1933.1,2682.2 L1936.1,2682.2 L1939.1,2682.1 L1942.1,2682.1 L1945.1,2682.1 L1948.1,2682.0 L1949.0,2682.0"/>
<path class="cv" style="stroke-width:7.0" stroke="#128412" d="M445.0,2645.6 L445.6,2642.6 L446.3,2639.7 L446.9,2636.7 L447.5,2633.7 L448.1,2630.8 L448.7,2627.9 L449.3,2625.0 L449.9,2622.1 L450.6,2619.2 L451.2,2616.3 L451.9,2613.5 L452.6,2610.7 L453.4,2608.0 L454.3,2605.3 L455.3,2602.9 L456.7,2600.9 L458.9,2600.5 L461.9,2600.7 L464.9,2601.2 L467.9,2601.7 L470.8,2602.4 L473.7,2603.1 L476.6,2603.9 L479.5,2604.8 L482.4,2605.6 L485.3,2606.3 L488.2,2607.0 L491.1,2607.5 L494.1,2607.9 L497.1,2608.2 L500.1,2608.4 L503.1,2608.7 L506.0,2608.9 L509.0,2609.1 L512.0,2609.3 L515.0,2609.5 L518.0,2609.6 L521.0,2609.8 L524.0,2609.9 L527.0,2609.9 L530.0,2610.0 L533.0,2610.0 L536.0,2610.0 L539.0,2609.9 L542.0,2609.8 L545.0,2609.7 L548.0,2609.6 L551.0,2609.4 L554.0,2609.2 L557.0,2609.0 L560.0,2608.8 L563.0,2608.6 L566.0,2608.3 L569.0,2608.1 L571.9,2607.9 L574.9,2607.6 L577.9,2607.3 L580.9,2607.0 L583.9,2606.6 L586.9,2606.2 L589.8,2605.8 L592.8,2605.4 L595.8,2604.9 L598.7,2604.5 L601.7,2604.0 L604.7,2603.5 L607.6,2603.1 L610.6,2602.6 L613.6,2602.1 L616.5,2601.5 L619.5,2600.9 L622.4,2600.3 L625.3,2599.7 L628.3,2599.1 L631.2,2598.5 L634.1,2597.9 L637.1,2597.3 L640.0,2596.6 L642.9,2596.0 L645.9,2595.4 L648.8,2594.9 L651.8,2594.3 L654.7,2593.8 L657.7,2593.2 L660.6,2592.7 L663.6,2592.1 L666.5,2591.5 L669.4,2590.8 L672.4,2590.0 L675.2,2589.2 L678.1,2588.3 L681.0,2587.3 L683.8,2586.2 L686.6,2585.2 L689.4,2584.1 L692.2,2583.0 L695.0,2582.0 L697.8,2580.9 L700.6,2579.9 L703.4,2578.8 L706.2,2577.7 L709.0,2576.6 L711.8,2575.5 L714.6,2574.4 L717.4,2573.2 L720.1,2572.0 L722.9,2570.8 L725.6,2569.5 L728.3,2568.3 L731.0,2567.0 L733.7,2565.6 L736.4,2564.1 L739.0,2562.6 L741.6,2561.0 L744.1,2559.2 L746.5,2557.4 L748.8,2555.5 L751.1,2553.5 L753.4,2551.5 L755.6,2549.4 L757.8,2547.3 L759.9,2545.1 L762.0,2542.9 L764.0,2540.7 L766.0,2538.4 L767.9,2536.0 L769.8,2533.6 L771.7,2531.2 L773.5,2528.8 L775.2,2526.3 L776.9,2523.8 L778.5,2521.1 L780.0,2518.4 L781.4,2515.6 L782.7,2512.6 L783.8,2509.7 L784.8,2506.7 L785.8,2503.8 L786.6,2500.8 L787.5,2497.8 L788.2,2494.9 L789.0,2491.9 L789.8,2488.9 L790.4,2485.8 L791.1,2482.8 L791.6,2479.8 L792.2,2476.8 L792.8,2473.8 L793.3,2470.9 L793.9,2467.9 L794.4,2465.0 L794.9,2462.0 L795.5,2459.0 L796.0,2456.0 L796.5,2453.0 L797.0,2449.9 L797.4,2446.8 L797.8,2443.7 L798.2,2440.6 L798.5,2437.5 L798.8,2434.4 L799.1,2431.3 L799.4,2428.3 L799.7,2425.2 L799.9,2422.2 L800.2,2419.2 L800.4,2416.0 L800.7,2412.8 L800.9,2409.4 L801.2,2405.7 L801.4,2401.9 L801.7,2397.8 L801.9,2393.7 L802.2,2389.4 L802.4,2385.0 L802.7,2380.4 L802.9,2375.8 L803.2,2371.2 L803.4,2366.5 L803.7,2361.7 L803.9,2356.8 L804.2,2351.8 L804.4,2346.7 L804.7,2341.5 L804.9,2336.1 L805.2,2330.7 L805.4,2325.2 L805.7,2319.5 L805.9,2313.8 L806.2,2307.9 L806.4,2301.9 L806.7,2295.9 L806.9,2289.7 L807.2,2283.4 L807.4,2277.0 L807.7,2270.3 L807.9,2263.5 L808.2,2256.4 L808.4,2249.2 L808.7,2241.7 L808.9,2234.2 L809.2,2226.5 L809.4,2218.6 L809.7,2210.7 L809.9,2202.7 L810.2,2194.5 L810.4,2186.1 L810.7,2177.4 L810.9,2168.5 L811.2,2159.5 L811.4,2150.4 L811.7,2141.2 L811.9,2131.9 L812.2,2122.7 L812.4,2113.5 L812.7,2104.4 L812.9,2095.4 L813.2,2086.5 L813.4,2077.6 L813.7,2068.5 L813.9,2059.4 L814.2,2050.3 L814.4,2041.2 L814.7,2032.3 L814.9,2023.4 L815.2,2014.8 L815.4,2006.4 L815.7,1998.3 L815.9,1990.5 L816.2,1983.0 L816.4,1975.7 L816.7,1968.5 L816.9,1961.4 L817.2,1954.4 L817.4,1947.6 L817.7,1940.9 L817.9,1934.3 L818.2,1927.8 L818.4,1921.5 L818.7,1915.3 L818.9,1909.2 L819.2,1903.2 L819.4,1897.3 L819.7,1891.5 L819.9,1885.8 L820.2,1880.3 L820.4,1874.8 L820.7,1869.3 L820.9,1863.9 L821.2,1858.6 L821.4,1853.4 L821.7,1848.2 L821.9,1843.1 L822.2,1838.0 L822.4,1833.1 L822.7,1828.2 L822.9,1823.3 L823.2,1818.6 L823.4,1813.9 L823.7,1809.3 L823.9,1804.8 L824.2,1800.4 L824.4,1796.1 L824.7,1791.9 L824.9,1787.7 L825.2,1783.7 L825.4,1779.7 L825.7,1775.9 L825.9,1772.1 L826.2,1768.4 L826.4,1764.8 L826.7,1761.3 L826.9,1757.8 L827.2,1754.5 L827.4,1751.2 L827.7,1748.0 L827.9,1744.9 L828.2,1741.9 L828.4,1738.9 L828.5,1738.0 L828.5,1738.0 L828.9,1735.0 L829.3,1732.1 L829.7,1729.1 L829.8,1728.0 L829.8,1728.0 L830.3,1731.0 L830.7,1734.1 L831.1,1737.2 L831.5,1740.2 L831.8,1743.2 L832.2,1746.3 L832.6,1749.3 L832.9,1752.3 L833.2,1755.4 L833.5,1758.4 L833.8,1761.5 L834.1,1764.5 L834.4,1767.6 L834.7,1770.6 L834.9,1773.7 L835.2,1776.9 L835.4,1780.3 L835.7,1784.0 L835.9,1788.1 L836.2,1792.5 L836.4,1797.2 L836.7,1802.3 L836.9,1807.6 L837.2,1813.1 L837.4,1818.9 L837.7,1824.8 L837.9,1830.9 L838.2,1837.1 L838.4,1843.5 L838.7,1849.9 L838.9,1856.3 L839.2,1862.8 L839.4,1869.3 L839.7,1875.7 L839.9,1882.1 L840.2,1888.3 L840.4,1894.6 L840.7,1900.9 L840.9,1907.1 L841.2,1913.5 L841.4,1920.0 L841.7,1926.5 L841.9,1933.2 L842.2,1940.2 L842.4,1947.3 L842.7,1954.6 L842.9,1962.2 L843.2,1970.2 L843.4,1978.4 L843.7,1987.0 L843.9,1996.3 L844.2,2006.6 L844.4,2017.7 L844.7,2029.4 L844.9,2041.5 L845.2,2053.7 L845.4,2065.9 L845.7,2077.7 L845.9,2089.1 L846.2,2100.0 L846.4,2110.7 L846.7,2121.3 L846.9,2131.8 L847.2,2142.2 L847.4,2152.5 L847.7,2162.8 L847.9,2172.9 L848.2,2183.0 L848.4,2193.0 L848.7,2202.9 L848.9,2213.0 L849.2,2223.3 L849.4,2233.6 L849.7,2243.7 L849.9,2253.5 L850.2,2262.8 L850.4,2271.4 L850.7,2279.2 L850.9,2286.3 L851.2,2293.1 L851.4,2299.7 L851.7,2306.0 L851.9,2312.1 L852.2,2317.9 L852.4,2323.6 L852.7,2329.0 L852.9,2334.3 L853.2,2339.5 L853.4,2344.5 L853.7,2349.4 L853.9,2354.2 L854.2,2358.9 L854.4,2363.5 L854.7,2368.1 L854.9,2372.6 L855.2,2377.0 L855.4,2381.3 L855.7,2385.5 L855.9,2389.6 L856.2,2393.6 L856.4,2397.5 L856.7,2401.3 L856.9,2405.0 L857.2,2408.6 L857.4,2412.2 L857.7,2415.6 L857.9,2419.0 L858.2,2422.3 L858.4,2425.5 L858.7,2428.6 L858.9,2431.6 L859.2,2434.6 L859.4,2437.5 L859.7,2440.5 L860.0,2443.4 L860.2,2446.3 L860.5,2449.3 L860.8,2452.2 L861.1,2455.1 L861.4,2458.1 L861.8,2461.0 L862.1,2464.0 L862.5,2466.9 L862.8,2469.8 L863.2,2472.8 L863.6,2475.8 L863.9,2478.7 L864.3,2481.7 L864.7,2484.6 L865.1,2487.6 L865.5,2490.5 L865.9,2493.4 L866.3,2496.4 L866.7,2499.3 L867.2,2502.3 L867.6,2505.2 L868.1,2508.2 L868.5,2511.1 L869.0,2514.0 L869.4,2517.0 L869.9,2519.9 L870.4,2522.8 L870.9,2525.7 L871.4,2528.6 L872.0,2531.5 L872.5,2534.4 L873.1,2537.3 L873.7,2540.2 L874.3,2543.1 L875.0,2546.0 L875.6,2548.8 L876.3,2551.7 L877.0,2554.5 L877.8,2557.4 L878.6,2560.2 L879.4,2563.0 L880.2,2565.8 L881.1,2568.6 L882.1,2571.4 L883.0,2574.1 L884.1,2576.8 L885.3,2579.4 L886.6,2582.0 L887.9,2584.5 L889.4,2587.0 L891.0,2589.5 L892.6,2591.9 L894.4,2594.2 L896.2,2596.5 L898.2,2598.7 L900.2,2600.9 L902.2,2603.0 L904.4,2605.0 L906.7,2606.9 L909.0,2608.7 L911.4,2610.4 L913.9,2612.0 L916.4,2613.6 L919.0,2615.1 L921.6,2616.5 L924.3,2617.8 L926.9,2619.1 L929.7,2620.4 L932.4,2621.6 L935.2,2622.7 L938.0,2623.7 L940.8,2624.7 L943.6,2625.6 L946.5,2626.4 L949.4,2627.1 L952.3,2627.8 L955.2,2628.5 L958.2,2629.1 L961.1,2629.6 L964.1,2630.1 L967.0,2630.6 L970.0,2631.0 L973.0,2631.5 L975.9,2631.9 L978.9,2632.3 L981.9,2632.6 L984.9,2632.9 L987.9,2633.4 L990.8,2634.2 L993.4,2637.2 L995.0,2639.8 L996.6,2643.1 L997.7,2646.1 L998.6,2648.9 L999.7,2651.3 L1001.1,2652.7 L1004.1,2647.7 L1005.1,2644.8 L1006.2,2642.2 L1007.4,2640.0 L1009.0,2637.4 L1010.8,2635.5 L1013.2,2635.2 L1016.2,2635.4 L1019.2,2635.7 L1022.2,2636.0 L1025.2,2636.2 L1028.2,2636.5 L1031.2,2636.8 L1034.2,2637.2 L1037.1,2637.5 L1040.1,2637.8 L1043.1,2638.1 L1046.1,2638.4 L1049.1,2638.6 L1052.1,2638.9 L1055.1,2639.1 L1058.1,2639.3 L1061.1,2639.5 L1064.0,2639.7 L1067.0,2640.0 L1070.0,2640.2 L1073.0,2640.4 L1076.0,2640.7 L1079.0,2640.9 L1082.0,2641.1 L1085.0,2641.4 L1088.0,2641.6 L1091.0,2641.8 L1094.0,2642.0 L1096.9,2642.3 L1099.9,2642.5 L1102.9,2642.7 L1105.9,2642.9 L1108.9,2643.2 L1111.9,2643.4 L1114.9,2643.6 L1117.9,2643.9 L1120.9,2644.1 L1123.9,2644.3 L1126.9,2644.6 L1129.9,2644.8 L1132.8,2645.1 L1135.8,2645.3 L1138.8,2645.6 L1141.8,2645.8 L1144.8,2646.1 L1147.8,2646.3 L1150.8,2646.6 L1153.8,2646.8 L1156.8,2647.1 L1159.7,2647.4 L1162.7,2647.6 L1165.7,2647.9 L1168.7,2648.2 L1171.7,2648.5 L1174.7,2648.8 L1177.7,2649.1 L1180.6,2649.4 L1183.6,2649.7 L1186.6,2650.0 L1189.6,2650.3 L1192.6,2650.6 L1195.6,2650.9 L1198.6,2651.2 L1201.5,2651.5 L1204.5,2651.8 L1207.5,2652.1 L1210.5,2652.4 L1213.5,2652.8 L1216.5,2653.1 L1219.4,2653.4 L1222.4,2653.7 L1225.4,2654.0 L1228.4,2654.3 L1231.4,2654.7 L1234.4,2655.0 L1237.3,2655.3 L1240.3,2655.6 L1243.3,2655.9 L1246.3,2656.2 L1249.3,2656.5 L1252.3,2656.8 L1255.2,2657.2 L1258.2,2657.5 L1261.2,2657.8 L1264.2,2658.1 L1267.2,2658.4 L1270.2,2658.7 L1273.2,2659.0 L1276.1,2659.2 L1279.1,2659.5 L1282.1,2659.8 L1285.1,2660.1 L1288.1,2660.4 L1291.1,2660.6 L1294.1,2660.9 L1297.0,2661.2 L1300.0,2661.4 L1303.0,2661.7 L1306.0,2661.9 L1309.0,2662.2 L1312.0,2662.5 L1315.0,2662.7 L1318.0,2663.0 L1321.0,2663.2 L1324.0,2663.5 L1326.9,2663.7 L1329.9,2664.0 L1332.9,2664.2 L1335.9,2664.5 L1338.9,2664.7 L1341.9,2665.0 L1344.9,2665.2 L1347.9,2665.5 L1350.9,2665.7 L1353.8,2666.0 L1356.8,2666.2 L1359.8,2666.5 L1362.8,2666.7 L1365.8,2666.9 L1368.8,2667.2 L1371.8,2667.4 L1374.8,2667.6 L1377.8,2667.9 L1380.8,2668.1 L1383.8,2668.3 L1386.7,2668.6 L1389.7,2668.8 L1392.7,2669.0 L1395.7,2669.2 L1398.7,2669.4 L1401.7,2669.7 L1404.7,2669.9 L1407.7,2670.1 L1410.7,2670.3 L1413.7,2670.5 L1416.7,2670.7 L1419.7,2670.9 L1422.7,2671.1 L1425.6,2671.3 L1428.6,2671.5 L1431.6,2671.7 L1434.6,2671.8 L1437.6,2672.0 L1440.6,2672.2 L1443.6,2672.4 L1446.6,2672.6 L1449.6,2672.7 L1452.6,2672.9 L1455.6,2673.0 L1458.6,2673.2 L1461.6,2673.3 L1464.6,2673.5 L1467.6,2673.6 L1470.6,2673.7 L1473.6,2673.9 L1476.6,2674.0 L1479.6,2674.1 L1482.6,2674.2 L1485.6,2674.4 L1488.6,2674.5 L1491.6,2674.6 L1494.6,2674.7 L1497.6,2674.9 L1500.6,2675.0 L1503.5,2675.1 L1506.5,2675.3 L1509.5,2675.4 L1512.5,2675.6 L1515.5,2675.7 L1518.5,2675.9 L1521.5,2676.1 L1524.5,2676.3 L1527.5,2676.5 L1530.5,2676.7 L1533.5,2676.9 L1536.5,2677.2 L1539.5,2677.4 L1542.5,2677.7 L1545.5,2677.9 L1548.4,2678.2 L1551.4,2678.5 L1554.4,2678.7 L1557.4,2679.0 L1560.4,2679.2 L1563.4,2679.5 L1566.4,2679.7 L1569.4,2679.9 L1572.4,2680.1 L1575.4,2680.3 L1578.4,2680.5 L1581.3,2680.6 L1584.3,2680.8 L1587.3,2680.9 L1590.3,2681.0 L1593.3,2681.0 L1596.3,2681.1 L1599.3,2681.1 L1602.3,2681.2 L1605.3,2681.3 L1608.3,2681.3 L1611.3,2681.4 L1614.3,2681.4 L1617.3,2681.4 L1620.3,2681.5 L1623.3,2681.5 L1626.3,2681.5 L1629.3,2681.5 L1632.3,2681.3 L1635.3,2680.8 L1638.2,2680.1 L1641.1,2679.4 L1644.1,2679.0 L1647.1,2679.4 L1649.9,2680.6 L1652.6,2681.9 L1655.4,2682.5 L1658.4,2682.7 L1661.4,2682.8 L1664.4,2682.9 L1667.4,2683.0 L1670.4,2683.1 L1673.4,2683.1 L1676.4,2683.2 L1679.4,2683.3 L1682.4,2683.3 L1685.4,2683.4 L1688.4,2683.4 L1691.4,2683.5 L1694.4,2683.6 L1697.4,2683.6 L1700.4,2683.7 L1703.4,2683.7 L1706.4,2683.7 L1709.4,2683.8 L1712.4,2683.8 L1715.4,2683.8 L1718.4,2683.9 L1721.4,2683.9 L1724.4,2683.9 L1727.4,2684.0 L1730.4,2684.0 L1733.4,2684.0 L1736.4,2684.0 L1739.4,2684.0 L1742.4,2684.0 L1745.4,2684.0 L1748.4,2684.0 L1751.4,2684.0 L1754.4,2684.0 L1757.4,2683.9 L1760.4,2683.9 L1763.4,2683.9 L1766.4,2683.8 L1769.4,2683.8 L1772.4,2683.8 L1775.4,2683.7 L1778.4,2683.7 L1781.4,2683.6 L1784.4,2683.6 L1787.4,2683.5 L1790.4,2683.5 L1793.4,2683.4 L1796.4,2683.4 L1799.4,2683.3 L1802.4,2683.3 L1805.4,2683.2 L1808.4,2683.2 L1811.4,2683.1 L1814.4,2683.1 L1817.4,2683.0 L1820.4,2683.0 L1823.4,2682.9 L1826.4,2682.8 L1829.4,2682.8 L1832.4,2682.7 L1835.4,2682.6 L1838.4,2682.6 L1841.4,2682.5 L1844.4,2682.4 L1847.4,2682.3 L1850.4,2682.3 L1853.4,2682.2 L1856.4,2682.1 L1859.4,2682.0 L1862.4,2682.0 L1865.4,2681.9 L1868.4,2681.8 L1871.4,2681.8 L1874.4,2681.7 L1877.4,2681.6 L1880.4,2681.6 L1883.4,2681.5 L1886.4,2681.5 L1889.4,2681.4 L1892.4,2681.4 L1895.4,2681.4 L1898.4,2681.3 L1901.4,2681.3 L1904.4,2681.3 L1907.4,2681.3 L1910.4,2681.2 L1913.4,2681.2 L1916.4,2681.2 L1919.4,2681.1 L1922.4,2681.1 L1925.4,2681.1 L1928.4,2681.1 L1931.4,2681.1 L1934.4,2681.0 L1937.4,2681.0 L1940.4,2681.0 L1943.4,2681.0 L1946.4,2681.0 L1949.0,2681.0"/>
<rect class="ax" x="312" y="1561.5" width="1763" height="1255.6999999999998" stroke-width="6"/>
<line x1="437.5" y1="2817.2" x2="437.5" y2="2793.2" stroke="#424242" stroke-width="5.2"/>
<line x1="437.5" y1="1561.5" x2="437.5" y2="1585.5" stroke="#424242" stroke-width="5.2"/>
<line x1="563.5" y1="2817.2" x2="563.5" y2="2805.2" stroke="#424242" stroke-width="5.2"/>
<line x1="563.5" y1="1561.5" x2="563.5" y2="1573.5" stroke="#424242" stroke-width="5.2"/>
<line x1="689.4" y1="2817.2" x2="689.4" y2="2793.2" stroke="#424242" stroke-width="5.2"/>
<line x1="689.4" y1="1561.5" x2="689.4" y2="1585.5" stroke="#424242" stroke-width="5.2"/>
<line x1="815.4" y1="2817.2" x2="815.4" y2="2805.2" stroke="#424242" stroke-width="5.2"/>
<line x1="815.4" y1="1561.5" x2="815.4" y2="1573.5" stroke="#424242" stroke-width="5.2"/>
<line x1="941.3" y1="2817.2" x2="941.3" y2="2793.2" stroke="#424242" stroke-width="5.2"/>
<line x1="941.3" y1="1561.5" x2="941.3" y2="1585.5" stroke="#424242" stroke-width="5.2"/>
<line x1="1067.2" y1="2817.2" x2="1067.2" y2="2805.2" stroke="#424242" stroke-width="5.2"/>
<line x1="1067.2" y1="1561.5" x2="1067.2" y2="1573.5" stroke="#424242" stroke-width="5.2"/>
<line x1="1193.2" y1="2817.2" x2="1193.2" y2="2793.2" stroke="#424242" stroke-width="5.2"/>
<line x1="1193.2" y1="1561.5" x2="1193.2" y2="1585.5" stroke="#424242" stroke-width="5.2"/>
<line x1="1319.2" y1="2817.2" x2="1319.2" y2="2805.2" stroke="#424242" stroke-width="5.2"/>
<line x1="1319.2" y1="1561.5" x2="1319.2" y2="1573.5" stroke="#424242" stroke-width="5.2"/>
<line x1="1445.1" y1="2817.2" x2="1445.1" y2="2793.2" stroke="#424242" stroke-width="5.2"/>
<line x1="1445.1" y1="1561.5" x2="1445.1" y2="1585.5" stroke="#424242" stroke-width="5.2"/>
<line x1="1571.0" y1="2817.2" x2="1571.0" y2="2805.2" stroke="#424242" stroke-width="5.2"/>
<line x1="1571.0" y1="1561.5" x2="1571.0" y2="1573.5" stroke="#424242" stroke-width="5.2"/>
<line x1="1697.0" y1="2817.2" x2="1697.0" y2="2793.2" stroke="#424242" stroke-width="5.2"/>
<line x1="1697.0" y1="1561.5" x2="1697.0" y2="1585.5" stroke="#424242" stroke-width="5.2"/>
<line x1="1823.0" y1="2817.2" x2="1823.0" y2="2805.2" stroke="#424242" stroke-width="5.2"/>
<line x1="1823.0" y1="1561.5" x2="1823.0" y2="1573.5" stroke="#424242" stroke-width="5.2"/>
<line x1="1948.9" y1="2817.2" x2="1948.9" y2="2793.2" stroke="#424242" stroke-width="5.2"/>
<line x1="1948.9" y1="1561.5" x2="1948.9" y2="1585.5" stroke="#424242" stroke-width="5.2"/>
<line x1="312.0" y1="2712.6" x2="324.0" y2="2712.6" stroke="#424242" stroke-width="5.2"/>
<line x1="2075.0" y1="2712.6" x2="2063.0" y2="2712.6" stroke="#424242" stroke-width="5.2"/>
<line x1="312.0" y1="2607.9" x2="336.0" y2="2607.9" stroke="#424242" stroke-width="5.2"/>
<line x1="2075.0" y1="2607.9" x2="2051.0" y2="2607.9" stroke="#424242" stroke-width="5.2"/>
<line x1="312.0" y1="2503.3" x2="324.0" y2="2503.3" stroke="#424242" stroke-width="5.2"/>
<line x1="2075.0" y1="2503.3" x2="2063.0" y2="2503.3" stroke="#424242" stroke-width="5.2"/>
<line x1="312.0" y1="2398.6" x2="336.0" y2="2398.6" stroke="#424242" stroke-width="5.2"/>
<line x1="2075.0" y1="2398.6" x2="2051.0" y2="2398.6" stroke="#424242" stroke-width="5.2"/>
<line x1="312.0" y1="2294.0" x2="324.0" y2="2294.0" stroke="#424242" stroke-width="5.2"/>
<line x1="2075.0" y1="2294.0" x2="2063.0" y2="2294.0" stroke="#424242" stroke-width="5.2"/>
<line x1="312.0" y1="2189.3" x2="336.0" y2="2189.3" stroke="#424242" stroke-width="5.2"/>
<line x1="2075.0" y1="2189.3" x2="2051.0" y2="2189.3" stroke="#424242" stroke-width="5.2"/>
<line x1="312.0" y1="2084.7" x2="324.0" y2="2084.7" stroke="#424242" stroke-width="5.2"/>
<line x1="2075.0" y1="2084.7" x2="2063.0" y2="2084.7" stroke="#424242" stroke-width="5.2"/>
<line x1="312.0" y1="1980.1" x2="336.0" y2="1980.1" stroke="#424242" stroke-width="5.2"/>
<line x1="2075.0" y1="1980.1" x2="2051.0" y2="1980.1" stroke="#424242" stroke-width="5.2"/>
<line x1="312.0" y1="1875.4" x2="324.0" y2="1875.4" stroke="#424242" stroke-width="5.2"/>
<line x1="2075.0" y1="1875.4" x2="2063.0" y2="1875.4" stroke="#424242" stroke-width="5.2"/>
<line x1="312.0" y1="1770.8" x2="336.0" y2="1770.8" stroke="#424242" stroke-width="5.2"/>
<line x1="2075.0" y1="1770.8" x2="2051.0" y2="1770.8" stroke="#424242" stroke-width="5.2"/>
<line x1="312.0" y1="1666.1" x2="324.0" y2="1666.1" stroke="#424242" stroke-width="5.2"/>
<line x1="2075.0" y1="1666.1" x2="2063.0" y2="1666.1" stroke="#424242" stroke-width="5.2"/>
<text transform="translate(286,2837.7) scale(1.12,1)" font-size="65.5" text-anchor="end">0</text>
<text transform="translate(286,2628.4) scale(1.12,1)" font-size="65.5" text-anchor="end">2</text>
<text transform="translate(286,2419.1) scale(1.12,1)" font-size="65.5" text-anchor="end">4</text>
<text transform="translate(286,2209.8) scale(1.12,1)" font-size="65.5" text-anchor="end">6</text>
<text transform="translate(286,2000.6) scale(1.12,1)" font-size="65.5" text-anchor="end">8</text>
<text transform="translate(286,1791.3) scale(1.12,1)" font-size="65.5" text-anchor="end">10</text>
<text transform="translate(286,1582.0) scale(1.12,1)" font-size="65.5" text-anchor="end">12</text>
<text transform="translate(437.0,2893) scale(1.12,1)" font-size="65" text-anchor="middle">0.0</text>
<text transform="translate(688.9,2893) scale(1.12,1)" font-size="65" text-anchor="middle">0.1</text>
<text transform="translate(940.8,2893) scale(1.12,1)" font-size="65" text-anchor="middle">0.2</text>
<text transform="translate(1192.7,2893) scale(1.12,1)" font-size="65" text-anchor="middle">0.3</text>
<text transform="translate(1444.6,2893) scale(1.12,1)" font-size="65" text-anchor="middle">0.4</text>
<text transform="translate(1696.5,2893) scale(1.12,1)" font-size="65" text-anchor="middle">0.5</text>
<text transform="translate(1948.4,2893) scale(1.12,1)" font-size="65" text-anchor="middle">0.6</text>
<text class="b" transform="translate(361,1674) scale(1.14,1)" font-size="75">(B)</text>
<text transform="translate(768,2128) scale(1.10,1)" font-size="64.5" text-anchor="end">75 ppb</text>
<text transform="translate(768,2206.5) scale(1.10,1)" font-size="64.5" text-anchor="end">1 ppb</text>
<line x1="513.2" y1="2263.0" x2="513.2" y2="2040.0" stroke="#333" stroke-width="5.2"/>
<polygon points="513.3,2013 524.3,2047 502.3,2047" fill="#0a0a0a"/>
<g clip-path="url(#clipB)"><text class="b" x="714" y="3012.8" font-size="76" textLength="961" lengthAdjust="spacingAndGlyphs">Potential (V vs. Ag/AgCl)</text></g>
<text class="b" transform="translate(89,2666) rotate(-90)" font-size="79.5" textLength="876" lengthAdjust="spacingAndGlyphs">Current density (µA / cm</text>
<text class="b" transform="translate(48.9,1793.5) rotate(-90)" font-size="45.5" textLength="33.5" lengthAdjust="spacingAndGlyphs">2</text>
<text class="b" transform="translate(89,1767.5) rotate(-90)" font-size="79.5" textLength="25.5" lengthAdjust="spacingAndGlyphs">)</text>
<g id="inset" filter="url(#soft2)">
<line x1="1181.2" y1="1596.0" x2="1181.2" y2="2283.5" stroke="#858585" stroke-width="6.6"/>
<line x1="1177.9" y1="2280.5" x2="2073.0" y2="2280.5" stroke="#858585" stroke-width="6.0"/>
<line x1="1180.4" y1="2224.0" x2="1169.4" y2="2224.0" stroke="#858585" stroke-width="5.2"/>
<text x="1160" y="2237.5" font-size="38" text-anchor="end" fill="#3a3a3a" stroke="#3a3a3a" stroke-width="1.4">0</text>
<line x1="1180.4" y1="2167.0" x2="1174.9" y2="2167.0" stroke="#858585" stroke-width="5.2"/>
<line x1="1180.4" y1="2110.0" x2="1169.4" y2="2110.0" stroke="#858585" stroke-width="5.2"/>
<text x="1160" y="2123.5" font-size="38" text-anchor="end" fill="#3a3a3a" stroke="#3a3a3a" stroke-width="1.4">2</text>
<line x1="1180.4" y1="2053.0" x2="1174.9" y2="2053.0" stroke="#858585" stroke-width="5.2"/>
<line x1="1180.4" y1="1996.0" x2="1169.4" y2="1996.0" stroke="#858585" stroke-width="5.2"/>
<text x="1160" y="2009.5" font-size="38" text-anchor="end" fill="#3a3a3a" stroke="#3a3a3a" stroke-width="1.4">4</text>
<line x1="1180.4" y1="1939.0" x2="1174.9" y2="1939.0" stroke="#858585" stroke-width="5.2"/>
<line x1="1180.4" y1="1882.0" x2="1169.4" y2="1882.0" stroke="#858585" stroke-width="5.2"/>
<text x="1160" y="1895.5" font-size="38" text-anchor="end" fill="#3a3a3a" stroke="#3a3a3a" stroke-width="1.4">6</text>
<line x1="1180.4" y1="1825.0" x2="1174.9" y2="1825.0" stroke="#858585" stroke-width="5.2"/>
<line x1="1180.4" y1="1768.0" x2="1169.4" y2="1768.0" stroke="#858585" stroke-width="5.2"/>
<text x="1160" y="1781.5" font-size="38" text-anchor="end" fill="#3a3a3a" stroke="#3a3a3a" stroke-width="1.4">8</text>
<line x1="1180.4" y1="1711.0" x2="1174.9" y2="1711.0" stroke="#858585" stroke-width="5.2"/>
<line x1="1180.4" y1="1654.0" x2="1169.4" y2="1654.0" stroke="#858585" stroke-width="5.2"/>
<text x="1160" y="1667.5" font-size="38" text-anchor="end" fill="#3a3a3a" stroke="#3a3a3a" stroke-width="1.4">10</text>
<line x1="1230.5" y1="2280.5" x2="1230.5" y2="2293.0" stroke="#858585" stroke-width="5.2"/>
<text x="1230.5" y="2333" font-size="38" text-anchor="middle" fill="#3a3a3a" stroke="#3a3a3a" stroke-width="1.4">0</text>
<line x1="1329.5" y1="2280.5" x2="1329.5" y2="2287.0" stroke="#858585" stroke-width="5.2"/>
<line x1="1428.5" y1="2280.5" x2="1428.5" y2="2293.0" stroke="#858585" stroke-width="5.2"/>
<text x="1428.5" y="2333" font-size="38" text-anchor="middle" fill="#3a3a3a" stroke="#3a3a3a" stroke-width="1.4">20</text>
<line x1="1527.5" y1="2280.5" x2="1527.5" y2="2287.0" stroke="#858585" stroke-width="5.2"/>
<line x1="1626.5" y1="2280.5" x2="1626.5" y2="2293.0" stroke="#858585" stroke-width="5.2"/>
<text x="1626.5" y="2333" font-size="38" text-anchor="middle" fill="#3a3a3a" stroke="#3a3a3a" stroke-width="1.4">40</text>
<line x1="1725.5" y1="2280.5" x2="1725.5" y2="2287.0" stroke="#858585" stroke-width="5.2"/>
<line x1="1824.5" y1="2280.5" x2="1824.5" y2="2293.0" stroke="#858585" stroke-width="5.2"/>
<text x="1824.5" y="2333" font-size="38" text-anchor="middle" fill="#3a3a3a" stroke="#3a3a3a" stroke-width="1.4">60</text>
<line x1="1923.5" y1="2280.5" x2="1923.5" y2="2287.0" stroke="#858585" stroke-width="5.2"/>
<line x1="2022.5" y1="2280.5" x2="2022.5" y2="2293.0" stroke="#858585" stroke-width="5.2"/>
<text x="2022.5" y="2333" font-size="38" text-anchor="middle" fill="#3a3a3a" stroke="#3a3a3a" stroke-width="1.4">80</text>
<polyline fill="none" stroke="#4a4a4a" stroke-width="4.2" points="1240.4,2205.2 1329.5,2149.9 1478.0,2044.5 1725.5,1887.7 1973.0,1722.4"/>
<path d="M1329.5,2130.9V2168.9M1323.5,2130.9h12M1323.5,2168.9h12" stroke="#b5b5b5" stroke-width="2.6" fill="none"/>
<path d="M1725.5,1870.7V1904.7M1719.5,1870.7h12M1719.5,1904.7h12" stroke="#b5b5b5" stroke-width="2.6" fill="none"/>
<path d="M1973.0,1683.4V1761.4M1967.0,1683.4h12M1967.0,1761.4h12" stroke="#b5b5b5" stroke-width="2.6" fill="none"/>
<rect x="1232.9" y="2197.7" width="15" height="15" fill="#050505"/>
<rect x="1322.0" y="2142.4" width="15" height="15" fill="#050505"/>
<rect x="1470.5" y="2037.0" width="15" height="15" fill="#050505"/>
<rect x="1718.0" y="1880.2" width="15" height="15" fill="#050505"/>
<rect x="1965.5" y="1714.9" width="15" height="15" fill="#050505"/>
<text class="b" x="1420" y="2399.5" font-size="42.5" fill="#222" textLength="417" lengthAdjust="spacingAndGlyphs">Concentration (ppb)</text>
<text class="b" transform="translate(1097.7,2244) rotate(-90)" font-size="43" textLength="501.5" lengthAdjust="spacingAndGlyphs" fill="#1c1c1c" stroke="#1c1c1c">Current density (µA / cm</text>
<text class="b" transform="translate(1082.7,1741.5) rotate(-90)" font-size="43" textLength="25" lengthAdjust="spacingAndGlyphs" fill="#1c1c1c" stroke="#1c1c1c">2</text>
<text class="b" transform="translate(1097.7,1723.8) rotate(-90)" font-size="43" textLength="14.5" lengthAdjust="spacingAndGlyphs" fill="#1c1c1c" stroke="#1c1c1c">)</text>
</g>
</g>
</g></svg></body></html>
